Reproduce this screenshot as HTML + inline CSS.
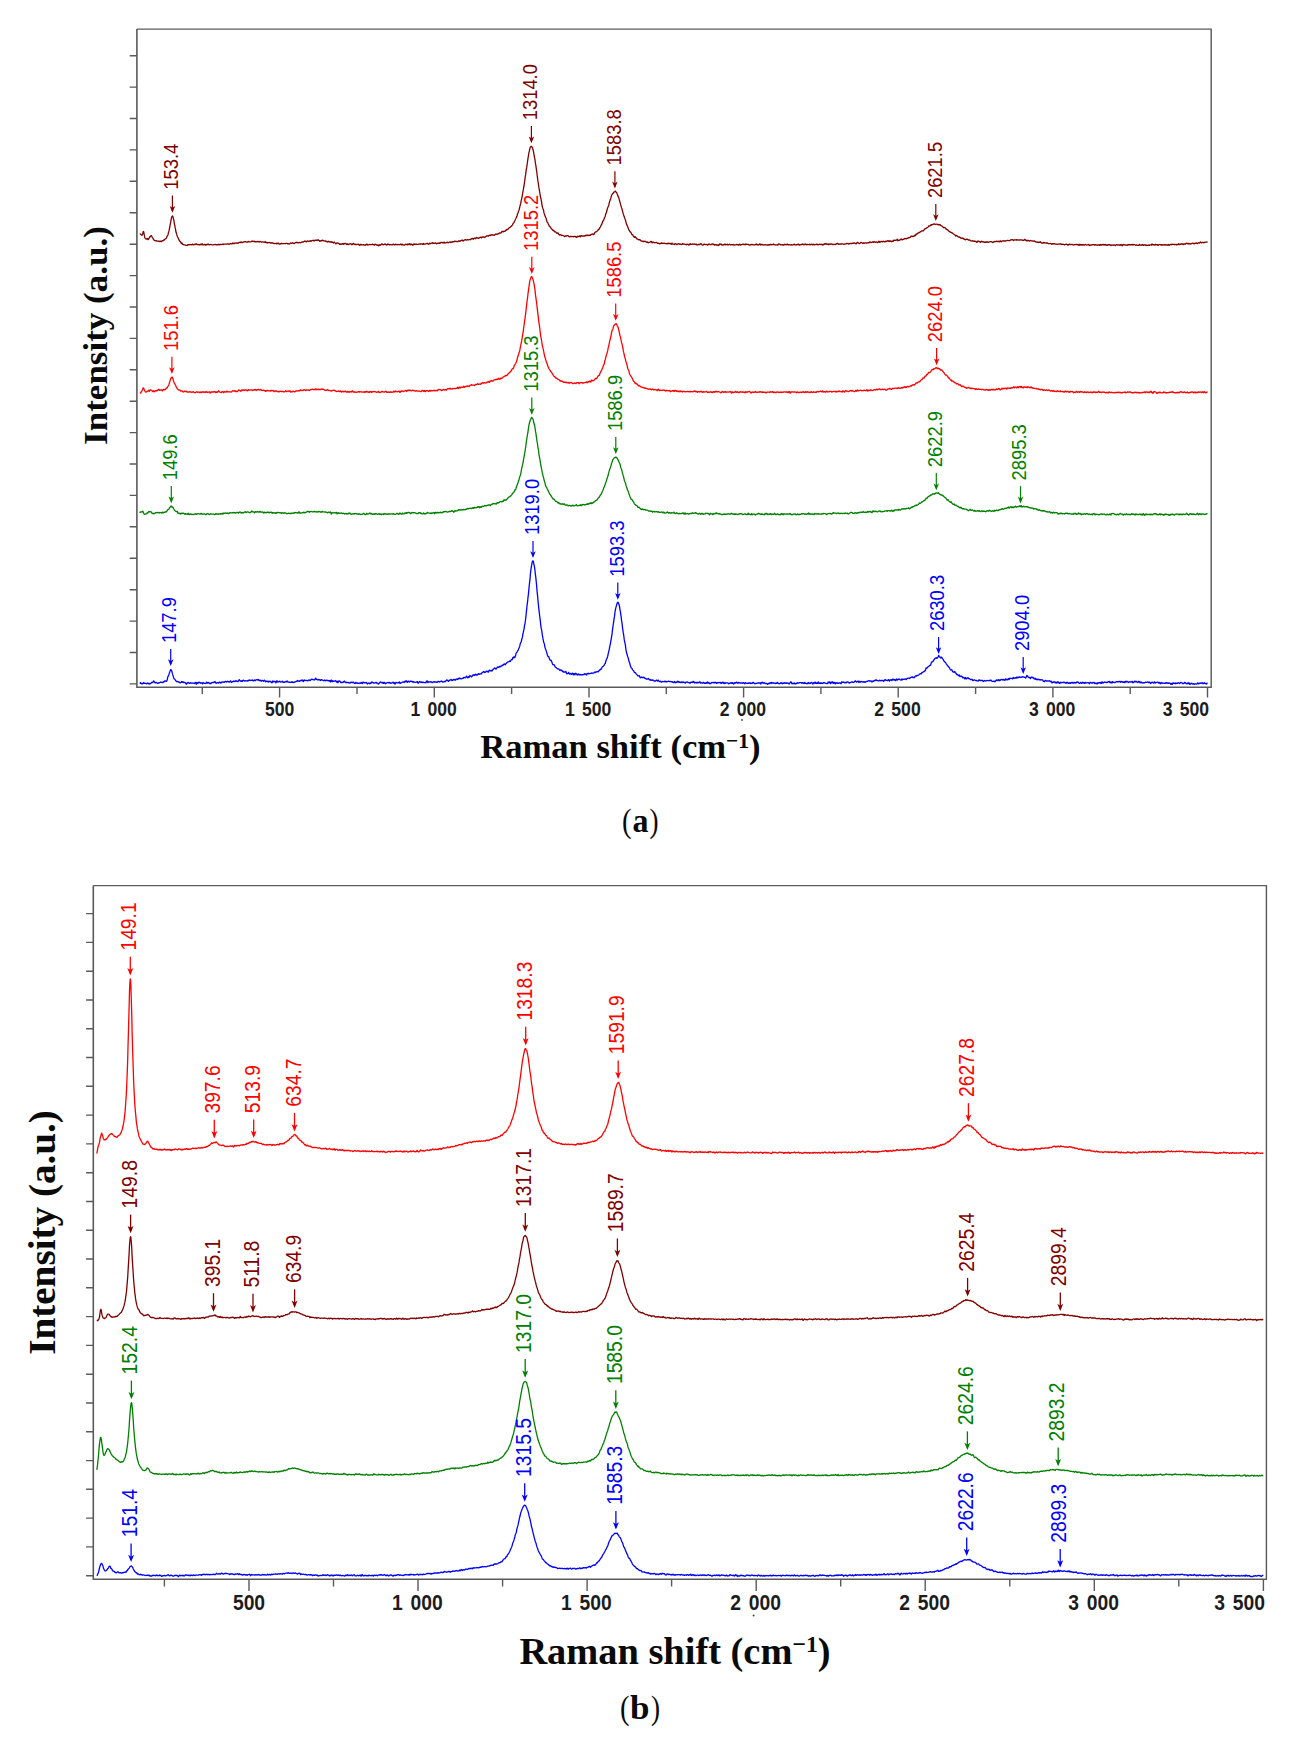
<!DOCTYPE html>
<html lang="en"><head><meta charset="utf-8"><title>Raman spectra</title>
<style>
html,body{margin:0;padding:0;background:#fff;}
body{width:1298px;height:1747px;position:relative;overflow:hidden;font-family:"Liberation Serif",serif;color:#111;}
svg text{white-space:pre;}
</style></head><body>
<svg width="1298" height="1747" viewBox="0 0 1298 1747" style="position:absolute;left:0;top:0;font-family:'Liberation Sans',sans-serif">
<path d="M139.8 234l.4-.1 .3 .3 .4 .4 .3 0 .3 .3 .4 .4 .3-.3 .4-.8 .3-1.2 .3-1.3 .4-.2 .3 1.4 .4 2.1 .3 1.7 .3 1 .4 .7 .3 .4 .4 .3 .3-.1 .4 0 .3-.1 .3-.4 .4 .3 .3 .9 .4-.2 .3-.7 .3-.6 .4-.5 .3-.8 .4-.5 .3 .1 .3-.4 .4-.6 .3 .1 .4 .5 .3 .9 .3 .7 .4 .3 .3 .5 .4 .9 .3 .4 .3 .3 .4 .4 .3 .1 .4 0 .3 .2 .3 .1 .4-.1 .3-.1 .4 .3 .3 .2 .3-.1 .4 0 .3 .1 .4 .1 .3-.2 .3 .2 .4 .3 .3-.2 .4-.2 .3 0 .3 .3 .4 0 .3-.3 .4-.2 .3-.3 .3 0 .4 .2 .3-.5 .4-.4 .3 .1 .3-.1 .4-.5 .3-.5 .4-.2 .3 0 .3-.2 .4-.6 .3-.8 .4-.9 .3-.5 .3-.3 .4-1.1 .3-1.6 .4-1.3 .3-1.1 .3-1.5 .4-1.9 .3-2 .4-1.9 .3-1.8 .3-1.7 .4-1.7 .3-1.2 .4-.3 .3-.4 .3 .4 .4 1.1 .3 1.4 .4 1.6 .3 1.8 .3 2 .4 1.7 .3 1.7 .4 2 .3 2.1 .4 1.3 .3 .7 .3 1.2 .4 1.3 .3 .8 .4 .6 .3 .6 .3 .8 .4 .8 .3 .6 .4 .5 .3 .4 .3 .1 .4 .4 .3 1.1 .4 .6 .3-.6 .3-.1 .4 .9 .3 .6 .4-.1 .3 .3 .3 .2 .4 0 .3 0 .4 .1 .3 .1 .3 .1 .4 .2 .3 .1 .4-.1 .3 0 .3 .1 .4-.2 .3-.5 .4 0 .3 .1 .3-.1 .4 .1 .3-.1 .4-.2 .3 .1 .3 .1 .4-.2 .3 .2 .4 .2 .3 0 .3-.5 .4-.2 .3 .3 .4 .3 .3 .1 .3-.3 .4-.4 .3 .2 .4 .2 .3-.2 .3-.3 .4-.2 .3-.1 .4 .4 .3 .4 .3 0 .4-.1 .3 0 .4 0 .3 .2 .3 .1 .4-.2 .3 .1 .4 .1 .3-.4 .3-.3 .4 .1 .3 .4 .4-.2 .3-.6 .3 .3 .4 .8 .3 0 .4 0 .3 .1 .3-.2 .4-.3 .3-.3 .4 .3 .3 .7 .4 0 .3-.3 .3-.4 .4-.2 .3 .3 .4 0 .3-.6 .3 0 .4 .6 .3 .1 .4 0 .3 .1 .3-.1 .4-.3 .3 .2 .4 .1 .3-.1 .3 .1 .4 .1 .3 0 .4 0 .3 .1 .3-.1 .4-.1 .3-.1 .4 0 .3-.1 .3-.1 .4 .1 .3 .2 .4 0 .3 .2 .3-.1 .4-.2 .3 .2 .4-.1 .3-.3 .3-.1 .4 .4 .3 .2 .4-.4 .3-.1 .3 .2 .4-.2 .3 .1 .4 .2 .3-.3 .3-.1 .4 .1 .3 0 .4-.4 .3 .3 .3 .3 .4-.4 .3-.1 .4 0 .3 0 .3 0 .4 0 .3 0 .4-.1 .3 .1 .3 .1 .4-.2 .3-.2 .4 .2 .3 0 .3 0 .4 .3 .3-.1 .4-.2 .3 0 .3-.2 .4-.3 .3 0 .4 .3 .3 0 .3 0 .4-.1 .3-.7 .4 .3 .3 .2 .3-.3 .4 .2 .3 .2 .4-.4 .3-.3 .4 .3 .3 0 .3-.1 .4 0 .3-.2 .4 0 .3 .3 .3 .1 .4-.2 .3-.2 .4-.4 .3-.1 .3 0 .4 0 .3 .2 .4 0 .3-.5 .3-.2 .4 .4 .3 .2 .4 0 .3 0 .3-.1 .4-.2 .3-.2 .4-.3 .3 .1 .3 0 .4-.1 .3 0 .4-.1 .3 .3 .3 .3 .4-.2 .3 0 .4 .1 .3 0 .3-.2 .4-.4 .3 0 .4 .4 .3 0 .3-.1 .4 0 .3 .1 .4 0 .3-.2 .3-.2 .4-.4 .3-.1 .4 .2 .3 .3 .3 .1 .4-.2 .3-.1 .4-.2 .3 .2 .3 .5 .4 0 .3-.1 .4 0 .3 .1 .3 0 .4-.3 .3-.1 .4 .2 .3 .3 .3-.1 .4-.3 .3 .3 .4 .2 .3-.3 .3-.3 .4 .2 .3 .1 .4 .1 .3 .2 .3 0 .4-.1 .3-.1 .4 0 .3 .4 .3 0 .4-.2 .3-.2 .4 .3 .3 .3 .4-.1 .3-.5 .3 .2 .4 .7 .3 0 .4-.3 .3 .5 .3 .1 .4-.5 .3-.1 .4 .3 .3 0 .3-.2 .4-.1 .3 .1 .4 .2 .3 .4 .3 0 .4-.2 .3-.2 .4 .2 .3 .2 .3-.2 .4 0 .3 .2 .4 .2 .3 .2 .3 .2 .4-.3 .3 0 .4 0 .3 .1 .3 .2 .4 .1 .3-.4 .4-.2 .3 .4 .3-.2 .4-.2 .3 0 .4 .1 .3 .7 .3 .2 .4-.3 .3 0 .4 .1 .3-.1 .3-.5 .4 0 .3 .2 .4-.1 .3 .1 .3 .1 .4 0 .3 0 .4-.2 .3 .1 .3 0 .4 0 .3 .1 .4-.1 .3-.2 .3-.1 .4 .1 .3-.1 .4 .1 .3 .4 .3 0 .4-.2 .3 .1 .4 .3 .3 .1 .3-.1 .4-.3 .3-.5 .4-.3 .3 .1 .3 .3 .4 .2 .3-.2 .4-.4 .3-.3 .3 .3 .4 .4 .3 .1 .4 .1 .3 0 .4-.2 .3-.4 .3-.3 .4 0 .3-.2 .4-.1 .3 .2 .3-.1 .4 .1 .3 .3 .4 0 .3-.1 .3 .1 .4-.1 .3-.2 .4 0 .3 .2 .3 .1 .4-.1 .3-.3 .4-.3 .3 0 .3-.1 .4 0 .3 .2 .4-.1 .3-.4 .3-.2 .4-.2 .3-.2 .4 .2 .3-.1 .3 0 .4 .3 .3 .4 .4-.1 .3-.5 .3-.3 .4 0 .3 .2 .4 0 .3 .1 .3 .2 .4-.3 .3-.1 .4-.1 .3-.3 .3 .3 .4 .4 .3-.4 .4-.3 .3-.1 .3-.1 .4-.2 .3 .3 .4 .3 .3-.3 .3-.3 .4 .4 .3 .1 .4-.3 .3-.3 .3-.1 .4 .2 .3 .1 .4-.2 .3 .1 .3 .2 .4-.6 .3-.2 .4 .6 .3 0 .3 0 .4 .6 .3 .5 .4-.2 .3-.2 .3-.3 .4-.2 .3 .2 .4 .2 .3-.4 .3-.4 .4 .1 .3 .3 .4 .2 .3 .2 .4 .2 .3-.1 .3-.1 .4 0 .3 .2 .4 .4 .3-.2 .3-.1 .4 .5 .3 .2 .4 .2 .3-.1 .3-.5 .4-.3 .3 .2 .4 .3 .3 .2 .3 .2 .4 0 .3-.2 .4-.2 .3 .2 .3 .4 .4 .1 .3-.2 .4-.2 .3 .5 .3 .5 .4-.5 .3-.4 .4 .1 .3 .3 .3 .5 .4 .6 .3 .2 .4-.2 .3-.4 .3-.3 .4 .1 .3 0 .4 .1 .3 .2 .3 .1 .4-.1 .3 .6 .4 .5 .3-.3 .3-.1 .4 .4 .3-.3 .4-.2 .3 .4 .3 0 .4-.2 .3-.3 .4-.3 .3 .2 .3 .6 .4-.1 .3-.6 .4-.3 .3 .2 .3 .1 .4-.1 .3 .3 .4 .5 .3 .2 .3-.4 .4-.3 .3 .4 .4 .3 .3 0 .3-.3 .4-.2 .3 .1 .4-.1 .3-.1 .3-.1 .4-.1 .3 .2 .4 .5 .3 .2 .3 0 .4-.2 .3-.4 .4-.6 .3 .2 .4 .6 .3 .1 .3-.1 .4 .5 .3-.1 .4-.3 .3 .3 .3 .1 .4-.2 .3-.2 .4 0 .3 0 .3 0 .4-.1 .3 .1 .4 .4 .3 .5 .3 .2 .4-.2 .3-.5 .4-.4 .3 .1 .3 .4 .4 .1 .3 0 .4-.1 .3 .1 .3 .1 .4-.3 .3-.1 .4 .4 .3 .2 .3-.1 .4-.2 .3 .1 .4 .2 .3-.6 .3-.5 .4 0 .3 .2 .4 .4 .3 .4 .3-.3 .4 0 .3 .1 .4-.4 .3 0 .3 .1 .4-.1 .3 .1 .4 0 .3 .1 .3 0 .4-.1 .3-.3 .4-.2 .3 .2 .3 .4 .4 0 .3 .1 .4 .5 .3-.2 .3-.7 .4-.2 .3 .1 .4 .2 .3 .1 .3 .3 .4 .4 .3 0 .4-.3 .3-.1 .3 .4 .4 .5 .3-.2 .4-.7 .3-.3 .3 .2 .4 .4 .3-.2 .4-.5 .3-.1 .3-.3 .4-.2 .3 .5 .4 .3 .3 .1 .4 0 .3-.2 .3-.1 .4-.2 .3-.3 .4 0 .3 .3 .3 .1 .4 .3 .3 .3 .4 0 .3-.2 .3-.5 .4-.3 .3 .1 .4 .2 .3 .2 .3 .3 .4 .1 .3-.4 .4 .1 .3 .1 .3 0 .4 .2 .3 0 .4-.1 .3 .1 .3-.2 .4-.4 .3-.2 .4 0 .3 .4 .3 .4 .4 0 .3-.1 .4-.4 .3-.3 .3 .2 .4 .4 .3-.1 .4 .1 .3 .1 .3-.2 .4-.1 .3 .1 .4 0 .3 0 .3 .2 .4-.1 .3-.4 .4-.2 .3 0 .3 .6 .4 .2 .3-.6 .4-.1 .3 .5 .3 .2 .4 0 .3 0 .4 .1 .3 .1 .3-.1 .4 0 .3-.5 .4-.4 .3 .1 .3 .1 .4 .3 .3 .3 .4-.1 .3-.5 .3-.3 .4 .1 .3 .4 .4 .1 .3-.4 .3-.5 .4 .1 .3 .6 .4 .5 .3-.2 .3-.5 .4 0 .3 .3 .4 .2 .3 .5 .4-.3 .3-.7 .3-.2 .4 .3 .3 .1 .4-.4 .3-.1 .3 .4 .4 .1 .3-.1 .4-.1 .3 0 .3 .1 .4 .1 .3 0 .4-.1 .3 0 .3-.2 .4-.1 .3 .2 .4-.1 .3-.2 .3 .1 .4 .1 .3-.3 .4 .1 .3 .1 .3 .1 .4 .2 .3-.4 .4-.4 .3 .4 .3 .4 .4-.1 .3 0 .4-.1 .3 0 .3-.1 .4-.3 .3-.1 .4 0 .3-.2 .3-.2 .4 .3 .3 .5 .4 .2 .3 .2 .3-.4 .4-.5 .3-.3 .4 .1 .3 .3 .3 0 .4-.2 .3-.3 .4 0 .3-.1 .3-.4 .4 .5 .3 .4 .4-.2 .3-.2 .3 .2 .4 .1 .3-.3 .4-.1 .3-.2 .3 .2 .4 .6 .3 .3 .4-.2 .3-.4 .3-.1 .4 .1 .3 0 .4-.3 .3-.1 .3 .4 .4 0 .3-.3 .4 .1 .3-.2 .3-.5 .4-.1 .3 .3 .4 .1 .3-.4 .4 .2 .3 .5 .3 0 .4-.3 .3-.5 .4 .2 .3 .5 .3 .2 .4-.3 .3 .1 .4 0 .3-.3 .3-.1 .4-.3 .3 0 .4 .5 .3 .1 .3-.1 .4-.3 .3-.2 .4 0 .3-.3 .3 .2 .4 .4 .3-.4 .4-.1 .3 .2 .3 .1 .4-.2 .3-.4 .4 0 .3 0 .3 0 .4 .2 .3-.2 .4-.5 .3 0 .3 0 .4 .1 .3 .3 .4-.1 .3-.1 .3 .1 .4 .1 .3 .1 .4-.1 .3-.4 .3-.3 .4 .1 .3 .3 .4-.3 .3 0 .3 .2 .4-.4 .3-.4 .4 0 .3-.1 .3-.2 .4 .1 .3 .5 .4 .4 .3-.3 .3-.4 .4-.1 .3-.3 .4-.1 .3-.1 .3-.1 .4 .2 .3 0 .4 .1 .3 0 .3-.2 .4-.1 .3 0 .4 .1 .3 0 .3 0 .4-.1 .3 0 .4-.1 .3-.2 .3 .2 .4-.1 .3-.6 .4-.3 .3 0 .4-.1 .3-.1 .3 .5 .4 .3 .3-.3 .4-.4 .3-.3 .3-.1 .4 0 .3 .3 .4 .3 .3-.4 .3-.7 .4-.1 .3 .3 .4 .3 .3 0 .3-.1 .4 .3 .3 .1 .4-.3 .3-.4 .3-.2 .4-.2 .3-.1 .4 0 .3 .2 .3 .6 .4-.4 .3-.6 .4 .2 .3-.1 .3-.2 .4 0 .3 0 .4 .3 .3 .3 .3-.1 .4-.3 .3-.4 .4-.3 .3 0 .3-.3 .4-.4 .3 .1 .4 .2 .3-.1 .3 .1 .4 0 .3-.3 .4-.4 .3-.1 .3 .1 .4 .3 .3-.2 .4-.5 .3 .1 .3 0 .4-.3 .3 0 .4 .5 .3 0 .3-.2 .4 .1 .3 .2 .4-.1 .3 0 .3-.6 .4-.6 .3 .1 .4 .1 .3-.2 .3 .2 .4 .2 .3-.1 .4-.3 .3-.5 .3 0 .4 .3 .3-.3 .4-.6 .3-.1 .3 .1 .4 .1 .3-.2 .4 0 .3-.4 .4-.8 .3-.2 .3 .1 .4 .1 .3 .2 .4-.2 .3-.5 .3 0 .4 .2 .3 0 .4-.5 .3-.4 .3 .1 .4-.3 .3-.6 .4-.1 .3 .2 .3 0 .4-.4 .3-.6 .4-.5 .3-.2 .3-.3 .4 0 .3-.3 .4-.6 .3-.1 .3-.2 .4-.5 .3-.4 .4-.1 .3-.5 .3-.7 .4-.6 .3-.6 .4-.3 .3-.5 .3-.8 .4-.8 .3-.7 .4-.7 .3-.6 .3-.7 .4-.6 .3-.8 .4-1.4 .3-1.2 .3-.8 .4-.7 .3-1.2 .4-.9 .3-.9 .3-1.5 .4-1.5 .3-1.3 .4-1.3 .3-1.6 .3-1.7 .4-1.5 .3-1.5 .4-1.8 .3-2 .3-2 .4-1.9 .3-1.9 .4-2 .3-2.1 .3-2.4 .4-2.6 .3-2.3 .4-2.4 .3-2.5 .3-2.4 .4-1.9 .3-2.1 .4-2.6 .3-2.3 .3-2.1 .4-2.3 .3-2.1 .4-1.7 .3-1.4 .3-1.5 .4-1.4 .3-1 .4-.3 .3-.3 .4 0 .3 .7 .3 .2 .4 .3 .3 1.2 .4 1.4 .3 1.5 .3 2 .4 2.1 .3 1.6 .4 1.9 .3 2.3 .3 2.2 .4 2 .3 2.3 .4 2.7 .3 2.3 .3 2.5 .4 2.9 .3 2.5 .4 2.1 .3 2.5 .3 2.2 .4 1.6 .3 2.1 .4 2.4 .3 2 .3 1.7 .4 1.3 .3 1.8 .4 2.2 .3 2 .3 1.7 .4 1.4 .3 .9 .4 .9 .3 1.5 .3 1.7 .4 1.2 .3 1 .4 .9 .3 .9 .3 .6 .4 .7 .3 1.3 .4 1.4 .3 1.1 .3 .3 .4 .3 .3 .9 .4 .8 .3 .6 .3 .9 .4 .4 .3 .2 .4 .5 .3 .5 .3 .4 .4 .6 .3 .6 .4 .2 .3 .1 .3 .5 .4 .7 .3 .1 .4-.2 .3 .2 .3 .7 .4 .4 .3 .1 .4 .1 .3 0 .3 .2 .4 .4 .3 .6 .4 .3 .3-.1 .3-.2 .4-.2 .3 .4 .4 .8 .3 .4 .3 .4 .4 .1 .3-.4 .4 .1 .3 .2 .4-.1 .3 .5 .3 .3 .4-.3 .3 0 .4 .2 .3 .1 .3 .1 .4 .1 .3 .3 .4 .5 .3-.1 .3-.4 .4 0 .3-.2 .4 0 .3 .2 .3-.1 .4-.3 .3 0 .4 0 .3 0 .3 .4 .4 .5 .3 .3 .4 0 .3-.3 .3-.1 .4 0 .3 0 .4 .1 .3-.1 .3 0 .4 .2 .3 0 .4-.3 .3-.1 .3 .5 .4-.1 .3-.4 .4 .1 .3 .1 .3-.1 .4 .5 .3 .2 .4-.2 .3 .4 .3 0 .4-.7 .3-.4 .4 .2 .3 .2 .3 .1 .4-.2 .3-.4 .4-.2 .3 .5 .3 .3 .4-.5 .3-.5 .4 0 .3 .2 .3 .3 .4 0 .3-.2 .4 0 .3 .1 .3-.2 .4-.1 .3 .3 .4 .1 .3-.3 .3-.4 .4-.4 .3 .1 .4 .3 .3 .2 .3-.5 .4-.1 .3 .3 .4 .1 .3-.1 .4-.2 .3-.1 .3 .4 .4 .2 .3-.5 .4-.6 .3-.1 .3 0 .4-.2 .3-.2 .4-.1 .3 0 .3 .4 .4 .1 .3-.2 .4 0 .3-.7 .3-.9 .4-.4 .3-.2 .4-.3 .3 0 .3 0 .4-.3 .3-.5 .4-.2 .3-.2 .3-.6 .4-.5 .3-.3 .4-.1 .3-.5 .3-.9 .4-.6 .3-.5 .4-.9 .3-.5 .3-.5 .4-.8 .3-.8 .4-1 .3-1.1 .3-.3 .4-.3 .3-.9 .4-1.1 .3-.8 .3-.7 .4-1 .3-1.6 .4-1 .3-.4 .3-1.2 .4-1.4 .3-1.3 .4-1.1 .3-.8 .3-.7 .4-.9 .3-1.3 .4-1.7 .3-1.1 .3-.9 .4-.9 .3-1 .4-1.4 .3-1.4 .3-.6 .4-.5 .3-.9 .4-.3 .3-.1 .3-.5 .4-.7 .3-.4 .4 0 .3 .1 .3-.5 .4-.2 .3 .5 .4 .5 .3 .1 .3 .5 .4 1.2 .3 .8 .4 1 .3 1 .4 .3 .3 .7 .3 1.8 .4 1.5 .3 .8 .4 1.2 .3 1.3 .3 1.1 .4 1.2 .3 1.2 .4 1.1 .3 1 .3 1.3 .4 1.5 .3 1.4 .4 1.1 .3 .8 .3 1 .4 1 .3 .8 .4 .9 .3 1.2 .3 1.2 .4 1.4 .3 1 .4 .8 .3 .7 .3 .7 .4 .9 .3 .9 .4 1 .3 .6 .3 .3 .4 .7 .3 .7 .4 .1 .3 .2 .3 .6 .4 .9 .3 .7 .4 .3 .3-.1 .3 .2 .4 1 .3 .7 .4-.1 .3 .4 .3 .7 .4-.2 .3-.5 .4 .4 .3 .5 .3 .2 .4 .3 .3 .7 .4 .2 .3 0 .3 .2 .4 .3 .3 .3 .4-.3 .3-.1 .3 .3 .4 0 .3 .1 .4 .6 .3 .5 .3 0 .4 0 .3 .1 .4 0 .3 .2 .3 .4 .4-.1 .3-.5 .4 .1 .3 .2 .3 .1 .4-.1 .3-.1 .4 .2 .3 .4 .3 .3 .4 .2 .3-.2 .4-.3 .3 .4 .4 .5 .3-.1 .3-.3 .4-.1 .3 .1 .4-.2 .3-.2 .3-.3 .4-.4 .3 0 .4 .6 .3 .8 .3 .1 .4-.5 .3-.3 .4 .1 .3 .2 .3 .3 .4 0 .3 0 .4 .2 .3-.2 .3 0 .4 .1 .3-.2 .4-.1 .3 .4 .3 .3 .4 .2 .3 0 .4-.1 .3 .1 .3 .1 .4 .3 .3 .2 .4-.2 .3-.2 .3 .2 .4-.3 .3-.5 .4 .1 .3 .3 .3 .1 .4-.1 .3-.1 .4 .2 .3 0 .3-.2 .4 .2 .3 0 .4 .2 .3 .1 .3-.1 .4 0 .3 0 .4 .2 .3 0 .3-.3 .4-.3 .3-.1 .4 .3 .3 .3 .3-.3 .4-.1 .3 .3 .4-.2 .3-.1 .3 .6 .4 .4 .3-.6 .4-.6 .3 .5 .3 .6 .4 0 .3 0 .4-.1 .3 .2 .3 .2 .4-.5 .3-.4 .4 .3 .3 .1 .3-.1 .4 .4 .3 .4 .4-.1 .3-.4 .4-.2 .3-.1 .3-.1 .4-.1 .3 .2 .4 .4 .3-.2 .3-.2 .4 .3 .3 .2 .4-.1 .3 .1 .3 .2 .4-.3 .3-.8 .4 .2 .3 .5 .3 0 .4-.1 .3 0 .4 .1 .3 .1 .3 .1 .4-.1 .3 .4 .4 .2 .3-.4 .3-.4 .4 .1 .3 .2 .4-.1 .3 .1 .3 .6 .4 0 .3-.4 .4-.3 .3-.4 .3-.2 .4 .6 .3 .3 .4-.3 .3 0 .3 .1 .4-.4 .3-.2 .4 .3 .3 .2 .3-.2 .4 .1 .3 .1 .4-.3 .3 .1 .3 .3 .4 0 .3-.2 .4-.1 .3 .6 .3 .3 .4-.1 .3 0 .4-.1 .3-.2 .3-.3 .4-.1 .3 .3 .4 0 .3-.2 .3-.5 .4-.2 .3 .2 .4 .2 .3 .6 .3 .5 .4 .1 .3 0 .4-.2 .3-.5 .3-.4 .4 0 .3 .2 .4 .3 .3 .1 .3-.1 .4-.2 .3 0 .4 0 .3 .3 .4 .5 .3 0 .3-.5 .4-.5 .3 .1 .4-.1 .3-.2 .3 .3 .4 .3 .3 .2 .4 0 .3-.3 .3-.4 .4 .1 .3 0 .4-.2 .3 0 .3 .4 .4 .1 .3-.3 .4 .3 .3 .6 .3 0 .4-.3 .3 0 .4-.3 .3 0 .3 .4 .4 .3 .3 .1 .4-.3 .3-.2 .3 .3 .4 .4 .3-.2 .4-.6 .3-.8 .3-.1 .4 .5 .3-.1 .4-.2 .3 .1 .3 .6 .4 .3 .3 .2 .4-.1 .3-.4 .3-.1 .4 .4 .3-.1 .4-.5 .3-.3 .3-.1 .4 .3 .3 .5 .4-.1 .3-.2 .3 .2 .4-.2 .3-.3 .4 .4 .3 .4 .3-.2 .4-.2 .3-.1 .4-.3 .3 .1 .3 .4 .4 .2 .3 0 .4 0 .3-.1 .3-.2 .4 0 .3 .2 .4-.1 .3-.3 .3 .3 .4 .3 .3 0 .4 0 .3 0 .3-.1 .4 0 .3-.1 .4-.2 .3-.2 .4 .2 .3 .2 .3-.1 .4 0 .3 .3 .4 .1 .3-.3 .3-.4 .4-.2 .3 .3 .4 .6 .3 0 .3-.4 .4 0 .3 0 .4-.3 .3-.2 .3 0 .4-.1 .3 .1 .4 .5 .3 0 .3-.3 .4 .2 .3 .2 .4-.6 .3-.3 .3 .3 .4 .2 .3 0 .4 0 .3 0 .3-.1 .4 .1 .3 .2 .4 .1 .3 .3 .3 .2 .4-.1 .3-.1 .4-.1 .3-.3 .3-.2 .4 .2 .3 .2 .4-.1 .3-.2 .3 0 .4 .3 .3 .1 .4-.1 .3 .1 .3 .1 .4-.2 .3-.2 .4 0 .3-.3 .3-.4 .4 .4 .3 .6 .4-.2 .3-.3 .3 .3 .4 .3 .3-.1 .4-.2 .3-.3 .3-.5 .4 0 .3 .8 .4 .3 .3-.5 .3-.1 .4 .1 .3-.2 .4 .2 .3 .5 .3 0 .4-.1 .3-.1 .4 0 .3 .1 .3-.1 .4-.2 .3 .1 .4 .1 .3 0 .4 .2 .3 .2 .3-.2 .4-.1 .3 .1 .4 0 .3-.4 .3 .1 .4 .3 .3-.1 .4-.3 .3-.3 .3 .1 .4 .4 .3 0 .4-.3 .3-.2 .3 .1 .4 .3 .3 .1 .4-.4 .3-.4 .3 .3 .4 .3 .3 .2 .4 .1 .3 0 .3 .1 .4-.1 .3 0 .4 0 .3-.1 .3 .2 .4 .1 .3-.3 .4-.7 .3-.3 .3 .2 .4 0 .3 .2 .4 .3 .3 .3 .3 .2 .4-.2 .3 .1 .4-.1 .3-.2 .3 .2 .4 .3 .3-.1 .4-.1 .3 .1 .3-.2 .4-.5 .3-.1 .4 .4 .3 0 .3 0 .4 .3 .3-.3 .4-.4 .3-.1 .3 .2 .4 .6 .3 .1 .4-.4 .3-.1 .3 .2 .4 .1 .3 .1 .4-.1 .3 .2 .3 .1 .4-.4 .3 .1 .4 .2 .3-.1 .3 0 .4-.1 .3-.2 .4-.1 .3-.3 .3 .1 .4 .4 .3 .1 .4 .1 .3 .1 .4-.3 .3 0 .3 .1 .4-.5 .3 0 .4 .4 .3-.2 .3-.4 .4 .3 .3 .6 .4 .2 .3-.3 .3-.1 .4-.1 .3-.1 .4 0 .3 .1 .3-.3 .4-.5 .3 .3 .4 .2 .3 0 .3 .2 .4 .2 .3-.2 .4-.1 .3-.4 .3-.2 .4 .3 .3 .3 .4 .3 .3-.3 .3-.3 .4 .3 .3 .2 .4-.1 .3 0 .3 .1 .4-.2 .3-.3 .4 .4 .3 .3 .3-.3 .4-.2 .3-.1 .4-.1 .3 .2 .3 .3 .4 .1 .3-.4 .4-.2 .3 .2 .3 .2 .4 .2 .3 0 .4-.4 .3 0 .3 .3 .4 0 .3-.1 .4-.3 .3-.3 .3 .2 .4 .5 .3 .2 .4-.1 .3-.1 .3-.2 .4-.2 .3-.1 .4 .1 .3 .1 .3 0 .4 .2 .3-.1 .4-.3 .3 .2 .3 .5 .4 .2 .3-.3 .4-.5 .3 .3 .3-.2 .4-.6 .3-.1 .4 .3 .3 .2 .4-.4 .3-.3 .3 .4 .4 .4 .3 .1 .4-.1 .3-.3 .3 0 .4 .5 .3 .3 .4-.4 .3-.4 .3-.2 .4 .2 .3 .3 .4-.3 .3-.2 .3 .3 .4 .1 .3-.1 .4 .4 .3 .1 .3-.3 .4 .1 .3 .1 .4-.2 .3 0 .3 .2 .4 0 .3-.3 .4-.2 .3 0 .3-.3 .4-.2 .3-.2 .4 0 .3 .6 .3 .5 .4-.2 .3-.2 .4 .1 .3 .2 .3-.1 .4-.4 .3 0 .4 .2 .3 0 .3 0 .4-.1 .3-.1 .4 .1 .3 .1 .3 .2 .4 .2 .3-.1 .4-.1 .3 0 .3-.3 .4-.1 .3 .1 .4-.1 .3-.4 .3 .1 .4 .2 .3-.1 .4-.2 .3 .2 .3 .4 .4 0 .3-.1 .4-.2 .3-.4 .3 .1 .4 .1 .3-.1 .4 0 .3 .3 .3 0 .4-.5 .3 .1 .4 .1 .3-.2 .3-.2 .4-.1 .3 0 .4 .1 .3 .2 .4 .1 .3 .4 .3 .2 .4-.2 .3-.5 .4-.7 .3-.2 .3 .4 .4 .2 .3 0 .4 .6 .3 .2 .3-.1 .4-.2 .3-.3 .4-.4 .3-.3 .3-.1 .4 .2 .3 .2 .4 .3 .3 .3 .3 .2 .4-.2 .3-.3 .4-.1 .3 .4 .3 0 .4-.3 .3-.1 .4-.1 .3 .1 .3 .2 .4 0 .3-.2 .4 0 .3 0 .3-.1 .4-.2 .3 .1 .4 .2 .3-.2 .3-.5 .4-.2 .3 0 .4 .4 .3 .3 .3-.1 .4-.3 .3-.1 .4-.3 .3 0 .3 .4 .4 0 .3-.4 .4-.4 .3 .2 .3 .4 .4 .1 .3 .1 .4-.1 .3-.2 .3-.1 .4 .1 .3 .4 .4 .2 .3-.2 .3-.1 .4-.4 .3-.7 .4 .1 .3 .6 .3 .5 .4-.2 .3-.5 .4-.3 .3 .2 .3 0 .4-.2 .3 .2 .4 .3 .3-.2 .3-.4 .4-.1 .3 .2 .4 .4 .3 .1 .4 0 .3-.4 .3-.3 .4 .1 .3 .4 .4-.2 .3-.5 .3-.2 .4-.1 .3 .3 .4 .4 .3-.4 .3-.3 .4 .6 .3 .2 .4-.4 .3-.2 .3 .4 .4 .2 .3 0 .4 .1 .3-.3 .3-.4 .4 .5 .3 .1 .4-.7 .3-.7 .3 0 .4 .3 .3-.1 .4-.1 .3 .1 .3 .1 .4 0 .3-.3 .4-.5 .3-.3 .3 .6 .4 .9 .3-.1 .4-.6 .3 .1 .3 .2 .4-.2 .3-.2 .4-.1 .3-.3 .3-.4 .4-.2 .3 .3 .4 .5 .3 .1 .3-.3 .4-.2 .3 0 .4 0 .3-.2 .3-.5 .4-.3 .3 0 .4 .2 .3 0 .3 .3 .4 0 .3-.3 .4-.4 .3 .1 .3 .1 .4-.4 .3-.3 .4 0 .3 .1 .3-.2 .4-.1 .3-.1 .4-.3 .3-.5 .3-.5 .4 0 .3 .2 .4 .3 .3-.1 .3-.3 .4 0 .3 .3 .4-.2 .3-.2 .4-.6 .3-.4 .3 .4 .4 0 .3-1 .4-.5 .3-.1 .3 .1 .4-.1 .3-.5 .4-.4 .3 0 .3-.1 .4-.4 .3 0 .4 0 .3-.4 .3-.3 .4-.1 .3-.4 .4-.3 .3 .1 .3-.1 .4-.1 .3-.1 .4 0 .3 0 .3-.3 .4-.7 .3-.4 .4-.3 .3-.4 .3 0 .4 0 .3-.4 .4-.2 .3-.2 .3-.2 .4-.2 .3-.2 .4-.3 .3-.6 .3-.4 .4 .1 .3 .1 .4-.3 .3-.4 .3-.2 .4-.2 .3-.5 .4 .1 .3 .3 .3-.2 .4-.3 .3-.2 .4-.2 .3-.1 .3 0 .4 0 .3 0 .4 .3 .3 .2 .3-.2 .4-.1 .3 0 .4 0 .3 .1 .3 .3 .4 .1 .3-.2 .4-.1 .3 .3 .3 .3 .4-.2 .3-.3 .4 .2 .3 .4 .3 .4 .4 .3 .3 0 .4 .1 .3 .4 .3 .2 .4 .1 .3 .5 .4 .5 .3 0 .4-.1 .3 .2 .3 0 .4 .1 .3 .3 .4 .5 .3 .6 .3 .2 .4 .1 .3 .2 .4 0 .3 .4 .3 .6 .4 .2 .3 .2 .4 .2 .3 .4 .3 .1 .4 .1 .3 .4 .4 .1 .3 0 .3 .4 .4 .3 .3-.1 .4 .1 .3 .4 .3 .3 .4 .2 .3 .3 .4 .3 .3 0 .3 .3 .4 .8 .3 .4 .4-.3 .3-.3 .3 0 .4 .4 .3 .5 .4 .3 .3 0 .3 .2 .4 .3 .3-.2 .4-.2 .3 .4 .3 .4 .4 .1 .3 .4 .4 .2 .3-.2 .3-.1 .4-.1 .3 .3 .4 .4 .3-.2 .3-.1 .4 .5 .3 .5 .4 .1 .3 .1 .3 .3 .4-.1 .3-.4 .4-.1 .3 .2 .3 0 .4-.2 .3 .1 .4 .5 .3 .2 .3 0 .4 0 .3 0 .4 0 .3 .3 .3 .3 .4 .2 .3 0 .4 .1 .3 .1 .3 0 .4-.1 .3-.2 .4 .2 .3 .2 .4 .2 .3 .2 .3-.2 .4-.3 .3 .3 .4 .2 .3-.1 .3 .2 .4 .6 .3 .2 .4-.3 .3-.6 .3-.5 .4 0 .3 .3 .4 .3 .3 .1 .3-.3 .4 .1 .3 .6 .4 .2 .3-.3 .3-.5 .4-.3 .3 .2 .4 .5 .3 0 .3-.3 .4 0 .3 .3 .4 .4 .3 0 .3-.2 .4 .1 .3 .2 .4-.1 .3-.5 .3 .2 .4 .3 .3-.3 .4-.2 .3 .1 .3 .2 .4 .3 .3-.1 .4-.3 .3-.2 .3 0 .4-.1 .3-.1 .4 .1 .3-.1 .3 0 .4 .2 .3 .3 .4 .2 .3 .3 .3-.2 .4-.6 .3 .1 .4 0 .3-.4 .3-.1 .4 .2 .3 0 .4 .1 .3-.2 .3-.4 .4 .2 .3 .3 .4-.2 .3-.1 .3 .3 .4-.1 .3-.3 .4 .4 .3 .3 .3-.5 .4-.6 .3 .1 .4 .5 .3 .5 .3-.3 .4-.5 .3-.1 .4-.1 .3-.1 .4 0 .3-.1 .3 .4 .4 .1 .3-.2 .4 .1 .3 .1 .3-.4 .4-.2 .3 .1 .4 0 .3-.1 .3-.2 .4 0 .3 .1 .4 .2 .3 0 .3-.1 .4 .1 .3 0 .4-.4 .3-.3 .3-.2 .4 .1 .3 0 .4-.2 .3-.1 .3 .2 .4 .1 .3 .2 .4 .4 .3-.2 .3-.5 .4 0 .3 0 .4 0 .3 .2 .3-.2 .4-.2 .3 .4 .4 .1 .3-.2 .3 0 .4 0 .3-.1 .4 .4 .3 0 .3-.2 .4 0 .3-.1 .4-.1 .3 .2 .3 0 .4-.1 .3-.1 .4 .2 .3 .2 .3 .1 .4 .1 .3 .1 .4-.2 .3-.4 .3-.5 .4 .1 .3 .4 .4 0 .3 .2 .3 .7 .4 .1 .3-.6 .4 .1 .3 .4 .3-.4 .4-.1 .3 .2 .4 .2 .3 .3 .3 0 .4-.4 .3-.1 .4 .1 .3 .1 .3 .2 .4 0 .3-.1 .4 .1 .3 .1 .4 .1 .3 .2 .3-.2 .4-.1 .3-.1 .4 .2 .3 .4 .3 0 .4 .2 .3 .3 .4 .1 .3-.1 .3 .2 .4 .2 .3-.3 .4-.1 .3 .2 .3 .3 .4-.2 .3-.2 .4 .2 .3-.1 .3-.4 .4 .3 .3 .7 .4 .3 .3-.2 .3 .1 .4 0 .3 .2 .4-.1 .3-.5 .3-.1 .4 .1 .3 .1 .4 .4 .3 0 .3-.1 .4-.2 .3 .2 .4 0 .3-.2 .3 0 .4 .4 .3 .2 .4 .2 .3 .1 .3-.1 .4 0 .3 0 .4 0 .3-.1 .3 0 .4 .1 .3 .3 .4 .4 .3-.1 .3-.6 .4 0 .3 .3 .4-.3 .3 .1 .3 .1 .4-.1 .3 .1 .4 .1 .3 .3 .3 0 .4-.1 .3 0 .4 .1 .3 .2 .3-.2 .4-.1 .3 .1 .4-.1 .3-.1 .3 .1 .4-.1 .3 .1 .4 .1 .3-.2 .3-.2 .4 .5 .3 .3 .4-.3 .3-.2 .4 .3 .3 0 .3-.2 .4 .3 .3 .1 .4 .2 .3 0 .3-.3 .4-.2 .3 .1 .4 0 .3-.3 .3 .1 .4 .3 .3 .1 .4 .2 .3 .4 .3-.3 .4-.5 .3 .1 .4 .1 .3-.4 .3 0 .4 .4 .3 0 .4 0 .3-.1 .3-.2 .4 0 .3 .1 .4 .4 .3 .2 .3-.2 .4 0 .3 0 .4-.1 .3 0 .3 0 .4 0 .3-.2 .4 0 .3-.2 .3 0 .4 .5 .3 .1 .4-.4 .3 0 .3 .4 .4 .5 .3-.1 .4-.7 .3-.3 .3 .5 .4 .2 .3-.3 .4-.2 .3 .1 .3 .4 .4 .1 .3-.4 .4-.2 .3 .2 .3 .3 .4 0 .3 0 .4 0 .3-.5 .3-.1 .4 .3 .3 .1 .4 .2 .3 .1 .3-.1 .4-.2 .3 0 .4 .1 .3-.3 .3-.2 .4 .5 .3 .5 .4 .2 .3-.4 .3-.2 .4 0 .3 .1 .4-.1 .3-.2 .4 0 .3-.1 .3-.1 .4 0 .3 .2 .4-.1 .3 .1 .3 .3 .4-.1 .3-.4 .4 .1 .3 .2 .3 0 .4 0 .3 .3 .4 .1 .3-.3 .3-.1 .4-.1 .3 0 .4 .4 .3 .1 .3-.5 .4-.2 .3-.1 .4 .4 .3 .4 .3-.3 .4-.4 .3 .1 .4 .2 .3-.2 .3-.3 .4-.1 .3 .5 .4 .4 .3-.2 .3-.3 .4-.3 .3 0 .4 .4 .3 .5 .3-.2 .4-.2 .3 .3 .4 .2 .3-.3 .3-.4 .4 0 .3 .2 .4-.2 .3 .1 .3 .2 .4-.2 .3 .2 .4 .6 .3-.1 .3-.5 .4-.2 .3 .3 .4 .1 .3 0 .3 .1 .4-.2 .3-.2 .4 .2 .3-.1 .3 .1 .4 .5 .3-.2 .4-.4 .3-.1 .3-.3 .4 .2 .3 .2 .4-.2 .3 0 .3 .1 .4 .2 .3 0 .4-.3 .3 .1 .3 .4 .4-.1 .3-.5 .4-.2 .3 .4 .4 .4 .3 .5 .3-.2 .4-.8 .3-.3 .4 .2 .3 .1 .3-.1 .4 .1 .3 .2 .4 0 .3 0 .3 .1 .4-.1 .3 .1 .4 .1 .3 .1 .3-.2 .4-.5 .3 .1 .4 .1 .3-.3 .3-.1 .4 .4 .3 .2 .4-.1 .3-.3 .3 0 .4 .3 .3 0 .4-.6 .3 0 .3 .6 .4 .2 .3-.3 .4-.3 .3 .1 .3 .1 .4 0 .3 .1 .4 .3 .3 .2 .3 0 .4-.3 .3-.2 .4 .4 .3 .1 .3 .1 .4 0 .3-.1 .4 .1 .3-.5 .3-.5 .4 .3 .3 .3 .4 .1 .3 .1 .3 .1 .4-.1 .3-.4 .4-.3 .3 .3 .3 .4 .4 .2 .3-.1 .4-.5 .3-.2 .3 .3 .4 .1 .3 0 .4-.1 .3 .2 .3 .4 .4-.2 .3-.1 .4 .2 .3-.1 .3 0 .4 0 .3-.2 .4-.2 .3 .3 .3 .2 .4-.4 .3-.2 .4 0 .3 .2 .4 .2 .3-.5 .3-.7 .4 .3 .3 .6 .4 0 .3-.3 .3 .1 .4 .2 .3 .3 .4 0 .3-.4 .3-.5 .4 0 .3 .5 .4 .1 .3-.2 .3 0 .4 .2 .3 .5 .4 0 .3-.4 .3-.3 .4 0 .3-.1 .4-.2 .3 .3 .3 .1 .4-.2 .3 0 .4 .3 .3 .4 .3-.2 .4-.3 .3-.1 .4 .2 .3 .1 .3-.1 .4-.2 .3 .1 .4 .4 .3-.2 .3-.5 .4 .2 .3 .2 .4 .2 .3 .2 .3-.1 .4-.3 .3-.3 .4-.1 .3 .6 .3 .3 .4-.2 .3-.4 .4-.3 .3 0 .3 .2 .4 .1 .3-.3 .4-.3 .3-.1 .3 .2 .4 .1 .3-.1 .4 0 .3 .1 .3 .1 .4 0 .3-.1 .4 .1 .3 .2 .3-.2 .4-.2 .3 .5 .4 .1 .3-.4 .3 .1 .4 0 .3-.4 .4-.4 .3 .4 .3 .4 .4-.2 .3-.3 .4 .1 .3 .2 .4-.4 .3-.2 .3 .4 .4-.1 .3-.3 .4 .1 .3 .5 .3 .1 .4-.5 .3-.1 .4 0 .3 0 .3 .5 .4-.3 .3-.5 .4-.1 .3-.2 .3-.1 .4 .1 .3 .1 .4 .2 .3 .5 .3-.3 .4-.5 .3 .2 .4 .4 .3 .1 .3 0 .4 0 .3-.2 .4-.2 .3 .1 .3-.1 .4-.5 .3 0 .4 0 .3 0 .3 .3 .4 .4 .3 0 .4-.4 .3-.2 .3 .2 .4 0 .3-.3 .4-.2 .3 .3 .3 .4 .4-.1 .3-.2 .4-.1 .3-.3 .3-.2 .4 .3 .3 .1 .4-.2 .3-.4 .3-.4 .4-.1 .3 .5 .4 .4 .3-.2 .3-.1 .4-.2 .3-.1 .4 .1 .3 .3 .3 .1 .4-.3 .3-.2 .4 .2 .3-.1 .3-.3 .4 0 .3 0 .4 .1 .3 0 .3-.4 .4-.2" fill="none" stroke="#800000" stroke-width="1.3" stroke-linejoin="round"/>
<path d="M139.8 392.9l.4 0 .3 .3 .4-.2 .3-1.1 .3-.5 .4-.3 .3-.9 .4-.9 .3-.8 .3-.7 .4 .2 .3 .8 .4 .9 .3 .7 .3 .7 .4 .5 .3 .4 .4 .2 .3-.2 .4-.3 .3-.3 .3-.1 .4-.1 .3-.1 .4-.7 .3-.3 .3 .7 .4 .4 .3-.5 .4-.6 .3-.2 .3 0 .4 .2 .3 .3 .4 .3 .3 .1 .3 .2 .4 .5 .3 0 .4-.5 .3-.2 .3 .6 .4 .3 .3-.4 .4-.4 .3-.2 .3 .1 .4 .2 .3-.5 .4-.2 .3 .4 .3-.3 .4-.4 .3 0 .4-.4 .3-.3 .3 .5 .4 .5 .3-.1 .4-.2 .3 0 .3 .1 .4-.1 .3 0 .4 .4 .3 .5 .3-.2 .4-.8 .3-.4 .4-.1 .3 .3 .3 .1 .4-.3 .3 0 .4 .2 .3-.5 .3-.8 .4-.3 .3-.1 .4-.1 .3-.5 .3-.7 .4-.5 .3-.4 .4-.8 .3-.9 .3-1.3 .4-1.2 .3-1 .4-1.2 .3-.8 .3-.7 .4-.5 .3-.3 .4 0 .3 .6 .3 .9 .4 1 .3 1.3 .4 1.1 .3 .8 .3 .5 .4 .7 .3 .6 .4 .6 .3 1.1 .4 .8 .3 .4 .3 .6 .4 .5 .3 .4 .4 .6 .3 .3 .3-.1 .4 .2 .3 .2 .4-.3 .3 .1 .3 .6 .4 .4 .3 0 .4-.1 .3-.1 .3 .1 .4 .5 .3 .2 .4 .2 .3 .2 .3-.2 .4-.3 .3-.3 .4 0 .3 .4 .3 .1 .4-.2 .3-.3 .4 .2 .3 .4 .3 .3 .4 .1 .3-.2 .4-.1 .3 .2 .3 .1 .4-.1 .3-.2 .4-.2 .3 0 .3 .2 .4 .3 .3 0 .4 .1 .3 0 .3-.1 .4-.1 .3-.2 .4-.2 .3 .1 .3 .4 .4 .4 .3 0 .4 0 .3 .1 .3-.4 .4-.2 .3 0 .4-.3 .3 0 .3 .3 .4 .3 .3-.2 .4 0 .3 0 .3-.3 .4 .3 .3 .5 .4-.1 .3-.2 .3-.5 .4 0 .3 .6 .4 .1 .3-.3 .3-.3 .4-.3 .3 .1 .4 .3 .3 .3 .3 .2 .4-.3 .3-.4 .4 .3 .3 .1 .4-.5 .3-.3 .3 .5 .4 .3 .3-.1 .4 .2 .3 0 .3-.3 .4 0 .3 0 .4-.2 .3 .2 .3 .8 .4 .1 .3-.7 .4-.5 .3 .1 .3 .2 .4 0 .3-.2 .4-.1 .3 .3 .3 .1 .4-.5 .3 0 .4 .2 .3-.4 .3 .1 .4 .8 .3 .2 .4-.6 .3-.1 .3 .5 .4 0 .3-.4 .4 .1 .3-.3 .3-.9 .4-.1 .3 .6 .4 .4 .3 .3 .3 .3 .4-.1 .3 0 .4 .3 .3-.2 .3-.5 .4-.2 .3-.1 .4 .1 .3 .4 .3 .4 .4 0 .3-.5 .4-.4 .3-.1 .3 .2 .4 .3 .3 .1 .4 0 .3-.3 .3-.7 .4 .1 .3 .6 .4 .1 .3-.1 .3 0 .4-.1 .3 .1 .4 .1 .3-.1 .3 0 .4 .2 .3 .1 .4-.2 .3-.2 .3-.3 .4-.4 .3-.4 .4 .2 .3 .2 .3 .1 .4-.1 .3-.3 .4 .2 .3 .3 .4-.3 .3 .1 .3 .7 .4-.1 .3-.2 .4 .2 .3-.1 .3-.4 .4-.4 .3-.5 .4-.2 .3 .3 .3 .1 .4 0 .3 .3 .4 .4 .3 .3 .3-.5 .4-.8 .3-.3 .4 .2 .3 .3 .3 0 .4-.5 .3 0 .4 .5 .3 .2 .3-.2 .4-.4 .3 0 .4 .2 .3-.1 .3 0 .4 .3 .3 .4 .4 .2 .3-.2 .3-.9 .4-.2 .3 .5 .4 0 .3-.1 .3 .2 .4 0 .3-.2 .4-.2 .3 .1 .3 0 .4-.1 .3 .4 .4 .3 .3-.3 .3-.4 .4 0 .3 .2 .4 .1 .3-.2 .3-.2 .4-.2 .3-.1 .4 .5 .3 .6 .3-.1 .4-.5 .3-.2 .4-.1 .3-.1 .3-.2 .4 .2 .3 .4 .4 0 .3 0 .3 .2 .4-.4 .3-.3 .4 .3 .3 .3 .3 .3 .4 .2 .3 0 .4-.1 .3 0 .3 0 .4-.2 .3 0 .4 .3 .3 .1 .4 .6 .3 .2 .3-.6 .4-.3 .3 .1 .4 .4 .3-.2 .3-.4 .4-.1 .3 .1 .4 .3 .3 .2 .3 .1 .4-.2 .3 0 .4 .3 .3 0 .3-.5 .4-.4 .3 .3 .4 .3 .3 0 .3-.2 .4-.2 .3 0 .4 .4 .3 .6 .3 .1 .4 .1 .3-.2 .4-.6 .3 .1 .3 .2 .4-.3 .3 .2 .4 .4 .3-.1 .3 0 .4 .5 .3 .1 .4-.4 .3 .1 .3 .3 .4-.5 .3-.3 .4 .3 .3 0 .3 .1 .4 .2 .3-.3 .4-.1 .3 .3 .3-.1 .4-.1 .3 .2 .4 .2 .3 .2 .3-.1 .4-.4 .3-.1 .4-.2 .3-.5 .3 .4 .4 .4 .3 0 .4-.1 .3-.3 .3 .1 .4-.3 .3 .1 .4 .4 .3-.1 .3-.3 .4-.3 .3 .5 .4 .7 .3 .3 .3-.2 .4-.2 .3 0 .4 0 .3-.2 .3-.4 .4-.1 .3 .4 .4 .2 .3 0 .4 .2 .3-.1 .3-.4 .4-.4 .3 0 .4 .1 .3-.3 .3 0 .4 .1 .3 0 .4 0 .3-.2 .3-.1 .4 .4 .3-.1 .4-.5 .3-.4 .3-.2 .4 .4 .3 .3 .4 0 .3-.1 .3-.1 .4 .2 .3 0 .4-.2 .3-.1 .3-.3 .4-.2 .3 .1 .4 .2 .3 .3 .3 .3 .4-.1 .3-.3 .4-.3 .3 .2 .3 .1 .4-.2 .3 .1 .4 .1 .3-.3 .3 .1 .4 .5 .3-.2 .4-.5 .3 0 .3 .1 .4-.3 .3-.3 .4 0 .3-.1 .3 0 .4 .2 .3 0 .4 .1 .3 .2 .3-.1 .4-.3 .3 .1 .4 .3 .3-.3 .3-.6 .4 0 .3 .5 .4 .4 .3 .1 .3-.4 .4 0 .3 .1 .4-.4 .3 0 .3 .5 .4 .1 .3-.2 .4-.1 .3 .2 .3 .1 .4-.5 .3-.2 .4-.1 .3 .1 .3 .4 .4 0 .3-.2 .4 .1 .3 .4 .4 .2 .3 0 .3 .2 .4 .3 .3 .1 .4-.2 .3 0 .3 0 .4-.3 .3-.3 .4-.2 .3 .5 .3 .5 .4-.1 .3-.1 .4 0 .3 .2 .3 .2 .4 0 .3 .2 .4 .3 .3-.2 .3-.5 .4-.2 .3 .3 .4 .1 .3-.2 .3-.2 .4-.2 .3 .3 .4 .2 .3-.3 .3 0 .4 .5 .3 .4 .4 .3 .3 0 .3-.1 .4-.1 .3 0 .4 0 .3-.1 .3-.2 .4 .2 .3 .4 .4-.1 .3-.6 .3-.1 .4 .4 .3 .3 .4 .5 .3 .1 .3-.6 .4-.3 .3 .5 .4 0 .3-.2 .3 .3 .4-.2 .3-.2 .4 .2 .3-.4 .3-.2 .4 .6 .3 .3 .4 0 .3 .2 .3-.1 .4-.6 .3 .3 .4 .6 .3-.2 .3-.4 .4 .1 .3 .3 .4-.1 .3-.3 .3-.1 .4 .3 .3 .1 .4-.5 .3-.2 .3-.4 .4-.1 .3 .9 .4 .4 .3-.3 .4 .1 .3 .3 .3-.2 .4-.4 .3 .4 .4 .4 .3 0 .3-.1 .4-.2 .3 .1 .4 0 .3-.2 .3-.1 .4-.3 .3-.1 .4 .5 .3 .2 .3-.3 .4-.2 .3 .1 .4 .1 .3 0 .3-.1 .4 0 .3 .3 .4 .1 .3-.1 .3 0 .4-.1 .3-.2 .4 .2 .3 .3 .3-.3 .4-.5 .3 .1 .4 .7 .3-.2 .3-.8 .4 0 .3 .3 .4 .2 .3 .4 .3-.1 .4-.1 .3 .5 .4-.1 .3-.7 .3-.1 .4 .3 .3-.2 .4-.2 .3 .5 .3 .4 .4-.2 .3-.3 .4-.3 .3 .3 .3-.1 .4-.3 .3 .2 .4 .1 .3-.2 .3 0 .4 .1 .3 .1 .4 .3 .3 .3 .3-.2 .4-.1 .3-.1 .4 0 .3-.1 .3-.5 .4 .2 .3 .7 .4 .1 .3 .1 .3 .2 .4-.4 .3-.2 .4 .1 .3-.2 .3-.5 .4-.1 .3 .2 .4 .1 .3 .1 .4 .2 .3 .1 .3 0 .4 0 .3-.3 .4-.2 .3-.1 .3-.4 .4 .2 .3 .8 .4 .2 .3-.2 .3 .2 .4 0 .3-.2 .4-.1 .3 .1 .3 0 .4 .3 .3 .1 .4-.6 .3 0 .3 .2 .4-.1 .3 .3 .4 .1 .3-.3 .3 .1 .4-.1 .3-.5 .4-.4 .3 0 .3 .5 .4 .3 .3-.2 .4-.5 .3-.3 .3 .4 .4 .3 .3-.1 .4 .1 .3 .2 .3-.1 .4-.3 .3-.1 .4-.2 .3-.1 .3 .5 .4 .8 .3 0 .4-.6 .3-.6 .3-.3 .4 .3 .3 .2 .4-.4 .3 0 .3 .2 .4 .1 .3 .3 .4-.2 .3-.3 .3 0 .4-.3 .3-.3 .4-.1 .3-.1 .3 .4 .4 .6 .3-.1 .4-.6 .3-.3 .3 .3 .4 0 .3-.4 .4-.2 .3 .5 .3 .1 .4-.2 .3 .2 .4-.2 .3 .1 .3 .3 .4 0 .3-.1 .4-.2 .3-.4 .4 0 .3 .3 .3 .3 .4 .2 .3-.2 .4 .1 .3 .4 .3-.1 .4-.1 .3 0 .4-.2 .3-.1 .3 .3 .4 .2 .3-.1 .4 0 .3 .1 .3-.2 .4-.1 .3 .1 .4 .3 .3 .2 .3 .2 .4-.1 .3-.2 .4-.3 .3-.6 .3-.3 .4 .4 .3 .1 .4 .2 .3 .4 .3 0 .4-.5 .3-.3 .4 .5 .3 .6 .3 0 .4-.6 .3-.4 .4 .1 .3 0 .3-.1 .4 .2 .3 .2 .4 .2 .3 .2 .3-.5 .4-.4 .3 .2 .4 .4 .3 0 .3-.5 .4-.3 .3 .1 .4 .3 .3 .2 .3-.1 .4-.1 .3 0 .4-.3 .3-.3 .3 .4 .4 .3 .3-.4 .4 0 .3 .4 .3 0 .4-.3 .3-.2 .4 .3 .3 .2 .3-.4 .4-.5 .3-.2 .4 .2 .3-.5 .3-.1 .4 .3 .3 0 .4 .1 .3 .2 .3 .2 .4 .1 .3 .3 .4 .1 .3-.3 .4-.3 .3-.4 .3-.2 .4 .2 .3 .1 .4 .2 .3 .2 .3-.3 .4-.2 .3 .1 .4 .4 .3 .1 .3-.5 .4-.6 .3-.3 .4-.2 .3 0 .3 .2 .4 0 .3 .2 .4-.2 .3-.5 .3-.2 .4 .6 .3 .4 .4-.3 .3 .1 .3 .1 .4 0 .3-.2 .4-.5 .3 0 .3 .3 .4 .1 .3-.2 .4-.1 .3 .1 .3 .2 .4-.1 .3-.2 .4-.1 .3 .1 .3-.2 .4-.6 .3-.5 .4 .7 .3 .9 .3-.3 .4-.5 .3-.5 .4-.4 .3 .5 .3 .5 .4-.3 .3-.4 .4-.3 .3 0 .3 .2 .4 .1 .3 .1 .4-.2 .3-.6 .3-.3 .4 .7 .3 .3 .4-.4 .3-.3 .3-.2 .4 .3 .3 0 .4-.5 .3-.2 .3 .2 .4 .1 .3-.3 .4-.1 .3 .1 .3 .4 .4 .1 .3-.4 .4-.6 .3-.3 .3 0 .4 0 .3-.4 .4-.2 .3 .4 .4 .1 .3 0 .3 .1 .4-.1 .3-.1 .4 .3 .3 .2 .3-.3 .4-.2 .3-.5 .4-.1 .3 .1 .3-.1 .4 .1 .3-.1 .4-.4 .3-.4 .3 .4 .4 .4 .3-.2 .4-.3 .3 .3 .3 0 .4 0 .3 .2 .4-.6 .3-.6 .3 .1 .4 .1 .3-.3 .4-.5 .3-.1 .3 .5 .4 .1 .3-.2 .4-.1 .3-.1 .3 0 .4 .3 .3 .1 .4-.1 .3-.1 .3-.1 .4-.4 .3-.5 .4-.1 .3 .2 .3-.2 .4-.3 .3 .3 .4 .6 .3-.2 .3-.8 .4-.5 .3 .3 .4 0 .3-.6 .3-.2 .4 .4 .3 .4 .4 0 .3-.3 .3-.1 .4-.4 .3-.4 .4-.1 .3-.2 .3 .1 .4-.1 .3-.2 .4 .1 .3 0 .3-.4 .4 0 .3 .2 .4-.1 .3-.5 .3-.5 .4 .3 .3 .4 .4 .1 .3 .2 .3-.2 .4-.7 .3-.2 .4 .3 .3-.1 .4-.3 .3-.2 .3-.1 .4-.5 .3-.3 .4-.2 .3-.2 .3-.2 .4-.2 .3 0 .4-.3 .3-.4 .3 0 .4-.1 .3 .2 .4-.1 .3-.5 .3-.5 .4-.5 .3-.4 .4-.4 .3-.2 .3-.3 .4-.2 .3-.2 .4-.6 .3-.6 .3 .1 .4-.5 .3-.9 .4-.6 .3-.5 .3-.2 .4 0 .3-.4 .4-.8 .3-1.2 .3-.8 .4-.4 .3-.6 .4-.5 .3-.5 .3-.8 .4-.8 .3-1.2 .4-1.4 .3-1.4 .3-1.1 .4-.8 .3-1.1 .4-1.4 .3-.9 .3-.8 .4-1.7 .3-2 .4-1.5 .3-1.9 .3-1.7 .4-1.4 .3-2 .4-2.3 .3-1.9 .3-1.9 .4-2.4 .3-2.6 .4-2.6 .3-2.4 .3-2.3 .4-2.6 .3-2.5 .4-2.4 .3-2.7 .3-3.2 .4-3.2 .3-2.8 .4-2.5 .3-2.6 .3-2.8 .4-2.6 .3-2.5 .4-2.6 .3-2.3 .3-2.1 .4-1.5 .3-.9 .4-1.2 .3-.8 .4-.5 .3-.1 .3 .6 .4 .7 .3 .9 .4 1.3 .3 1.2 .3 1.4 .4 1.9 .3 2.3 .4 2.3 .3 2.7 .3 3 .4 2.7 .3 2.3 .4 2.5 .3 2.8 .3 3 .4 2.9 .3 2.9 .4 3.1 .3 3 .3 2.6 .4 1.9 .3 2.3 .4 3.1 .3 3 .3 2.6 .4 2 .3 1.6 .4 2 .3 2.3 .3 1.8 .4 1.5 .3 1.4 .4 1.6 .3 1.7 .3 1.6 .4 1.7 .3 1.7 .4 1 .3 .8 .3 1.4 .4 1.4 .3 .9 .4 .9 .3 .8 .3 .9 .4 1.5 .3 .8 .4 .4 .3 1 .3 .8 .4 .3 .3 .5 .4 .6 .3 .6 .3 .6 .4 .1 .3 .4 .4 .7 .3 .4 .3 .5 .4 .7 .3 .6 .4 .7 .3 .4 .3 .1 .4 .1 .3 .3 .4 .8 .3 .4 .3 .2 .4-.1 .3 .2 .4 .4 .3 .2 .3 .3 .4 .2 .3 0 .4 .2 .3 .2 .3 .2 .4 .4 .3 .5 .4 .4 .3-.1 .4-.2 .3 .2 .3 .3 .4-.3 .3 .2 .4 .6 .3 .1 .3 0 .4 .3 .3 .1 .4-.3 .3 0 .3 0 .4 .2 .3 .3 .4-.2 .3-.3 .3 .6 .4 .2 .3-.1 .4-.1 .3-.2 .3 0 .4 .5 .3 .3 .4-.5 .3-.2 .3 .2 .4-.1 .3-.1 .4-.1 .3-.1 .3 .6 .4 .4 .3 .1 .4 .1 .3 .1 .3-.1 .4-.3 .3-.5 .4 .1 .3 .3 .3 0 .4 .4 .3 0 .4-.5 .3-.4 .3 0 .4 0 .3-.1 .4-.1 .3 .2 .3 .6 .4 .4 .3-.4 .4-.5 .3-.1 .3-.1 .4-.1 .3 0 .4 .2 .3 .1 .3-.1 .4 .2 .3 .2 .4 0 .3-.2 .3-.1 .4-.2 .3 .1 .4-.1 .3 0 .3-.1 .4-.3 .3-.2 .4 0 .3 .4 .3 .4 .4-.1 .3-.7 .4-.4 .3 .1 .4 .2 .3-.3 .3-.6 .4 .2 .3 .7 .4 .1 .3-.2 .3-1.1 .4-.7 .3 .2 .4 .4 .3 .3 .3-.1 .4-.4 .3-.1 .4-.1 .3-.2 .3-.5 .4-.7 .3-.4 .4 0 .3 .2 .3 0 .4-.1 .3-.7 .4-.8 .3-.6 .3-.5 .4-.2 .3-.1 .4-.2 .3-.5 .3-.9 .4-1.2 .3-.5 .4-.6 .3-.9 .3-.5 .4-.7 .3-.8 .4-.8 .3-.9 .3-1.2 .4-1 .3-.2 .4-.9 .3-1.9 .3-1.4 .4-1 .3-1.3 .4-1.7 .3-1.2 .3-.8 .4-1.3 .3-1.2 .4-1.1 .3-1.9 .3-1.6 .4-1.1 .3-1.6 .4-2.1 .3-1.6 .3-1.3 .4-1.2 .3-1.5 .4-1.7 .3-1.6 .3-1.6 .4-1.5 .3-.8 .4-.5 .3-1.1 .3-1.5 .4-1.1 .3-.3 .4-.5 .3-.4 .3-.2 .4-.1 .3-.3 .4-.1 .3 .4 .3 .6 .4 .8 .3 .8 .4 .5 .3 .9 .4 1.5 .3 1.3 .3 1.3 .4 2 .3 1.6 .4 .9 .3 1.4 .3 1.7 .4 1.5 .3 1.5 .4 1.5 .3 1.2 .3 1.5 .4 1.9 .3 2.2 .4 1.7 .3 1 .3 1.7 .4 1.9 .3 .9 .4 .9 .3 1.8 .3 1.4 .4 .6 .3 1.3 .4 1.4 .3 1.5 .3 1.6 .4 .9 .3 .4 .4 .7 .3 1.4 .3 1.5 .4 1 .3 .7 .4 .4 .3 .6 .3 .5 .4 .3 .3 .7 .4 .7 .3 .4 .3 .9 .4 1.1 .3 .6 .4 .3 .3 .2 .3 .2 .4 .9 .3 .8 .4-.3 .3-.1 .3 .5 .4 .3 .3 0 .4 .1 .3 .4 .3 .7 .4 .5 .3 .2 .4-.5 .3 .1 .3 .6 .4 .1 .3 .1 .4 .4 .3 .1 .3 .1 .4 .4 .3 .2 .4-.1 .3 0 .3 .1 .4 0 .3 .2 .4 .3 .3 .1 .3-.2 .4 0 .3 .5 .4 0 .3-.2 .3 .3 .4 .2 .3 0 .4 .1 .3 .2 .4 0 .3 .1 .3 .2 .4-.1 .3-.1 .4-.2 .3-.1 .3 .3 .4 .4 .3 .1 .4 .3 .3-.3 .3-.5 .4-.1 .3 .1 .4 .3 .3 .4 .3 .1 .4-.3 .3 0 .4 0 .3-.1 .3 .1 .4 .1 .3 .2 .4 .2 .3 .4 .3 .2 .4-.8 .3-.6 .4-.1 .3 .1 .3 .6 .4 .7 .3 0 .4-.4 .3-.1 .3 .1 .4 .1 .3 .1 .4 0 .3 0 .3-.1 .4-.2 .3 .1 .4-.2 .3 .1 .3 .2 .4-.1 .3 .4 .4 .1 .3 .1 .3 .3 .4-.5 .3-.4 .4 .4 .3 .1 .3 0 .4 0 .3-.1 .4 .2 .3 .1 .3-.3 .4-.2 .3 .3 .4 .8 .3 .2 .3-.4 .4-.2 .3 .1 .4-.2 .3-.3 .3-.1 .4 0 .3 .5 .4-.2 .3-.5 .3 .4 .4 .5 .3-.3 .4-.5 .3-.2 .3 .2 .4 .4 .3 .5 .4-.2 .3-.2 .4 .3 .3 .4 .3-.1 .4-.5 .3-.1 .4 .3 .3 .5 .3-.2 .4-.6 .3 .2 .4 .3 .3-.3 .3 .2 .4 .6 .3-.1 .4-.4 .3-.2 .3 0 .4 .2 .3 0 .4 0 .3 .2 .3 .2 .4-.2 .3-.1 .4 0 .3 .1 .3-.1 .4-.1 .3-.1 .4 .1 .3 .2 .3 0 .4 .1 .3-.1 .4-.1 .3-.3 .3 .1 .4 .5 .3-.3 .4-.1 .3 .1 .3 0 .4 .1 .3 .1 .4 0 .3-.3 .3-.3 .4 .2 .3 .1 .4-.6 .3-.1 .3 .7 .4 .4 .3-.2 .4-.3 .3 0 .3 .6 .4 .3 .3-.4 .4-.3 .3 0 .3 .1 .4 .3 .3-.1 .4-.1 .3-.3 .3-.2 .4 .4 .3 .1 .4-.4 .3 0 .3 .6 .4 .4 .3-.1 .4-.5 .3-.1 .3 .1 .4 0 .3 .2 .4-.1 .3-.1 .3 0 .4-.1 .3-.3 .4 .1 .3 .4 .4 .3 .3 .3 .3-.1 .4-.4 .3 .2 .4 .2 .3-.3 .3 0 .4-.1 .3-.2 .4-.1 .3 .4 .3 .3 .4-.3 .3 .1 .4 .5 .3-.1 .3-.8 .4-.1 .3 .1 .4-.1 .3 .4 .3 .2 .4-.5 .3-.3 .4-.1 .3-.2 .3 .1 .4 .7 .3 .1 .4-.4 .3 0 .3 0 .4-.1 .3 .1 .4 .3 .3 .1 .3 .1 .4 .1 .3 .3 .4 .2 .3-.3 .3-.4 .4-.5 .3-.2 .4 .3 .3 .2 .3 .3 .4 .2 .3-.2 .4-.1 .3-.2 .3-.2 .4-.2 .3 .6 .4 .4 .3-.2 .3-.2 .4-.2 .3-.1 .4 .2 .3 .1 .3-.1 .4 .2 .3-.2 .4-.3 .3-.1 .3-.1 .4 .2 .3 .3 .4 .8 .3 .3 .3-.6 .4-.7 .3 .3 .4 .6 .3-.3 .3-.1 .4 .1 .3-.1 .4-.2 .3-.2 .3-.5 .4 0 .3 .5 .4 .5 .3-.1 .4-.4 .3-.2 .3 .1 .4 .3 .3 .4 .4 .1 .3 .1 .3-.2 .4-.5 .3-.4 .4 0 .3 .3 .3 .2 .4 0 .3 .1 .4-.2 .3-.2 .3 .3 .4 .2 .3-.1 .4-.2 .3 .3 .3 .3 .4 0 .3-.4 .4-.4 .3 .3 .3 .4 .4-.4 .3-.3 .4 .1 .3 .2 .3 0 .4-.3 .3-.1 .4-.2 .3-.1 .3 .2 .4 .1 .3 .4 .4 .6 .3 .2 .3 .1 .4-.3 .3-.6 .4-.1 .3 .2 .3 .1 .4 .1 .3-.1 .4-.3 .3 .1 .3 .2 .4-.4 .3-.4 .4 .1 .3 .4 .3 .4 .4 0 .3 0 .4 0 .3-.4 .3-.1 .4 .2 .3 .1 .4 .1 .3-.2 .3-.4 .4-.1 .3 .1 .4 .5 .3 0 .3-.2 .4 .4 .3 0 .4-.5 .3 0 .3 .5 .4 0 .3-.2 .4 .1 .3 0 .3-.2 .4 .1 .3 .4 .4 .2 .3 0 .4-.2 .3-.5 .3-.1 .4 .2 .3-.1 .4 0 .3 0 .3 0 .4 .1 .3 .2 .4-.2 .3-.5 .3 .1 .4 .2 .3 0 .4 .2 .3 0 .3-.3 .4-.2 .3 .3 .4 .5 .3-.2 .3-.2 .4 0 .3 .4 .4 .1 .3-.2 .3 .2 .4 0 .3-.4 .4-.3 .3-.1 .3 .1 .4 .3 .3-.1 .4 .1 .3 .2 .3 .1 .4 0 .3-.1 .4-.2 .3-.3 .3 .4 .4 .3 .3-.3 .4-.2 .3-.1 .3 .1 .4 .3 .3-.1 .4-.5 .3 0 .3 .1 .4-.1 .3 .1 .4 .2 .3-.1 .3-.1 .4 .2 .3 0 .4-.1 .3 .4 .3 .1 .4-.4 .3-.4 .4 .4 .3 .4 .3-.6 .4-.2 .3 1 .4 .4 .3-.5 .3-.6 .4-.2 .3 0 .4 .1 .3 0 .3 0 .4 .1 .3 .1 .4 0 .3-.2 .3 .1 .4 0 .3 0 .4 .2 .3 0 .4 .2 .3 .3 .3-.4 .4-.5 .3 .1 .4 .5 .3 .2 .3-.1 .4-.2 .3 .1 .4 .1 .3-.3 .3-.2 .4 .2 .3 .1 .4 .2 .3 .1 .3-.4 .4-.2 .3 .2 .4 0 .3-.5 .3 .1 .4 .6 .3-.2 .4 .1 .3 .4 .3-.5 .4-.5 .3 0 .4 .3 .3 .3 .3-.1 .4-.4 .3-.1 .4 .4 .3 0 .3 .1 .4 .3 .3-.3 .4 .1 .3 .3 .3-.4 .4-.1 .3-.4 .4 0 .3 .6 .3 .2 .4-.1 .3 0 .4-.4 .3-.3 .3 .3 .4 .3 .3-.2 .4 0 .3 .2 .3-.1 .4 0 .3 .1 .4-.1 .3-.5 .3-.3 .4 .3 .3 0 .4-.1 .3 .3 .3 0 .4-.3 .3-.1 .4-.2 .3-.2 .3 .1 .4 .3 .3 .2 .4 .1 .3-.3 .3-.6 .4 .2 .3 .8 .4 .1 .3-.2 .3 .1 .4-.2 .3 0 .4 .2 .3 .2 .4 0 .3-.4 .3-.4 .4-.2 .3 .1 .4 .7 .3 .1 .3-.2 .4 .1 .3-.2 .4-.3 .3 .2 .3 0 .4-.2 .3 0 .4 0 .3 .1 .3 .4 .4 .2 .3-.2 .4-.2 .3-.2 .3-.1 .4-.1 .3 0 .4 .3 .3 .1 .3-.3 .4 .1 .3 .3 .4-.4 .3-.1 .3 .7 .4-.3 .3-.3 .4 .2 .3 .1 .3-.3 .4-.4 .3 .3 .4 .2 .3-.3 .3 .1 .4 .2 .3 .2 .4 0 .3-.2 .3 .4 .4 .2 .3-.8 .4-.3 .3 .2 .3 .1 .4-.1 .3 .6 .4 .3 .3-.6 .3-.5 .4-.3 .3-.2 .4 .3 .3 .4 .3 0 .4-.2 .3 .1 .4 .4 .3 .2 .3 0 .4-.2 .3-.3 .4-.2 .3-.4 .3-.1 .4 .2 .3 .1 .4 .3 .3-.1 .3-.5 .4 0 .3 .6 .4 .1 .3-.2 .3 .1 .4 .3 .3 .3 .4-.2 .3-.2 .4-.3 .3-.6 .3 .1 .4 .7 .3-.2 .4-.7 .3-.3 .3 .4 .4 .6 .3-.2 .4-.4 .3 .1 .3 .2 .4-.3 .3-.2 .4 .2 .3-.1 .3 0 .4 .4 .3 .1 .4-.2 .3 0 .3 0 .4-.1 .3 0 .4 0 .3-.3 .3 0 .4 .3 .3 .1 .4 0 .3 .2 .3-.2 .4-.6 .3-.3 .4 .3 .3 .7 .3 .5 .4-.4 .3-.7 .4 0 .3 .3 .3-.3 .4 .1 .3 .3 .4-.4 .3-.2 .3 .1 .4 .2 .3 .2 .4 .1 .3 0 .3-.2 .4-.2 .3-.3 .4 0 .3 .1 .3-.2 .4 .3 .3 .1 .4-.4 .3-.3 .3 .2 .4-.1 .3-.4 .4 .3 .3 .5 .3-.3 .4-.5 .3 0 .4-.1 .3-.1 .3 .4 .4 .3 .3 0 .4-.1 .3 0 .3 .2 .4-.2 .3-.3 .4-.1 .3 .4 .3 .2 .4-.2 .3 0 .4-.2 .3-.1 .4 .2 .3 .1 .3 .4 .4 .4 .3-.1 .4-.3 .3-.4 .3-.1 .4-.2 .3-.3 .4-.1 .3 .2 .3 .1 .4-.5 .3-.2 .4 .2 .3 .2 .3 .2 .4 .3 .3 0 .4-.2 .3-.2 .3-.4 .4-.3 .3 .2 .4 .2 .3-.1 .3-.2 .4-.1 .3-.1 .4 .1 .3-.1 .3 0 .4 .1 .3-.1 .4 .2 .3 .3 .3-.1 .4-.5 .3-.3 .4 .2 .3 .2 .3 .1 .4 0 .3 .2 .4-.1 .3-.2 .3 0 .4-.3 .3-.3 .4 .2 .3 .3 .3 .1 .4-.4 .3-.5 .4 .1 .3 0 .3-.3 .4-.3 .3 .1 .4 .4 .3 .4 .3 0 .4-.3 .3-.4 .4-.4 .3 0 .3 0 .4 0 .3 .2 .4 .2 .3-.1 .3-.2 .4-.3 .3 0 .4-.4 .3-.3 .3 .3 .4 .1 .3-.6 .4-.4 .3-.1 .3 .1 .4 0 .3-.3 .4-.3 .3 .4 .4 .2 .3-.5 .3-.3 .4-.5 .3-.6 .4-.2 .3 0 .3 .2 .4-.2 .3-.6 .4-.1 .3 0 .3-.2 .4-.3 .3 0 .4 .2 .3-.3 .3-.8 .4-.4 .3-.3 .4-.4 .3-.2 .3 0 .4-.6 .3-.7 .4-.2 .3-.1 .3 0 .4 .2 .3-.5 .4-1 .3-.5 .3 0 .4 .1 .3-.5 .4-.8 .3-.6 .3 0 .4 0 .3-.4 .4-.8 .3-.6 .3 0 .4 .1 .3-.1 .4 0 .3-.3 .3-.4 .4-.5 .3-.5 .4-.5 .3-.6 .3-.4 .4 .1 .3 .3 .4 0 .3-.6 .3-.4 .4 .2 .3 0 .4-.4 .3-.5 .3-.2 .4 .1 .3 .1 .4-.3 .3 .5 .3 .4 .4-.1 .3-.2 .4-.2 .3 .5 .3 .3 .4-.3 .3 .2 .4 .7 .3 .4 .3 .2 .4-.1 .3-.2 .4 .1 .3 .4 .3 .5 .4 .5 .3 .4 .4 .6 .3 .3 .4 .3 .3 .7 .3 .4 .4 .4 .3 .6 .4 .1 .3-.1 .3 .4 .4 .4 .3 .2 .4 .1 .3 .7 .3 .8 .4 .4 .3-.1 .4 .2 .3 .5 .3 .5 .4 .5 .3 .4 .4-.1 .3 0 .3 .8 .4 .6 .3-.2 .4-.1 .3 .1 .3 .2 .4 .5 .3 .4 .4 .2 .3 .2 .3 .3 .4-.1 .3 0 .4 .6 .3 .5 .3 0 .4-.2 .3-.1 .4 .1 .3 .3 .3 .4 .4 .4 .3 .4 .4-.1 .3-.3 .3-.2 .4 .4 .3 .8 .4 .2 .3 .1 .3 .6 .4 0 .3-.5 .4 0 .3 0 .3 .1 .4 .4 .3 .2 .4 .3 .3 .2 .3 0 .4 0 .3 .4 .4 .4 .3-.3 .3-.1 .4 .1 .3 0 .4-.1 .3-.2 .3-.2 .4 .1 .3 .2 .4 .3 .3 .4 .3 .3 .4-.2 .3-.4 .4 .1 .3 .4 .3-.1 .4-.1 .3 0 .4 0 .3 .3 .4 0 .3-.1 .3 .2 .4 0 .3 .4 .4 .4 .3-.5 .3-.4 .4 .1 .3 .2 .4 .4 .3 0 .3-.1 .4-.1 .3-.2 .4 .2 .3 .2 .3-.2 .4 0 .3 .2 .4 0 .3-.1 .3 .3 .4 .1 .3-.4 .4 0 .3 .2 .3 0 .4 .1 .3 .2 .4 .1 .3 0 .3 0 .4 .2 .3 .1 .4-.4 .3-.3 .3 0 .4 .3 .3 .1 .4 .2 .3-.1 .3-.4 .4 .3 .3 .3 .4-.4 .3-.1 .3 .4 .4 .3 .3-.3 .4-.6 .3 .1 .3 0 .4-.3 .3 .4 .4 .2 .3-.3 .3-.4 .4 .1 .3 .5 .4 .2 .3-.1 .3-.1 .4-.1 .3 .1 .4-.2 .3-.5 .3-.2 .4 .3 .3 .3 .4 0 .3-.1 .3-.4 .4-.6 .3 .2 .4 .1 .3 .4 .3 .6 .4 .1 .3-.3 .4-.2 .3 0 .3-.3 .4-.9 .3 .1 .4 .8 .3-.2 .4-.4 .3 .3 .3-.1 .4-.3 .3 .2 .4 .1 .3-.2 .3-.2 .4-.1 .3 .6 .4 .4 .3-.7 .3-.6 .4 0 .3 .4 .4 0 .3 0 .3 .1 .4-.1 .3 0 .4 .2 .3 0 .3-.4 .4-.4 .3 .2 .4 .1 .3-.2 .3-.1 .4 .2 .3-.3 .4-.6 .3-.1 .3 .7 .4 .3 .3-.6 .4-.2 .3 .2 .3 0 .4 .2 .3 .4 .4-.1 .3-.6 .3-.3 .4 .4 .3 .5 .4-.4 .3-.6 .3-.1 .4 0 .3 .1 .4 .6 .3-.2 .3-.8 .4 .1 .3 .6 .4 .5 .3 .2 .3-.3 .4 .4 .3 .1 .4-.8 .3-.4 .3 .2 .4 .2 .3 0 .4 .2 .3 0 .3-.3 .4 .1 .3 .4 .4 .1 .3-.5 .3-.4 .4 .2 .3 .3 .4 .1 .3 .2 .3 0 .4-.1 .3 .3 .4-.3 .3-.5 .3 0 .4 .4 .3 .6 .4 .2 .3-.2 .4 .1 .3 0 .3 .2 .4 .2 .3-.1 .4 0 .3 .2 .3 .1 .4 .1 .3-.2 .4 0 .3 .2 .3 .3 .4-.1 .3-.1 .4 0 .3 .3 .3 .2 .4-.1 .3 .1 .4 .3 .3 .3 .3-.4 .4-.2 .3 .3 .4 0 .3-.1 .3-.2 .4 .2 .3 .6 .4 .3 .3 .1 .3-.3 .4-.4 .3 0 .4 .3 .3 .1 .3 .1 .4 .1 .3-.3 .4-.2 .3 .1 .3 .3 .4 .3 .3 .1 .4-.5 .3-.4 .3 0 .4 .2 .3 .3 .4 .3 .3 .4 .3 .2 .4 0 .3-.4 .4-.4 .3 .1 .3 .3 .4 .4 .3 .1 .4-.4 .3-.4 .3 .3 .4 .5 .3 .2 .4 0 .3-.1 .3 0 .4 0 .3 .2 .4 0 .3-.5 .3-.2 .4 0 .3 .2 .4 .3 .3 0 .3 .1 .4 .2 .3-.3 .4-.5 .3 .2 .3 .4 .4 .1 .3 0 .4-.1 .3 .1 .4-.1 .3 0 .3 .3 .4 .2 .3 0 .4 .1 .3-.1 .3-.6 .4-.4 .3 .4 .4 .1 .3 .3 .3 0 .4-.4 .3-.1 .4 .1 .3 .2 .3 .3 .4 .2 .3-.3 .4 0 .3 .5 .3-.4 .4-.6 .3 .1 .4 .2 .3 .1 .3-.2 .4 0 .3 .1 .4 0 .3 .6 .3 .6 .4-.4 .3-.3 .4 .2 .3 0 .3 .2 .4-.1 .3-.5 .4-.4 .3-.2 .3 .3 .4 .6 .3 .1 .4-.2 .3 .1 .3-.3 .4-.3 .3 .2 .4 .5 .3 0 .3-.5 .4-.4 .3 .1 .4 .4 .3 0 .3-.2 .4 .2 .3 .1 .4 .3 .3 .4 .3-.1 .4-.5 .3-.2 .4 .1 .3 .3 .3 0 .4-.1 .3 .2 .4 .3 .3-.4 .3-.4 .4 .2 .3 0 .4-.1 .3 .1 .3 .4 .4 .1 .3-.2 .4-.1 .3 .1 .3-.2 .4-.3 .3 .1 .4 .3 .3 .4 .4 .2 .3-.3 .3-.6 .4-.2 .3 .2 .4 .4 .3 0 .3-.4 .4 0 .3 .2 .4 .3 .3 0 .3-.4 .4 0 .3 .3 .4 .1 .3-.1 .3-.4 .4-.4 .3-.3 .4 .3 .3 .6 .3 .2 .4 0 .3-.2 .4-.1 .3 .1 .3 .3 .4 .1 .3-.3 .4-.2 .3-.1 .3-.1 .4 .2 .3 .1 .4 .1 .3-.2 .3 .2 .4 .2 .3 .2 .4 .2 .3-.1 .3-.3 .4-.1 .3 0 .4 .2 .3 .2 .3 .2 .4-.5 .3-.4 .4-.2 .3 .1 .3 .3 .4 .2 .3 .1 .4-.1 .3-.3 .3 0 .4 .5 .3 0 .4-.2 .3 .1 .3 0 .4 .2 .3 .1 .4 0 .3-.3 .3-.1 .4-.1 .3 .1 .4 .3 .3-.2 .3-.2 .4 0 .3 .1 .4 0 .3-.2 .3-.1 .4 .2 .3 .2 .4 0 .3-.3 .3-.1 .4 .3 .3 .3 .4 .1 .3-.2 .4 0 .3 .2 .3-.2 .4-.4 .3 0 .4 .1 .3 0 .3-.1 .4-.1 .3-.3 .4 .1 .3 .7 .3 .2 .4-.3 .3-.1 .4-.2 .3-.2 .3-.2 .4 0 .3 .3 .4 .1 .3-.2 .3-.1 .4-.1 .3 .1 .4 0 .3 .1 .3 .4 .4 .3 .3-.2 .4-.1 .3 .4 .3 .1 .4-.3 .3-.1 .4 .2 .3-.3 .3-.3 .4 .1 .3 0 .4 .1 .3 .1 .3-.2 .4 .1 .3 .3 .4-.3 .3-.1 .3 .2 .4-.1 .3 .2 .4 .4 .3 .1 .3-.3 .4-.3 .3 .1 .4 .2 .3 .1 .3-.1 .4 .1 .3-.2 .4-.4 .3 0 .3 .2 .4 0 .3-.2 .4-.1 .3-.3 .3 0 .4 .6 .3 .3 .4-.3 .3-.6 .3-.1 .4 0 .3 .3 .4 .3 .3-.1 .3-.2 .4 0 .3 .2 .4 .5 .3-.1 .3-.7 .4-.1 .3 .1 .4-.3 .3-.5 .4 .5 .3 1 .3-.1 .4-.2 .3 .7 .4 .2 .3-.8 .3-.7 .4-.2 .3 .1 .4 .2 .3 0 .3-.1 .4 .3 .3 .3 .4 .6 .3 .5 .3-.3 .4-.1 .3-.2 .4-.6 .3 .2 .3 .4 .4-.4 .3-.3 .4 0 .3 0 .3 .3 .4 .4 .3-.1 .4 0 .3 .1 .3-.1 .4-.1 .3 0 .4-.1 .3-.6 .3-.2 .4 .5 .3 .2 .4-.1 .3 0 .3 .4 .4 .3 .3-.4 .4-.1 .3 .2 .3-.1 .4-.1 .3-.1 .4 .1 .3 0 .3-.2 .4 0 .3-.2 .4-.1 .3 .2 .3 .1 .4-.4 .3-.1 .4 .2 .3 .3 .3-.2 .4-.5 .3 .1 .4 .5 .3 .4 .3 0 .4 0 .3 .1 .4 .1 .3 .1 .3-.2 .4-.1 .3 .2 .4-.4 .3-.2 .3 .4 .4 .1 .3-.3 .4-.2 .3 .1 .3 .4 .4-.3 .3-.5 .4-.1 .3-.3 .4 0 .3 .4 .3 0 .4 0 .3 .3 .4 .2 .3 .1 .3 .1 .4-.3 .3-.5 .4 0 .3 .3 .3 0 .4 .3 .3 .3 .4-.2 .3 .1 .3 0 .4-.7 .3-.1 .4 .6 .3 .4 .3-.1 .4-.1 .3-.1 .4 .2 .3-.2 .3-.5 .4 .2 .3 .2 .4-.3 .3-.1 .3-.2 .4-.1 .3 .1 .4 .3 .3 .2 .3 .4 .4 .1 .3-.4 .4-.4 .3-.2 .3 .5 .4 .4 .3-.3 .4-.2 .3 .1 .3 .2 .4 0 .3-.4 .4-.3 .3 0 .3 .2 .4 .4 .3-.1 .4-.4 .3-.2 .3 .2 .4 .2 .3 0 .4 .2 .3 .2 .3-.4 .4-.4 .3 .3 .4 .5 .3 0 .3-.2 .4-.5 .3-.2 .4 .2 .3 .6 .3 .4 .4-.2 .3-.2 .4 .2 .3-.4 .3-.4 .4 .3" fill="none" stroke="#ff0000" stroke-width="1.3" stroke-linejoin="round"/>
<path d="M139.8 511.6l.4 .8 .3-.1 .4-.4 .3-.1 .3 0 .4 .2 .3-.1 .4-.4 .3-.3 .3 .8 .4 1.1 .3 .5 .4 .5 .3 .3 .3-.1 .4-.2 .3-.1 .4-.2 .3 0 .4-.2 .3-.6 .3 0 .4 .1 .3-.3 .4-.8 .3-.4 .3 .2 .4 0 .3-.2 .4 .3 .3 0 .3-.2 .4 .2 .3 .3 .4 .6 .3 .6 .3-.1 .4 .2 .3 .4 .4-.5 .3-.2 .3 .3 .4 .2 .3-.3 .4-.4 .3-.4 .3 0 .4 0 .3-.1 .4 .3 .3 .1 .3-.4 .4-.2 .3 .3 .4 .1 .3 .1 .3 .2 .4-.5 .3-.1 .4 .3 .3 0 .3-.2 .4 .1 .3 .4 .4-.2 .3-.6 .3 .1 .4 .6 .3-.1 .4-.4 .3-.2 .3-.1 .4 .2 .3 0 .4-.3 .3-.4 .3 0 .4 .3 .3-.3 .4-.9 .3-.6 .3-.3 .4-.4 .3-.1 .4-.1 .3-.3 .3-.8 .4-.7 .3-.2 .4-.2 .3-.6 .3-.4 .4 .1 .3 .7 .4 .5 .3-.1 .3-.1 .4 .6 .3 .8 .4 .7 .3 .5 .3 .3 .4 .5 .3 .5 .4 .3 .3 .2 .4 .1 .3-.1 .3-.2 .4 .1 .3 .8 .4 1 .3 .1 .3-.2 .4 .2 .3 .3 .4-.5 .3 0 .3 .7 .4 .3 .3-.2 .4-.3 .3-.4 .3-.2 .4 .4 .3 .1 .4-.1 .3-.2 .3 0 .4 .3 .3 .5 .4 .3 .3-.3 .3-.4 .4 0 .3 .5 .4 0 .3 0 .3 .2 .4 .1 .3-.7 .4-.4 .3 .6 .3 .6 .4 .2 .3-.1 .4-.6 .3-.2 .3 .2 .4 0 .3 .1 .4 .2 .3 .3 .3-.1 .4-.2 .3 .2 .4 0 .3 0 .3-.2 .4-.2 .3 .1 .4 0 .3-.3 .3-.2 .4 .2 .3 .5 .4-.1 .3-.1 .3-.1 .4-.3 .3-.2 .4 .1 .3 .1 .3 0 .4 .3 .3 .1 .4-.1 .3-.2 .3-.4 .4-.2 .3 .1 .4 .5 .3 .4 .3-.2 .4-.1 .3 .2 .4-.1 .3-.2 .3-.1 .4 .2 .3 0 .4 .3 .3 .3 .4 .1 .3-.1 .3-.5 .4-.3 .3 0 .4-.1 .3-.2 .3 .3 .4 .2 .3 .4 .4 .1 .3-.2 .3 .1 .4-.3 .3-.3 .4-.1 .3 .3 .3 .2 .4-.1 .3 .1 .4-.1 .3-.1 .3 0 .4 .2 .3 .1 .4 .1 .3 .2 .3-.1 .4-.4 .3-.5 .4 .1 .3 .5 .3-.1 .4-.1 .3 .1 .4-.2 .3 .2 .3 .3 .4-.2 .3-.3 .4 0 .3 .1 .3-.4 .4 0 .3 .4 .4 .1 .3-.2 .3-.3 .4-.4 .3 .3 .4 .5 .3 0 .3-.6 .4-.4 .3 .3 .4 .2 .3-.1 .3-.3 .4-.2 .3 .3 .4 .1 .3-.1 .3 .2 .4 0 .3-.4 .4 .1 .3 .4 .3 .2 .4-.2 .3-.4 .4-.3 .3-.1 .3-.1 .4 .2 .3 .1 .4-.1 .3 0 .3 .1 .4-.2 .3-.2 .4 .3 .3 .1 .3-.4 .4-.2 .3 .4 .4 .3 .3-.3 .4 .1 .3 .3 .3-.3 .4-.3 .3 .1 .4-.3 .3 .1 .3 .3 .4 .2 .3 .2 .4-.4 .3-.5 .3 .1 .4-.2 .3 0 .4 .1 .3 .4 .3 .5 .4-.3 .3-.2 .4 .2 .3 0 .3-.3 .4 .2 .3 .2 .4-.4 .3-.4 .3 0 .4-.3 .3-.2 .4 .5 .3 .5 .3 0 .4-.4 .3-.4 .4 0 .3 .1 .3 .1 .4 .1 .3 0 .4 .2 .3 .3 .3 .1 .4-.2 .3 0 .4-.2 .3-.4 .3-.4 .4-.5 .3 .3 .4 .6 .3-.2 .3 .1 .4 .1 .3-.1 .4 .6 .3 .4 .3-.6 .4-.4 .3-.1 .4 .4 .3 0 .3-.3 .4 .2 .3-.1 .4-.4 .3 .3 .3 .2 .4-.1 .3 0 .4 .2 .3-.2 .3-.4 .4-.1 .3 .6 .4 .3 .3-.2 .3 0 .4 0 .3-.2 .4 0 .3 .3 .3 .5 .4 .4 .3-.4 .4-.6 .3 .3 .4 .4 .3-.1 .3-.3 .4 0 .3 .2 .4-.2 .3-.2 .3 .1 .4 0 .3-.2 .4 .1 .3 .4 .3 .2 .4-.2 .3-.2 .4 0 .3-.1 .3-.1 .4-.1 .3 .2 .4 .6 .3 .4 .3-.4 .4-.4 .3 .1 .4 .1 .3 .3 .3 .2 .4-.2 .3-.4 .4 .2 .3 .5 .3 .1 .4-.4 .3-.5 .4 .3 .3 .2 .3-.5 .4-.2 .3 .2 .4 0 .3 .1 .3 .1 .4 .2 .3 .1 .4-.2 .3-.2 .3 .2 .4 .6 .3-.3 .4-.3 .3 .3 .3-.1 .4-.2 .3 .2 .4 .3 .3-.1 .3-.4 .4-.1 .3 .3 .4 .2 .3-.2 .3 .1 .4 .5 .3 .1 .4-.2 .3 .1 .3-.1 .4-.3 .3 0 .4 .1 .3 .1 .3 .1 .4 0 .3 .2 .4 0 .3-.5 .3 .1 .4 .2 .3-.2 .4-.2 .3 0 .3-.1 .4-.1 .3 .3 .4 .2 .3-.3 .4-.5 .3-.2 .3 .1 .4 .3 .3 .1 .4-.1 .3 0 .3-.2 .4 .1 .3 .3 .4 0 .3-.4 .3-.6 .4-.2 .3 .6 .4 .7 .3 .2 .3-.3 .4-.2 .3 0 .4 0 .3 .2 .3-.2 .4-.1 .3 0 .4-.4 .3-.1 .3 .7 .4 0 .3-.5 .4 .1 .3 .2 .3-.1 .4-.2 .3-.2 .4-.2 .3-.3 .3-.3 .4 0 .3 .2 .4-.1 .3 0 .3 .3 .4 .4 .3-.3 .4-.3 .3-.1 .3 .1 .4 .1 .3-.2 .4-.2 .3 .3 .3 .3 .4 0 .3 0 .4-.1 .3-.1 .3-.3 .4-.1 .3 .3 .4 .2 .3-.1 .3 .1 .4 .3 .3 0 .4-.3 .3-.2 .3 .2 .4 .2 .3 0 .4-.4 .3-.3 .3 .2 .4 .1 .3 .2 .4 .3 .3 0 .3-.2 .4-.1 .3 .2 .4 .1 .3-.5 .3-.2 .4 .4 .3 .1 .4-.1 .3 .2 .4 .2 .3-.3 .3 0 .4 0 .3 .1 .4 .3 .3-.1 .3 0 .4 .3 .3 .1 .4 .2 .3 0 .3-.6 .4-.1 .3 .1 .4 .1 .3 .4 .3-.2 .4-.5 .3 .4 .4 1.2 .3 .5 .3-.8 .4-.6 .3 .1 .4 0 .3 0 .3 .2 .4-.2 .3-.2 .4 0 .3 .3 .3 .1 .4 0 .3-.1 .4-.5 .3-.1 .3 1 .4 .6 .3-.3 .4-.6 .3-.3 .3 .2 .4 .6 .3 0 .4-.3 .3 .1 .3-.1 .4 0 .3-.1 .4-.1 .3 0 .3 .3 .4 .3 .3 0 .4-.2 .3-.1 .3-.1 .4 .4 .3 .3 .4 .1 .3-.3 .3-.1 .4 0 .3-.2 .4 .1 .3 .4 .3 .2 .4-.4 .3 .1 .4 .2 .3-.6 .3-.3 .4 .3 .3-.1 .4-.4 .3 .3 .3 .7 .4 .1 .3-.1 .4 .3 .3 .2 .3-.3 .4-.2 .3 0 .4-.1 .3-.1 .4 .3 .3 .1 .3-.4 .4-.2 .3 .1 .4-.1 .3 .2 .3 .1 .4-.1 .3 .1 .4 .1 .3 0 .3 .2 .4 .3 .3-.2 .4-.4 .3 0 .3 .2 .4 0 .3 .1 .4 .4 .3 0 .3-.2 .4 .1 .3-.1 .4-.2 .3 0 .3-.3 .4-.4 .3-.1 .4 .2 .3 .4 .3 .5 .4 .1 .3 .1 .4 .1 .3-.3 .3-.8 .4-.3 .3 .3 .4 .5 .3 0 .3 0 .4-.2 .3-.1 .4-.4 .3-.4 .3 .1 .4 .1 .3 .5 .4 .2 .3-.5 .3 0 .4 .5 .3 .4 .4 .1 .3-.2 .3-.4 .4 .2 .3 .4 .4 0 .3-.4 .3-.4 .4 .1 .3 .3 .4 .1 .3-.4 .3 .1 .4 .2 .3 .1 .4 .4 .3-.2 .3-.3 .4-.3 .3-.2 .4 .4 .3 .6 .3-.2 .4-.3 .3 .1 .4 .5 .3 0 .3-.6 .4-.2 .3 .4 .4 0 .3-.1 .4 .5 .3-.4 .3-.8 .4 .3 .3 .4 .4 0 .3-.2 .3 .2 .4-.1 .3 0 .4 .1 .3-.1 .3 .3 .4 0 .3-.2 .4-.1 .3-.3 .3-.1 .4 .4 .3 .2 .4 0 .3-.2 .3-.2 .4 0 .3 0 .4 .2 .3 0 .3-.1 .4 .2 .3-.3 .4-.2 .3 .4 .3 .3 .4 .1 .3 0 .4 0 .3-.2 .3-.2 .4-.4 .3-.3 .4 .1 .3 .2 .3 .2 .4 .2 .3 .3 .4 .1 .3-.6 .3-.6 .4 .2 .3 .2 .4-.2 .3 .2 .3 .5 .4 .1 .3-.1 .4-.6 .3-.5 .3 .4 .4 .5 .3-.1 .4 0 .3 0 .3-.4 .4-.5 .3 0 .4 .1 .3 .5 .3-.1 .4-.8 .3 0 .4 .4 .3-.1 .3-.4 .4-.1 .3 .1 .4 .1 .3-.1 .3 0 .4 .3 .3 .7 .4 .3 .3-.3 .3-.3 .4-.5 .3-.3 .4 .2 .3 .3 .4-.2 .3 0 .3 .2 .4-.2 .3 0 .4 0 .3 .1 .3 .2 .4 .2 .3 .3 .4 .2 .3-.1 .3-.2 .4 .1 .3 .1 .4-.1 .3-.6 .3-.3 .4 .2 .3 0 .4-.2 .3 0 .3 .6 .4 .4 .3-.5 .4 .2 .3 .4 .3 .2 .4 0 .3-.2 .4-.3 .3-.5 .3 .2 .4 .8 .3 .1 .4-.1 .3 0 .3-.4 .4-.2 .3 .2 .4-.1 .3-.5 .3-.4 .4 0 .3 .3 .4 .2 .3 .1 .3 .1 .4 0 .3-.1 .4 .3 .3 .1 .3-.4 .4-.1 .3 .4 .4-.1 .3-.4 .3 0 .4 .2 .3-.1 .4-.3 .3-.3 .3 .2 .4 .8 .3 .2 .4-.7 .3-.6 .3 .1 .4 .1 .3 .4 .4 .1 .3-.4 .3-.2 .4 .2 .3 .2 .4 0 .3-.3 .3-.1 .4 .2 .3 .2 .4-.3 .3-.4 .3 .2 .4 .4 .3 .1 .4-.3 .3-.3 .4 .4 .3 0 .3-.7 .4-.2 .3 .1 .4-.1 .3-.2 .3 .1 .4 0 .3-.2 .4 0 .3 .1 .3 .3 .4 0 .3 .4 .4 0 .3-.3 .3-.2 .4 0 .3-.1 .4-.4 .3 .2 .3 .3 .4-.3 .3-.2 .4 .2 .3-.4 .3-.5 .4 .2 .3 .4 .4 .1 .3 0 .3 .6 .4 .4 .3-.5 .4-.6 .3-.6 .3 .2 .4 .5 .3-.1 .4-.3 .3 .1 .3 0 .4-.2 .3-.2 .4-.1 .3-.2 .3-.5 .4 .2 .3 .2 .4-.4 .3-.1 .3 .3 .4 .2 .3-.1 .4-.1 .3-.2 .3-.2 .4 .2 .3 .3 .4-.2 .3-.4 .3 0 .4 .2 .3 .1 .4 0 .3 .2 .3-.3 .4-.5 .3 0 .4 .2 .3-.2 .3-.5 .4-.2 .3 .3 .4 .2 .3-.2 .3-.4 .4 0 .3 .3 .4-.3 .3-.1 .3 .1 .4 .1 .3 .2 .4-.1 .3-.3 .4 .1 .3-.2 .3-.4 .4 .2 .3 .4 .4-.2 .3-.5 .3-.2 .4 0 .3 .2 .4 .3 .3 0 .3-.2 .4-.3 .3 .1 .4-.2 .3-.6 .3 .2 .4 .1 .3-.4 .4 0 .3 .5 .3 .7 .4-.4 .3-.6 .4 .1 .3 .4 .3-.1 .4-.8 .3-.2 .4 .3 .3-.1 .3 0 .4 .1 .3-.2 .4-.4 .3-.4 .3-.1 .4 .3 .3 .1 .4-.1 .3 .2 .3-.1 .4-.4 .3-.1 .4-.1 .3 0 .3 .1 .4-.3 .3-.2 .4 .1 .3 0 .3 .4 .4 .2 .3-.3 .4-.4 .3-.5 .3 0 .4 .2 .3-.4 .4-.5 .3-.1 .3 .2 .4 .1 .3 .1 .4-.1 .3-.2 .3-.1 .4 .1 .3 .3 .4 .3 .3-.2 .3-.7 .4-.7 .3 0 .4 .6 .3 0 .3-.6 .4-.1 .3 .1 .4-.4 .3-.4 .3-.1 .4-.1 .3-.1 .4 .2 .3 .2 .4-.1 .3-.3 .3-.3 .4 .3 .3-.1 .4-.8 .3-.6 .3-.3 .4 .3 .3 .5 .4-.1 .3-.4 .3 0 .4 0 .3-.6 .4-.4 .3-.1 .3-.5 .4-.5 .3-.2 .4-.4 .3-.3 .3-.1 .4-.1 .3-.3 .4-.5 .3 0 .3-.3 .4-.5 .3-.4 .4-.6 .3-.6 .3-.3 .4-.4 .3-.7 .4-.3 .3 .1 .3-.7 .4-1.2 .3-.4 .4 .1 .3-.8 .3-1.1 .4-.8 .3-1.1 .4-1 .3-.7 .3-.7 .4-1.5 .3-1.2 .4-.8 .3-1.3 .3-1.3 .4-1 .3-.9 .4-1 .3-1.6 .3-2 .4-1.8 .3-1.7 .4-1.6 .3-1.5 .3-1.3 .4-1.6 .3-2.3 .4-2.2 .3-1.7 .3-1.7 .4-2 .3-2.3 .4-2.4 .3-2.3 .3-2.4 .4-2.5 .3-2.4 .4-2.2 .3-1.5 .3-1.9 .4-2.8 .3-2.6 .4-1.7 .3-1.4 .3-1.3 .4-1 .3-.8 .4-1 .3-.9 .4-.6 .3-.2 .3 .6 .4 .4 .3 .3 .4 1.2 .3 1.5 .3 1.4 .4 1.1 .3 1.1 .4 1.8 .3 2.3 .3 2.1 .4 2 .3 2.4 .4 2.6 .3 2.3 .3 1.9 .4 2.1 .3 2.4 .4 2.1 .3 2.1 .3 2.9 .4 2.3 .3 1.6 .4 2 .3 2.1 .3 2 .4 1.8 .3 1.8 .4 1.7 .3 1.7 .3 1.9 .4 1.6 .3 1.2 .4 1.3 .3 1.2 .3 1.4 .4 1.4 .3 1.1 .4 1.4 .3 1.4 .3 1 .4 .8 .3 .7 .4 .5 .3 .6 .3 .6 .4 .6 .3 .9 .4 .9 .3 .4 .3 .7 .4 1.1 .3 .5 .4 .3 .3 .5 .3 .5 .4 .5 .3 .6 .4 .6 .3 .5 .3 .3 .4 .5 .3 .6 .4 0 .3-.1 .3 .4 .4 .5 .3 .4 .4 .6 .3 .4 .3 .1 .4-.1 .3 .2 .4 .3 .3 .3 .3 .5 .4 .2 .3-.3 .4 0 .3 .7 .3 .5 .4-.3 .3 .1 .4 .5 .3 .2 .4-.1 .3-.2 .3 .1 .4 .1 .3-.3 .4 .2 .3 .4 .3-.1 .4-.2 .3-.3 .4 .3 .3 .7 .3 .3 .4 .1 .3-.1 .4-.1 .3 0 .3-.2 .4 .2 .3 .2 .4 .1 .3 .6 .3-.1 .4-.4 .3-.1 .4 .1 .3 .1 .3 .2 .4 .2 .3 .3 .4-.1 .3-.5 .3 .2 .4-.1 .3-.5 .4 0 .3 .5 .3 .2 .4 0 .3-.1 .4-.2 .3-.1 .3-.1 .4-.1 .3-.3 .4-.3 .3 .4 .3 .6 .4 0 .3 .2 .4 0 .3-.3 .3 0 .4-.1 .3-.3 .4 .3 .3 .1 .3-.4 .4-.4 .3 .3 .4 .6 .3-.1 .3-.6 .4-.6 .3 0 .4 .1 .3 .1 .3 .2 .4-.1 .3 .1 .4 .2 .3-.2 .3-.1 .4 0 .3-.3 .4-.4 .3 .2 .3 .2 .4-.2 .3-.5 .4 .1 .3 .4 .4-.4 .3-.3 .3 .1 .4-.3 .3-.5 .4 .4 .3 .4 .3 .1 .4-.5 .3-.5 .4 .1 .3 .4 .3-.2 .4-.6 .3-.4 .4 0 .3-.3 .3-.2 .4-.3 .3-.5 .4-.1 .3-.1 .3-.3 .4-.3 .3-.1 .4-.6 .3-.7 .3-.5 .4-.2 .3-.3 .4-.4 .3-.3 .3-.7 .4-.7 .3-.5 .4-.3 .3-.4 .3-.6 .4-1.1 .3-.8 .4-.6 .3-.7 .3-.9 .4-1.2 .3-.8 .4-.6 .3-1 .3-.9 .4-.8 .3-1.2 .4-1 .3-.8 .3-1.1 .4-1.3 .3-1.1 .4-.9 .3-1 .3-1.3 .4-1.5 .3-1.4 .4-1.1 .3-1.2 .3-.7 .4-.9 .3-1.2 .4-1 .3-1.3 .3-1.2 .4-.7 .3-1.1 .4-1.3 .3-.4 .3-.5 .4-.6 .3-.4 .4-.3 .3-.1 .3 0 .4-.5 .3 .2 .4 .2 .3-.2 .3 .4 .4 .6 .3 .5 .4 .7 .3 .9 .4 .8 .3 .6 .3 .5 .4 .9 .3 .9 .4 1 .3 1.4 .3 1.4 .4 .9 .3 .8 .4 1.3 .3 1.5 .3 1.2 .4 1.2 .3 1.2 .4 1.3 .3 1.4 .3 1.4 .4 1.1 .3 .8 .4 .8 .3 1.2 .3 1.4 .4 1.2 .3 .8 .4 1.1 .3 1.3 .3 .6 .4 .5 .3 1 .4 1.5 .3 1 .3 .6 .4 1.1 .3 .9 .4 .6 .3 .9 .3 .7 .4 .1 .3 .1 .4 .5 .3 .8 .3 .5 .4 .2 .3 .4 .4 .9 .3 .8 .3 .5 .4 .3 .3 .2 .4 .4 .3 .5 .3 0 .4 0 .3 .3 .4 .5 .3 .7 .3 .4 .4 .2 .3-.2 .4-.2 .3 .4 .3 .5 .4 .4 .3 0 .4 .4 .3 .7 .3 .1 .4-.2 .3-.3 .4-.2 .3 .3 .3 .6 .4-.2 .3-.2 .4 .3 .3 0 .3-.2 .4 0 .3 .4 .4 .3 .3 0 .3 0 .4 0 .3 0 .4-.1 .3 .3 .4 .4 .3 .2 .3 0 .4-.1 .3 0 .4 0 .3 .4 .3 .1 .4-.3 .3 .2 .4 .1 .3-.3 .3 .3 .4 .8 .3-.3 .4-.6 .3 .1 .3 .1 .4 0 .3 .3 .4 .2 .3-.2 .3-.1 .4-.2 .3 .1 .4 .1 .3 0 .3 .4 .4-.1 .3-.4 .4 .1 .3 .2 .3 .3 .4 .2 .3-.1 .4 0 .3 .1 .3-.1 .4-.3 .3-.1 .4 .2 .3 0 .3 .2 .4 .6 .3 0 .4-.8 .3-.1 .3 .3 .4 .3 .3 .4 .4 .1 .3-.1 .3-.1 .4-.1 .3 0 .4-.3 .3-.6 .3 .1 .4 .5 .3 .2 .4 .4 .3 0 .3-.4 .4-.2 .3 .3 .4 0 .3 .2 .3 .3 .4-.3 .3-.4 .4 .2 .3 0 .3 0 .4 .2 .3-.4 .4-.3 .3-.1 .3 .4 .4 .6 .3 .3 .4 .1 .3 0 .3-.2 .4-.6 .3-.1 .4 .4 .3 .2 .4 .2 .3 .2 .3 .1 .4 .1 .3-.4 .4-.2 .3 .2 .3 .2 .4 0 .3-.1 .4-.1 .3 0 .3 .1 .4-.2 .3-.4 .4-.2 .3 .1 .3 .4 .4 .6 .3 .2 .4-.6 .3-.7 .3 .3 .4 1 .3 0 .4-.3 .3 0 .3-.2 .4-.1 .3 .2 .4 .1 .3 .3 .3 .1 .4-.4 .3-.1 .4 .2 .3-.2 .3-.3 .4 0 .3 .1 .4 .1 .3-.2 .3-.4 .4-.3 .3 .2 .4 .2 .3 .3 .3 0 .4-.3 .3 0 .4 0 .3-.1 .3-.4 .4 .2 .3 .5 .4-.1 .3 0 .3 .3 .4 .1 .3 .1 .4 .3 .3 .2 .3-.2 .4-.4 .3-.3 .4 0 .3 .3 .3 .5 .4 .2 .3-.4 .4-.3 .3-.2 .3-.1 .4 .3 .3 .6 .4 .2 .3-.4 .3-.2 .4 .1 .3 0 .4 .2 .3-.3 .3-.6 .4 0 .3 .1 .4 .1 .3 .1 .4-.1 .3-.2 .3 .2 .4 .3 .3 .1 .4 .5 .3 .6 .3-.4 .4-1 .3-.2 .4 .5 .3 .1 .3-.1 .4 0 .3-.1 .4 .3 .3 .6 .3 0 .4-.8 .3-.4 .4 .2 .3 .3 .3 0 .4-.1 .3-.3 .4-.5 .3-.2 .3 .5 .4 .4 .3-.2 .4-.2 .3 .2 .3 .1 .4 .2 .3 .3 .4-.3 .3-.2 .3 .4 .4 0 .3-.1 .4 .3 .3 .2 .3 .2 .4 0 .3 0 .4-.1 .3-.2 .3-.1 .4 .2 .3 .1 .4-.6 .3 .1 .3 .4 .4-.1 .3-.2 .4 .2 .3 0 .3-.2 .4-.1 .3 .1 .4-.2 .3 0 .3-.1 .4-.1 .3 .3 .4 .3 .3-.2 .3-.1 .4 0 .3-.4 .4-.3 .3 .3 .3 .3 .4 0 .3-.2 .4 .3 .3 .4 .3 0 .4-.4 .3 0 .4 .5 .3-.1 .3-.6 .4 .1 .3 .4 .4-.1 .3-.2 .4 .2 .3 .1 .3 .2 .4 0 .3-.3 .4 0 .3 .2 .3-.3 .4-.4 .3 0 .4 .2 .3 0 .3 0 .4-.1 .3-.1 .4 .3 .3 .5 .3 0 .4-.1 .3 0 .4 0 .3-.2 .3-.4 .4 0 .3 .1 .4 0 .3 .4 .3 .4 .4-.2 .3-.2 .4 .4 .3-.2 .3-.8 .4-.5 .3 .5 .4 .6 .3-.1 .3-.3 .4 .3 .3 .4 .4 .1 .3 .1 .3-.4 .4-.8 .3 .2 .4 .8 .3 .1 .3-.4 .4-.2 .3 0 .4 .1 .3 0 .3 0 .4 .5 .3 .3 .4-.2 .3-.3 .3-.2 .4-.1 .3-.1 .4 0 .3 0 .3-.5 .4-.3 .3 .4 .4 .1 .3-.1 .3 0 .4 .3 .3 .3 .4 .2 .3 0 .3-.6 .4-.1 .3 .5 .4 0 .3-.2 .3 .2 .4 .2 .3 .1 .4 .2 .3-.3 .3-.6 .4-.5 .3 .2 .4 .5 .3-.2 .4-.5 .3 0 .3 .5 .4 .5 .3 .2 .4-.1 .3-.2 .3-.2 .4-.1 .3 .4 .4 0 .3-.4 .3-.3 .4 .1 .3 .6 .4 .1 .3-.3 .3-.1 .4 .2 .3 0 .4-.2 .3 .3 .3-.2 .4-.6 .3-.3 .4 .5 .3 .6 .3 .2 .4 .1 .3-.1 .4-.4 .3-.4 .3 .2 .4 .4 .3 .2 .4-.2 .3-.2 .3 .3 .4 .1 .3 .1 .4 .2 .3-.3 .3-.5 .4-.5 .3-.1 .4 .7 .3 .3 .3-.5 .4-.1 .3 .5 .4 .2 .3-.7 .3-.2 .4 .3 .3 .2 .4-.1 .3 .1 .3 0 .4-.2 .3-.1 .4 .2 .3 0 .3-.3 .4 .1 .3 .2 .4 0 .3-.1 .3 .1 .4-.3 .3-.4 .4 .4 .3 .7 .3 .1 .4-.2 .3 .3 .4 .2 .3-.2 .3-.3 .4-.2 .3 0 .4-.2 .3 .1 .3 0 .4-.2 .3 0 .4 .1 .3 .6 .4 .3 .3-.1 .3-.1 .4-.3 .3-.4 .4 .1 .3 .4 .3 .1 .4-.2 .3 0 .4 .2 .3-.2 .3 0 .4-.1 .3-.2 .4-.3 .3-.1 .3 .3 .4 .1 .3-.3 .4-.3 .3 .1 .3 .3 .4-.1 .3 0 .4 .5 .3 0 .3-.2 .4-.2 .3 .1 .4 .3 .3 .1 .3-.3 .4-.5 .3 0 .4 .6 .3-.4 .3-.9 .4 .3 .3 .6 .4 .5 .3 .2 .3-.6 .4 0 .3 .3 .4-.2 .3 .2 .3 .1 .4-.4 .3 0 .4 .2 .3 .2 .3 .3 .4-.1 .3-.8 .4-.3 .3 .2 .3 .3 .4 .1 .3 .2 .4-.2 .3-.3 .3 .1 .4 .1 .3 .2 .4 0 .3-.5 .3 .3 .4 .3 .3-.1 .4 .1 .3 0 .3-.1 .4-.2 .3 .1 .4 .1 .3-.3 .3 0 .4 .3 .3-.2 .4-.5 .3 0 .3 .3 .4 0 .3 0 .4 0 .3 .1 .4 0 .3 .1 .3 .5 .4 .2 .3-.4 .4-.3 .3-.2 .3-.1 .4 0 .3-.1 .4 .1 .3 0 .3-.2 .4 .1 .3 .1 .4 .2 .3 .2 .3 0 .4-.4 .3-.1 .4 .1 .3-.4 .3-.5 .4 0 .3 .5 .4 0 .3 0 .3 0 .4 0 .3 0 .4 0 .3 .2 .3 .2 .4-.2 .3-.2 .4-.2 .3 .1 .3-.1 .4 .1 .3 .5 .4 0 .3-.3 .3 .2 .4 .1 .3-.3 .4 .1 .3 0 .3-.2 .4 .3 .3 .1 .4-.1 .3-.2 .3 0 .4 .2 .3 0 .4 0 .3-.1 .3-.4 .4 .1 .3 .3 .4 .1 .3-.1 .3-.1 .4-.2 .3 .1 .4 .8 .3 .1 .3-.3 .4-.1 .3-.2 .4-.3 .3-.3 .3-.2 .4-.2 .3-.1 .4 0 .3 .1 .3 0 .4 .2 .3 .5 .4 .3 .3-.1 .3-.1 .4 .2 .3-.3 .4-.3 .3-.2 .4 0 .3 .3 .3 .2 .4 .2 .3-.5 .4-.1 .3 .2 .3-.3 .4-.2 .3 .3 .4 .1 .3-.4 .3-.2 .4 .3 .3 .1 .4-.4 .3-.3 .3 .1 .4 .1 .3 .2 .4 0 .3-.1 .3-.4 .4-.4 .3 .4 .4 .4 .3 0 .3 .1 .4-.2 .3-.2 .4 .3 .3 .2 .3 0 .4-.2 .3-.2 .4-.5 .3 .1 .3 .5 .4 0 .3-.7 .4-.2 .3 .3 .3 .2 .4 .1 .3-.1 .4-.4 .3 .4 .3 .5 .4 .3 .3 0 .4-.7 .3-.7 .3-.4 .4 .2 .3 .6 .4-.1 .3-.3 .3 .2 .4 .2 .3-.2 .4-.2 .3-.1 .3 .3 .4 .3 .3 .1 .4 0 .3 0 .3-.2 .4-.3 .3-.3 .4-.2 .3 0 .3 .4 .4 .3 .3-.3 .4-.1 .3 .6 .3 .2 .4-.1 .3-.1 .4-.1 .3-.2 .3 0 .4 .1 .3-.1 .4 0 .3-.1 .4-.4 .3-.1 .3 .1 .4 0 .3-.1 .4-.1 .3 .5 .3 .1 .4-.5 .3-.3 .4 .2 .3 0 .3 0 .4 .2 .3 .1 .4-.1 .3-.2 .3 .3 .4-.2 .3-.6 .4 0 .3 .5 .3 .4 .4 .5 .3-.3 .4-.7 .3-.2 .3 .5 .4-.3 .3-.8 .4 0 .3 .1 .3 0 .4 .2 .3 0 .4-.3 .3 .1 .3 .1 .4 0 .3 .4 .4-.4 .3-.8 .3 .3 .4 .4 .3 .1 .4 .1 .3-.1 .3-.2 .4-.6 .3-.4 .4 0 .3 .1 .3 .2 .4-.2 .3-.2 .4 .1 .3 .3 .3-.1 .4-.4 .3 0 .4 .2 .3 .2 .3-.2 .4-.4 .3 0 .4 .2 .3-.1 .3-.1 .4 0 .3-.4 .4 0 .3 .4 .3 .4 .4-.1 .3-.4 .4-.2 .3-.3 .3-.4 .4-.2 .3 .3 .4-.1 .3-.6 .3-.2 .4 0 .3 0 .4-.2 .3-.4 .4-.2 .3-.2 .3-.2 .4-.1 .3 .5 .4-.2 .3-.7 .3 0 .4 .3 .3-.2 .4-.4 .3-.1 .3-.4 .4-.5 .3-.5 .4-.1 .3 .3 .3 0 .4-.1 .3-.3 .4-.5 .3-.4 .3 0 .4-.1 .3-.3 .4-.3 .3-.2 .3-.4 .4-.4 .3 .1 .4 .1 .3-.8 .3-.3 .4-.5 .3-.8 .4 .2 .3 .3 .3-.4 .4-.6 .3-.4 .4-.6 .3-.2 .3 .2 .4-.3 .3-.4 .4-.1 .3-.2 .3-.6 .4 0 .3 .2 .4-.2 .3-.4 .3-.2 .4-.3 .3-.3 .4 .2 .3 0 .3-.1 .4 .3 .3-.4 .4-.4 .3 .2 .3-.2 .4-.5 .3-.1 .4 .2 .3 .2 .3 .1 .4 0 .3-.3 .4-.3 .3 .4 .3 .6 .4 .2 .3 .3 .4 .5 .3-.1 .3-.1 .4 .5 .3 .2 .4-.4 .3 .2 .3 .6 .4 .1 .3 .2 .4 .1 .3 .4 .4 .5 .3 .1 .3 .4 .4 .3 .3 0 .4 .3 .3 .5 .3 .7 .4 .8 .3 .1 .4-.2 .3-.3 .3 .1 .4 .7 .3 .7 .4 .5 .3 0 .3 .3 .4 .4 .3-.3 .4-.4 .3 .4 .3 .8 .4 .4 .3 .3 .4 .6 .3 .3 .3-.1 .4-.1 .3-.2 .4 .2 .3 .8 .3 .4 .4-.2 .3-.1 .4 .1 .3 .2 .3 .4 .4 .3 .3 .3 .4 0 .3 0 .3 .2 .4 .4 .3 .5 .4 0 .3 0 .3 .4 .4-.3 .3-.5 .4 .4 .3 .8 .3 0 .4 0 .3 .6 .4-.1 .3-.3 .3 .1 .4 .2 .3 .3 .4 0 .3-.1 .3 .1 .4 .1 .3-.1 .4 0 .3 .4 .3 .3 .4 0 .3 .2 .4 .5 .3 .3 .3-.3 .4-.3 .3 0 .4-.3 .3-.7 .3 .3 .4 .7 .3 .1 .4-.1 .3 .1 .3-.2 .4-.1 .3 .2 .4 .3 .3 .2 .4 .4 .3-.2 .3-.5 .4 .3 .3 .5 .4-.3 .3-.2 .3 .3 .4 .2 .3 0 .4-.1 .3-.3 .3-.2 .4 0 .3 .3 .4 .5 .3-.4 .3-.3 .4 .4 .3 .3 .4 .1 .3 0 .3-.3 .4-.4 .3 0 .4 .1 .3 .2 .3 .4 .4-.3 .3-.2 .4 .2 .3 .2 .3-.1 .4-.2 .3 .4 .4 .3 .3-.3 .3-.1 .4-.3 .3-.3 .4 .2 .3-.2 .3-.1 .4 .5 .3-.2 .4-.5 .3-.4 .3 .2 .4 .5 .3 .1 .4 .1 .3 .2 .3 .2 .4 0 .3-.6 .4-.1 .3 .2 .3-.1 .4 .1 .3 .5 .4 0 .3-.9 .3-.3 .4 .3 .3 .3 .4-.1 .3-.3 .3-.2 .4-.1 .3 .2 .4 .4 .3 0 .3-.3 .4 0 .3-.5 .4-.2 .3 .2 .3-.2 .4-.2 .3 0 .4 .1 .3-.1 .3-.5 .4-.4 .3 .1 .4 .4 .3 .3 .4-.2 .3-.1 .3-.1 .4-.4 .3-.3 .4 0 .3 .2 .3-.2 .4-.1 .3 .2 .4-.2 .3-.4 .3 .1 .4-.2 .3-.4 .4-.3 .3 .5 .3 .6 .4-.2 .3-.5 .4-.2 .3-.2 .3-.3 .4 .2 .3 .6 .4 .4 .3-.3 .3-.7 .4-.1 .3 .5 .4 .2 .3-.3 .3-.4 .4 .1 .3 .1 .4-.4 .3-.3 .3 .4 .4 .5 .3-.2 .4-.3 .3-.1 .3 .1 .4 .1 .3-.2 .4-.1 .3 0 .3-.7 .4 .1 .3 .8 .4-.1 .3-.6 .3-.4 .4 .4 .3 .9 .4 .2 .3-.4 .3-.1 .4 .1 .3-.1 .4-.3 .3 .3 .3 .3 .4 0 .3-.1 .4 0 .3-.2 .3 0 .4 .1 .3 .1 .4-.3 .3 .1 .3 .6 .4 .1 .3 .1 .4 .2 .3-.2 .3 .1 .4 .4 .3-.1 .4-.2 .3 .4 .3 0 .4-.1 .3 .3 .4 0 .3-.3 .4 .4 .3 .7 .3 0 .4-.2 .3 0 .4-.1 .3 0 .3 .2 .4 0 .3-.2 .4 .4 .3 .4 .3-.3 .4 .1 .3 .4 .4 .5 .3 .2 .3-.2 .4-.5 .3 0 .4 .4 .3 .1 .3 .2 .4 .3 .3 .2 .4-.2 .3-.2 .3 .3 .4 .3 .3-.2 .4-.4 .3 .1 .3 .4 .4-.2 .3-.2 .4 .5 .3 .3 .3 0 .4 .1 .3 .2 .4 .2 .3-.1 .3-.2 .4 .3 .3 .3 .4-.1 .3-.1 .3-.2 .4-.3 .3 .1 .4 .7 .3 .4 .3 .1 .4-.4 .3-.1 .4 .4 .3 .3 .3 .1 .4-.1 .3-.6 .4-.2 .3 .3 .3-.1 .4 .4 .3 .3 .4-.3 .3-.3 .3 .2 .4 0 .3-.1 .4 .2 .3 0 .3 .1 .4 .6 .3 .6 .4-.1 .3-.5 .3-.1 .4 .4 .3-.3 .4-.3 .3 .4 .3-.2 .4-.3 .3 .2 .4 .4 .3 .1 .4-.2 .3-.2 .3 .1 .4 .2 .3 0 .4 .2 .3 .1 .3-.4 .4-.2 .3-.1 .4-.2 .3 .1 .3 .1 .4-.1 .3 0 .4 .5 .3 .2 .3-.1 .4-.2 .3-.1 .4 0 .3 .2 .3 .2 .4-.1 .3 .2 .4 .2 .3-.4 .3 .1 .4 .1 .3-.1 .4 .2 .3 .3 .3-.4 .4-.6 .3-.2 .4 .3 .3 .4 .3 0 .4-.5 .3-.1 .4 .6 .3 .6 .3-.1 .4-.4 .3 .1 .4-.2 .3-.7 .3-.3 .4 .6 .3 .4 .4-.1 .3-.2 .3-.2 .4 .3 .3 .7 .4 .3 .3-.4 .3-.3 .4-.1 .3 .3 .4 .1 .3 0 .3-.1 .4-.5 .3 .1 .4 .2 .3 0 .3 .2 .4 .2 .3-.4 .4-.5 .3 .1 .3 .1 .4 0 .3 .3 .4 .4 .3 .1 .3-.3 .4-.2 .3 0 .4 .1 .3 .3 .3 .1 .4 .1 .3 .1 .4-.5 .3-.2 .4 .4 .3 .4 .3-.4 .4-.7 .3-.1 .4 .1 .3-.2 .3 .6 .4 .7 .3 0 .4-.5 .3-.3 .3 .3 .4 .1 .3 0 .4 0 .3-.1 .3 0 .4 .3 .3 .2 .4-.1 .3 .1 .3-.2 .4-.3 .3-.1 .4-.1 .3-.2 .3-.1 .4 .5 .3 .2 .4-.3 .3 .1 .3-.1 .4-.2 .3 .2 .4 0 .3-.2 .3 .1 .4 .4 .3 .3 .4 0 .3 .1 .3 0 .4-.2 .3-.5 .4-.1 .3 .3 .3 .3 .4 .2 .3 0 .4-.4 .3-.4 .3-.1 .4 .1 .3 .6 .4 .3 .3-.8 .3-.6 .4 .1 .3 0 .4-.2 .3-.2 .3 .3 .4 .1 .3 0 .4 .3 .3 .3 .3 .3 .4 0 .3-.2 .4 .1 .3 .3 .3 .1 .4-.3 .3-.5 .4 .1 .3 .3 .3 .3 .4-.1 .3-.5 .4 0 .3-.2 .3-.5 .4-.1 .3 .4 .4 .3 .3 .1 .4-.1 .3-.1 .3 .4 .4 .4 .3 .3 .4-.1 .3-.6 .3-.3 .4 .1 .3 .3 .4 .2 .3 0 .3-.3 .4-.5 .3-.2 .4 .4 .3 .5 .3 .1 .4-.2 .3 .2 .4 0 .3-.5 .3 0 .4 .4 .3 .2 .4-.2 .3-.2 .3 .1 .4-.1 .3-.5 .4-.2 .3 .2 .3 .5 .4 0 .3-.3 .4-.1 .3 .3 .3 0 .4 .3 .3 .5 .4-.3 .3-.7 .3-.3 .4 .2 .3 .5 .4 .1 .3-.3 .3 .2 .4 .2 .3-.1 .4-.2 .3-.2 .3-.1 .4-.1 .3-.1 .4 .3 .3 .6 .3-.1 .4-.5 .3 .2 .4 .7 .3 0 .3-1 .4-.6 .3 .4 .4 .4 .3 .5 .3 .5 .4-.3 .3-.8 .4 .1 .3 .5 .3-.5 .4-.3 .3 .1 .4 .3 .3 .2 .3 .1 .4-.3 .3-.1 .4 .2 .3 .1 .3-.2 .4-.3 .3 .2 .4 .6 .3-.4 .4-.3 .3 .3 .3 .1 .4 .1 .3 .1 .4-.4 .3-.5 .3-.1 .4 0 .3-.1 .4 .2 .3 .2 .3-.2 .4-.4 .3 .2 .4 .5 .3 .5 .3 .1 .4-.4 .3 .2 .4 .3 .3-.3 .3-.3 .4 .1 .3-.2 .4-.5 .3 .3 .3 .8 .4-.1 .3-.5 .4 0 .3 .1 .3 .2 .4 .1 .3 .2 .4-.1 .3 .1 .3 .5 .4-.4 .3-.6 .4 .4 .3-.1 .3-.7 .4 0 .3 .5 .4 .3 .3 0 .3-.1 .4 .1 .3-.1 .4-.1 .3 .3 .3 .5 .4-.2 .3-.3 .4 .3 .3 0 .3-.8 .4-.2 .3 .5 .4 0 .3-.4 .3-.2 .4 .4 .3 .1 .4 0 .3 .1 .3 .4 .4 .1 .3-.4 .4-.4 .3 0 .3 0 .4-.2 .3-.1 .4 0 .3 .1 .3-.1 .4 .2 .3 0 .4 .2 .3 .5 .3-.2 .4-.5 .3 .4 .4 .1 .3-.6 .4-.1 .3 .3 .3 .3 .4 .2 .3-.3 .4-.4 .3 0 .3 .2 .4-.1 .3 0 .4 .1 .3 .3 .3 0 .4-.1 .3-.1 .4-.5 .3-.6 .3-.1 .4 .4 .3 .7 .4 .2 .3 .1 .3 .3 .4 .2 .3-.3 .4-.7 .3-.3 .3-.1 .4 0 .3 .3 .4 .4 .3-.1 .3-.4 .4-.1 .3 .5 .4 .2 .3-.3 .3-.4 .4 .1 .3 .5 .4 0 .3 .1 .3 .2 .4-.1 .3-.1 .4-.1 .3-.2 .3-.6 .4-.4 .3 .4 .4 .5 .3 .5 .3 0 .4-.8 .3-.2 .4 .6 .3 0 .3-.4 .4 .5 .3 .4 .4-.5 .3-.3 .3 .2 .4 .1 .3-.4 .4 0 .3 .3 .3 0 .4 .2 .3 .2 .4 0 .3-.1 .3-.2 .4-.3 .3 .2 .4 .1 .3-.5 .3-.2 .4 .2" fill="none" stroke="#008000" stroke-width="1.3" stroke-linejoin="round"/>
<path d="M139.8 683.6l.4-.4 .3-.6 .4 .5 .3 .7 .3 0 .4-.3 .3 .2 .4 .2 .3-.4 .3-.6 .4-.3 .3 .2 .4 .6 .3 0 .3-.3 .4 .3 .3-.1 .4 .1 .3 .4 .4 0 .3-.2 .3-.3 .4-.3 .3 .1 .4 .6 .3 .1 .3-.3 .4 0 .3 .5 .4-.3 .3-.2 .3 0 .4-.5 .3-.4 .4-.3 .3 0 .3 .4 .4-.1 .3-.8 .4-.8 .3 0 .3 .7 .4 .5 .3 .4 .4 .2 .3 .1 .3-.4 .4-.2 .3 .5 .4 .3 .3 0 .3 .2 .4 0 .3-.5 .4 .1 .3 .1 .3-.4 .4 0 .3 0 .4-.3 .3-.2 .3 0 .4 .2 .3 .1 .4 .1 .3 0 .3-.3 .4 .3 .3-.2 .4-.8 .3 .3 .3 0 .4-.7 .3-.2 .4 .1 .3 0 .3 .1 .4 .2 .3-.3 .4-1 .3-1.2 .3-1.5 .4-1 .3-.4 .4-.9 .3-1.1 .3-1 .4-.9 .3-1.1 .4-.9 .3-.4 .3 .2 .4 .6 .3 .8 .4 1.4 .3 1.3 .3 1 .4 1.2 .3 1.3 .4 .9 .3 .5 .3 .1 .4 .5 .3 .5 .4 .5 .3 .5 .4 .5 .3 .2 .3-.3 .4 .1 .3 .3 .4 0 .3 .3 .3 .1 .4-.2 .3 .4 .4 .4 .3 .1 .3 0 .4-.5 .3 .1 .4-.1 .3-.9 .3 .1 .4 .7 .3 .1 .4-.3 .3 0 .3 .6 .4 0 .3-.2 .4 0 .3 .1 .3 .3 .4 .6 .3 .6 .4 .2 .3-.9 .3-.5 .4 .2 .3-.4 .4-.2 .3 .5 .3 .1 .4 .2 .3 .2 .4-.1 .3-.3 .3-.3 .4 .1 .3 .3 .4 0 .3 .2 .3-.1 .4-.2 .3 .1 .4 0 .3 0 .3 .3 .4 .1 .3-.4 .4-.3 .3-.2 .3-.2 .4 .8 .3 1.1 .4-.8 .3-1 .3 .4 .4 .5 .3-.1 .4-.7 .3-.3 .3 .3 .4-.1 .3-.2 .4 .4 .3 .5 .3-.2 .4-.1 .3 0 .4-.1 .3 .7 .3 .4 .4-1.1 .3-.4 .4 .6 .3 .2 .3 .1 .4 .1 .3-.2 .4-.1 .3 .3 .4 .1 .3-.3 .3-.8 .4-.2 .3 .3 .4 .6 .3 .1 .3-.7 .4 0 .3 .5 .4 .2 .3 .4 .3-.2 .4-.3 .3 .5 .4 .1 .3-.8 .3-.3 .4 0 .3 0 .4-.1 .3-.2 .3 .1 .4 .2 .3-.2 .4-.2 .3-.6 .3-.1 .4 .6 .3 .8 .4 .4 .3-.1 .3-.4 .4-.1 .3 0 .4-.2 .3 .2 .3 .5 .4-.2 .3-.8 .4-.1 .3 .2 .3 0 .4 .3 .3 .5 .4-.1 .3-.5 .3-.4 .4-.2 .3 0 .4 .3 .3-.2 .3-.1 .4 .3 .3 .1 .4-.2 .3-.4 .3-.4 .4 0 .3 .3 .4 .2 .3 .2 .3-.1 .4-.3 .3-.4 .4 .3 .3 .4 .3-.2 .4 0 .3 .3 .4 .2 .3-.5 .3-.8 .4 .1 .3 .6 .4 .6 .3 .2 .3-.4 .4-.4 .3-.1 .4 .2 .3-.5 .3-.2 .4 .4 .3 .1 .4 .1 .3-.2 .4-.6 .3-.1 .3 .5 .4-.1 .3-.1 .4 .5 .3 .1 .3 0 .4-.2 .3-.6 .4-.6 .3-.5 .3 .1 .4 .5 .3 .5 .4 .2 .3 .3 .3 .1 .4-.6 .3 .2 .4 .4 .3-.4 .3-.7 .4-.2 .3 .4 .4 .1 .3 .2 .3 .2 .4-.3 .3 .1 .4 .1 .3-.2 .3 .2 .4 0 .3 .1 .4 .1 .3-.4 .3-.2 .4 .3 .3-.4 .4-.4 .3 .3 .3 .1 .4-.2 .3 .1 .4 .1 .3-.1 .3-.1 .4 .1 .3 .1 .4-.4 .3 .1 .3 .5 .4 .2 .3-.1 .4-.3 .3-.4 .3 .1 .4 .6 .3-.2 .4-.6 .3 0 .3-.1 .4-.2 .3 .2 .4 .3 .3-.1 .3-.5 .4 .3 .3 .6 .4 .2 .3 0 .3-.5 .4 0 .3 .4 .4 .5 .3 .2 .3-.6 .4-.1 .3 .1 .4-.1 .3 .4 .3 .3 .4 .1 .3-.4 .4-.8 .3 .4 .4 .3 .3 .3 .3 .8 .4-.4 .3-.4 .4 .1 .3 .1 .3 .4 .4-.5 .3-.1 .4 .9 .3 .1 .3-.6 .4-.2 .3 .1 .4-.2 .3 .2 .3 .4 .4 .1 .3 .4 .4 .6 .3-.4 .3-1 .4-.5 .3 .1 .4 .7 .3 .1 .3-.4 .4 0 .3-.1 .4 .2 .3 .7 .3 .5 .4-.6 .3-1.1 .4-.3 .3 .4 .3 .5 .4 .4 .3 0 .4-.3 .3-.2 .3-.3 .4-.1 .3 .5 .4 .3 .3 0 .3-.2 .4 0 .3 .1 .4-.4 .3-.3 .3 .5 .4 .6 .3 .1 .4-.2 .3 .1 .3 0 .4-.4 .3-.1 .4 .1 .3-.5 .3 0 .4 .5 .3-.6 .4-.4 .3 .7 .3 .4 .4 .2 .3-.1 .4-.2 .3 .1 .3 .3 .4 .1 .3-.1 .4 0 .3-.1 .3 0 .4 .1 .3-.4 .4 .1 .3 .5 .3-.3 .4 0 .3 .3 .4 0 .3-.1 .4-.4 .3-.2 .3 0 .4-.2 .3-.1 .4-.3 .3 0 .3 .3 .4-.7 .3-.4 .4 .6 .3 .2 .3 0 .4 0 .3 .1 .4-.1 .3-.5 .3-.1 .4 0 .3-.4 .4-.1 .3 .5 .3 0 .4-.6 .3 .3 .4 1.2 .3 .1 .3-.7 .4-.8 .3-.1 .4 .4 .3-.1 .3 .1 .4 .3 .3-.2 .4-.2 .3 0 .3 .2 .4 .4 .3-.1 .4-.5 .3-.2 .3-.1 .4-.2 .3 .4 .4 .4 .3-.2 .3-.3 .4-.3 .3-.4 .4-.2 .3 0 .3 .2 .4 .1 .3 0 .4 .1 .3 .3 .3 .1 .4-.1 .3-.2 .4-.4 .3-.8 .3-.3 .4 .6 .3 .5 .4 0 .3 .2 .3 .4 .4 0 .3 0 .4-.2 .3-.3 .3 .4 .4 .1 .3-.2 .4 .4 .3 .4 .3-.2 .4-.6 .3-.1 .4 .2 .3 .4 .3 0 .4-.1 .3 .3 .4 .3 .3 0 .4-.2 .3-.5 .3 .3 .4 .5 .3-.3 .4-.2 .3-.1 .3 0 .4 .4 .3-.1 .4-.1 .3 .2 .3 .2 .4-.1 .3 .2 .4 .1 .3-.5 .3 .4 .4 1 .3-.6 .4-1.2 .3-.1 .3 .9 .4 .8 .3-.4 .4-.6 .3 .2 .3 .5 .4 0 .3-.3 .4 .1 .3 0 .3-.4 .4-.1 .3 .3 .4 .7 .3 .3 .3-.7 .4-.2 .3 .8 .4 .8 .3-.3 .3-1 .4-.5 .3 .1 .4 .3 .3-.1 .3 .3 .4 .8 .3 .4 .4 0 .3-.3 .3-.2 .4 .1 .3 .2 .4 0 .3-.4 .3-.5 .4-.1 .3-.4 .4 .3 .3 .8 .3-.1 .4 .1 .3 .5 .4-.3 .3-.2 .3 .3 .4 .2 .3-.1 .4-.2 .3 .2 .3 .2 .4 .1 .3 0 .4 .2 .3 .1 .3-.7 .4-.3 .3 0 .4 .2 .3 .1 .3-.3 .4 .4 .3 0 .4-.4 .3-.1 .4 .6 .3 .5 .3 .1 .4 .3 .3-.2 .4-.7 .3-.4 .3 .4 .4 .4 .3 .2 .4 .1 .3-.4 .3-.1 .4 .3 .3 .2 .4 0 .3-.3 .3-.1 .4 .4 .3-.1 .4-.5 .3-.4 .3 0 .4 .5 .3 .7 .4-.1 .3-.9 .3-.5 .4 .1 .3 .1 .4 .5 .3 0 .3-.2 .4 .3 .3-.1 .4-.2 .3-.2 .3 0 .4 .6 .3 .6 .4 .4 .3-.2 .3-.4 .4-.2 .3-.2 .4 0 .3 .5 .3 .3 .4-.6 .3-.2 .4 .4 .3-.3 .3-.9 .4-.2 .3 .2 .4 .2 .3 .4 .3 .2 .4-.2 .3 .2 .4 .1 .3-.1 .3-.2 .4 0 .3-.2 .4-.3 .3 .6 .3 .2 .4-.3 .3 .4 .4 .1 .3 .3 .3 .5 .4-.2 .3-.5 .4-.3 .3-.4 .3-.4 .4-.4 .3 0 .4 .3 .3 .3 .3 .2 .4 .4 .3-.2 .4-.7 .3 .4 .4 .8 .3-.2 .3-.7 .4-.2 .3 .4 .4 .9 .3 .2 .3-.4 .4-.1 .3-.2 .4-.3 .3 0 .3-.1 .4-.2 .3-.1 .4 .5 .3 .1 .3-.4 .4-.2 .3 .2 .4 .4 .3 .3 .3-.2 .4 .1 .3 0 .4-.6 .3 0 .3 0 .4-.5 .3 .3 .4 .9 .3 0 .3-.5 .4 .7 .3 .6 .4-.8 .3-.8 .3-.1 .4 .2 .3 .2 .4 0 .3 0 .3 .1 .4-.2 .3 0 .4 .1 .3-.5 .3-.3 .4 .7 .3 .8 .4-.4 .3-.3 .3 .1 .4-.1 .3-.1 .4-.5 .3-.1 .3 .1 .4-.4 .3 0 .4 .5 .3 .2 .3-.6 .4-.7 .3 .3 .4 .4 .3-.7 .3-.5 .4 .4 .3 .8 .4 .4 .3-.1 .3-.5 .4-.5 .3 0 .4 .5 .3 .4 .3-.1 .4-.4 .3-.4 .4 .2 .3-.2 .3 0 .4 .3 .3-.2 .4 .3 .3 .6 .4 0 .3-.5 .3 .1 .4 .5 .3-.2 .4 0 .3 .3 .3-.1 .4-.1 .3-.1 .4 0 .3 0 .3-.6 .4 .2 .3 1.1 .4 .4 .3-.4 .3-.4 .4-.4 .3-.4 .4-.1 .3 .4 .3 .3 .4 .3 .3-.2 .4-.4 .3 .2 .3 .4 .4-.1 .3-.2 .4-.1 .3 .4 .3 .2 .4-.1 .3 0 .4-.1 .3-.3 .3 .4 .4 .2 .3-.9 .4-.7 .3-.4 .3 .2 .4 1.2 .3 .3 .4-.5 .3-.2 .3 .4 .4-.1 .3-.2 .4 .3 .3-.2 .3-.3 .4 .1 .3 0 .4 .4 .3 .5 .3-.1 .4-.4 .3-.1 .4-.2 .3-.2 .3 0 .4 .2 .3 .2 .4 0 .3 0 .3-.2 .4-.1 .3 .4 .4 .2 .3 0 .3-.3 .4-.5 .3-.2 .4 0 .3 .4 .3 .2 .4-.1 .3-.2 .4 0 .3 0 .3-.4 .4-.3 .3 .2 .4 .2 .3 .2 .4 .3 .3 .3 .3-.2 .4-.2 .3 0 .4-.4 .3 0 .3 .3 .4-.3 .3-.6 .4-.1 .3-.2 .3-.7 .4 .1 .3 .8 .4 .1 .3 .3 .3 .3 .4-.5 .3-.6 .4 .2 .3-.1 .3-.6 .4 .1 .3 0 .4-.5 .3 .4 .3 .7 .4 .2 .3-.4 .4-.5 .3-.5 .3 0 .4 .5 .3 .1 .4-.4 .3 .1 .3 .6 .4-.1 .3-.6 .4-.5 .3 .2 .3 0 .4-.2 .3 .5 .4-.3 .3-.9 .3 .2 .4 .4 .3-.4 .4-.5 .3 .4 .3 .1 .4-.1 .3 .4 .4 .1 .3-.1 .3-.1 .4-.4 .3 0 .4 .1 .3-.5 .3-.5 .4 .1 .3 0 .4 .1 .3 .3 .3-.1 .4-.4 .3-.6 .4-.7 .3 .2 .3 .8 .4 .4 .3 .4 .4-.2 .3-1 .3 0 .4 .6 .3-.8 .4-1 .3 .2 .3 .3 .4 .2 .3 .4 .4 .2 .3-.3 .4-.5 .3-.3 .3-.6 .4-.4 .3 .1 .4 .2 .3 .5 .3-.2 .4-.9 .3-.3 .4 .3 .3 .7 .3 .1 .4-.4 .3 .3 .4-.1 .3-.5 .3-.4 .4-.5 .3 .4 .4 .4 .3-.2 .3-.1 .4-.3 .3 0 .4 .2 .3 0 .3-.2 .4-.6 .3-.7 .4-.1 .3 0 .3-.3 .4-.4 .3-.3 .4 .4 .3 .6 .3 .1 .4-.1 .3-.2 .4-.4 .3-.5 .3-.2 .4 .1 .3 .1 .4 .3 .3 .4 .3 .2 .4-.4 .3-1.2 .4-.5 .3 .5 .3 .2 .4 0 .3 .1 .4-.6 .3-.1 .3 .7 .4 .1 .3-.6 .4-.4 .3-.5 .3-.4 .4 0 .3-.4 .4-.5 .3-.3 .3 0 .4 .5 .3 .6 .4 .1 .3-.6 .3-.4 .4-.5 .3-.7 .4 .2 .3 .2 .3 .1 .4 0 .3-.7 .4-.4 .3 .2 .3 .3 .4-.2 .3-.5 .4-.1 .3 .1 .4-.5 .3-.5 .3 .5 .4-.1 .3-.8 .4-.3 .3-.2 .3-.3 .4 0 .3 .6 .4 .3 .3-.6 .3-.5 .4-.3 .3-.4 .4-.5 .3-.1 .3-.3 .4-.3 .3 .1 .4-.1 .3-.1 .3-.3 .4-.5 .3 .3 .4 .2 .3-.7 .3-.7 .4-.3 .3-.2 .4 .1 .3-.2 .3-1.3 .4-.8 .3 .5 .4 0 .3-1 .3 .2 .4 .6 .3-.9 .4-.9 .3-1.1 .3-1.6 .4-.6 .3 0 .4-.8 .3-.7 .3-.3 .4-.7 .3-.8 .4-1 .3-.7 .3-.8 .4-1.3 .3-1.4 .4-1 .3-.6 .3-.7 .4-1.4 .3-1.5 .4-1.1 .3-1.6 .3-2.1 .4-1.5 .3-1.5 .4-1.8 .3-2.1 .3-2 .4-1.5 .3-2.1 .4-3 .3-2.8 .3-3.1 .4-3.4 .3-3.4 .4-2.7 .3-2.6 .3-3 .4-2.9 .3-3.5 .4-3.7 .3-3.1 .3-2.7 .4-3.4 .3-4.2 .4-3.2 .3-2.4 .4-2.3 .3-1.8 .3-1.7 .4-1.3 .3-.5 .4 .2 .3 1.2 .3 1.7 .4 1.3 .3 1.9 .4 2.6 .3 2.8 .3 2.7 .4 2.9 .3 3.1 .4 3.9 .3 4.1 .3 3.4 .4 3.2 .3 3.8 .4 3.9 .3 3.3 .3 2.9 .4 2.8 .3 3 .4 2.7 .3 2.4 .3 3.2 .4 3 .3 1.9 .4 1.6 .3 2.1 .3 2.5 .4 2.1 .3 1.7 .4 1.9 .3 1.7 .3 .6 .4 1.1 .3 2 .4 1.6 .3 1 .3 .9 .4 .8 .3 1.1 .4 1.1 .3 1.4 .3 1.3 .4 .9 .3 .4 .4 0 .3 .3 .3 .9 .4 1.2 .3 .9 .4 .3 .3 .3 .3-.2 .4 .1 .3 1.1 .4 .7 .3 .8 .3 1.1 .4 .7 .3 0 .4-.1 .3 .1 .3 .3 .4 .5 .3 .9 .4 .7 .3 0 .3 .3 .4 .4 .3 0 .4 .5 .3 .4 .3 .1 .4 .2 .3-.1 .4 0 .3 .3 .3 .5 .4 .6 .3 .2 .4-.4 .3-.3 .4 .2 .3 .4 .3-.1 .4 .4 .3 .9 .4-.1 .3-.2 .3 .6 .4 .2 .3-.1 .4-.1 .3 .1 .3 .2 .4-.3 .3-.5 .4 .7 .3 1.3 .3 .5 .4-.2 .3 0 .4 0 .3-.6 .3-.8 .4 .4 .3 .9 .4 .4 .3 0 .3-.2 .4-.3 .3 .5 .4 .4 .3-.4 .3-.5 .4-.4 .3 .2 .4 1.1 .3 .5 .3-.7 .4-.7 .3 .3 .4 1 .3 0 .3-1.1 .4-.5 .3 .4 .4 .3 .3 .2 .3 .6 .4 .4 .3-.4 .4-.4 .3-.3 .3 .3 .4 .6 .3-.3 .4-.1 .3 .5 .3-.2 .4-.4 .3 .1 .4 .3 .3 .3 .3-.2 .4-.3 .3 0 .4 0 .3-.3 .3 .2 .4 .1 .3-.7 .4-.3 .3 .5 .3 .2 .4-.2 .3 .4 .4 .5 .3-.9 .3-.6 .4 .2 .3-.2 .4-.3 .3 .4 .4 .3 .3-.2 .3-.1 .4 .1 .3-.2 .4-.2 .3 .1 .3-.3 .4-.1 .3 .3 .4 0 .3-.2 .3 0 .4 .1 .3 0 .4-.5 .3-.5 .3 .1 .4 .2 .3-.4 .4-.1 .3 .2 .3-.3 .4-.1 .3-.1 .4-.3 .3 .3 .3 .2 .4-.5 .3-.4 .4-.5 .3-.5 .3 0 .4-.2 .3-.5 .4-.3 .3 .1 .3-.4 .4-1.1 .3-.7 .4-.2 .3-.2 .3-.1 .4-.5 .3-.5 .4-.3 .3-.9 .3-.4 .4-.3 .3-1.3 .4-1.4 .3-1 .3-.7 .4-.5 .3-1.1 .4-1.3 .3-1.2 .3-1.6 .4-1.7 .3-1.1 .4-1.8 .3-2.2 .3-1.2 .4-1.4 .3-2.2 .4-2.2 .3-1.7 .3-1.8 .4-2.7 .3-3 .4-2.8 .3-2 .3-1.9 .4-2.6 .3-2.5 .4-2.2 .3-2.5 .3-2.6 .4-2 .3-1.4 .4-1.4 .3-1.2 .3-1 .4-1.2 .3-.6 .4-.3 .3 .2 .4 1 .3 .8 .3 1 .4 1.7 .3 2.2 .4 2.1 .3 1.6 .3 2.4 .4 2.9 .3 2.6 .4 2.1 .3 2.6 .3 2.9 .4 2.5 .3 2.1 .4 2.2 .3 2.4 .3 2.4 .4 1.9 .3 1.4 .4 1.9 .3 2.6 .3 2.2 .4 1.7 .3 1.7 .4 1.2 .3 1.1 .3 1.1 .4 .7 .3 1.1 .4 1.8 .3 1.3 .3 .6 .4 1.1 .3 1.7 .4 1 .3 .8 .3 1 .4 .3 .3 0 .4 .8 .3 .7 .3 .4 .4 .3 .3 .2 .4 .8 .3 .9 .3 .4 .4 .1 .3 0 .4 .2 .3 .6 .3 .5 .4 .3 .3 .3 .4 .5 .3 .4 .3 .4 .4 0 .3-.1 .4 .3 .3-.3 .3 .4 .4 1.2 .3 .4 .4-.3 .3 0 .3-.3 .4-.3 .3 .4 .4 .4 .3 0 .3-.2 .4 .1 .3-.4 .4 .1 .3 .8 .3 .1 .4-.1 .3 .5 .4 0 .3 0 .3 .5 .4 0 .3 .1 .4-.1 .3-.2 .4-.1 .3-.3 .3 .5 .4 .7 .3 .2 .4 0 .3-.4 .3 .2 .4 .7 .3-.1 .4-.3 .3 .2 .3 .1 .4-.5 .3 .1 .4 .5 .3 .1 .3 .5 .4 .1 .3-.2 .4 0 .3 0 .3 .2 .4-.4 .3-.6 .4 0 .3 0 .3 .5 .4 .4 .3-.5 .4-.3 .3 .5 .3 .5 .4 .4 .3 .1 .4-.3 .3-.2 .3 .1 .4 .4 .3 .5 .4-.1 .3-.4 .3-.2 .4 .1 .3 .1 .4-.1 .3 .1 .3-.2 .4-.3 .3 .4 .4 .2 .3-.4 .3-.3 .4 .4 .3 .4 .4-.3 .3-.1 .3 .2 .4-.1 .3-.1 .4-.3 .3-.1 .3 .4 .4 .2 .3-.1 .4 0 .3-.1 .3 0 .4 .2 .3 .1 .4-.2 .3 .1 .3 .5 .4 .1 .3 0 .4 .4 .3-.1 .3-.6 .4-.5 .3 .2 .4 .7 .3 .4 .3-.2 .4-.5 .3 .3 .4-.3 .3-.9 .4 .3 .3 .3 .3-.3 .4 .3 .3 .7 .4-.3 .3-.3 .3 .4 .4 .3 .3-.3 .4 .3 .3-.2 .3-.6 .4 .1 .3 .5 .4 .1 .3-.5 .3-.1 .4 .4 .3 .1 .4 .1 .3 .5 .3 .2 .4-.7 .3-.4 .4 0 .3 0 .3-.1 .4-.1 .3 .3 .4 .5 .3 0 .3-.2 .4 0 .3 .2 .4 .2 .3 .4 .3-.2 .4-.6 .3-.4 .4 0 .3 .2 .3-.2 .4-.1 .3 .5 .4-.2 .3-.7 .3-.2 .4 .6 .3 .7 .4 .3 .3-.2 .3-.2 .4-.1 .3-.2 .4 .1 .3 .5 .3 .2 .4-.3 .3-.6 .4 .1 .3 .5 .3-.2 .4-.2 .3-.4 .4-.3 .3 .7 .3 .7 .4-.1 .3-.3 .4 .1 .3 .1 .3 .2 .4 0 .3-.3 .4-.3 .3-.2 .3 .4 .4 .6 .3 .1 .4-.2 .3 0 .3 .1 .4-.4 .3-.5 .4 .4 .3 .5 .4-.6 .3-.8 .3 .4 .4 .8 .3 0 .4-.2 .3 .2 .3 .6 .4-.2 .3-.1 .4 .1 .3-.3 .3-.5 .4-.3 .3 0 .4 .3 .3 0 .3-.3 .4 0 .3 .4 .4 .2 .3-.4 .3-.2 .4 .2 .3-.2 .4-.1 .3 .6 .3 .5 .4-.1 .3-.5 .4-.2 .3 0 .3-.2 .4 .3 .3 .2 .4-.3 .3-.1 .3 .1 .4-.1 .3 .4 .4 .6 .3-.1 .3-.6 .4-.4 .3 .4 .4-.2 .3-.5 .3 .5 .4 .7 .3 .3 .4 0 .3-.7 .3-.4 .4 .6 .3 .2 .4-.3 .3-.1 .3 0 .4-.1 .3 .1 .4 0 .3 .1 .3 .7 .4 .1 .3-.3 .4-.2 .3-.2 .3 .3 .4-.4 .3-.4 .4 .1 .3 .2 .3 .4 .4-.2 .3-.4 .4 .4 .3 .7 .3 .2 .4-.2 .3-.8 .4-.4 .3 .3 .3 .2 .4-.1 .3-.4 .4-.2 .3-.2 .4 .2 .3 .6 .3 .2 .4 .1 .3-.4 .4-.4 .3 0 .3 .1 .4 .4 .3 .1 .4-.1 .3 0 .3 0 .4 .1 .3-.1 .4 0 .3 .3 .3-.2 .4-.4 .3 0 .4 .2 .3 .2 .3 .2 .4 .4 .3-.4 .4-.7 .3 0 .3 .3 .4 .3 .3 .2 .4-.1 .3 .2 .3-.1 .4-.4 .3 .3 .4 .1 .3-.3 .3-.3 .4 .1 .3 .6 .4-.1 .3-.4 .3 .2 .4 .2 .3 .1 .4-.3 .3-.5 .3-.3 .4 .1 .3 0 .4 .6 .3 .4 .3 0 .4 .2 .3-.2 .4-.2 .3 .2 .3 0 .4-.2 .3-.1 .4-.1 .3-.1 .3 0 .4-.1 .3 0 .4 .1 .3 .1 .3-.1 .4-.3 .3 .4 .4 .9 .3-.4 .3-.9 .4-.3 .3-.3 .4 .2 .3 .6 .3 .3 .4 0 .3-.3 .4-.2 .3 .2 .3 .4 .4 .2 .3 0 .4-.1 .3 0 .4 .2 .3 .1 .3 .2 .4 .4 .3 0 .4-.7 .3-.3 .3 .2 .4 0 .3-.4 .4-.3 .3-.1 .3 .4 .4 .4 .3-.4 .4-.8 .3 0 .3 .4 .4 .3 .3 .3 .4-.4 .3 0 .3 .3 .4 0 .3 0 .4 .2 .3 .2 .3-.2 .4-.4 .3 .3 .4 0 .3-.6 .3-.3 .4 .2 .3 .7 .4 .2 .3 .2 .3 .1 .4-.2 .3 .1 .4-.2 .3-.7 .3 .1 .4 .2 .3-.2 .4 .2 .3 .7 .3-.2 .4-.6 .3 .1 .4 .2 .3-.3 .3-.4 .4 .2 .3 .4 .4 .2 .3-.3 .3-.2 .4 .5 .3-.2 .4-.4 .3 0 .3 .4 .4 .1 .3-.1 .4 .6 .3 .2 .3-.4 .4-.3 .3-.4 .4-.7 .3-.4 .3 .2 .4 .5 .3 .8 .4 .6 .3-.2 .3-.4 .4-.1 .3 .3 .4 .3 .3-.4 .3-.4 .4 .1 .3 .7 .4 .2 .3-.2 .4-.2 .3-.2 .3-.3 .4-.4 .3 .1 .4 .6 .3-.2 .3-.4 .4 0 .3 .1 .4-.1 .3-.2 .3-.1 .4 .2 .3-.1 .4 .1 .3 .4 .3 .3 .4-.3 .3-.5 .4 .1 .3 .4 .3 .3 .4 .2 .3-.6 .4-.5 .3 .6 .3 .2 .4-.1 .3 .1 .4 .1 .3 .2 .3 .3 .4-.3 .3-.4 .4-.4 .3-.3 .3 .7 .4 .5 .3-.1 .4-.5 .3 .1 .3 .1 .4-.4 .3-.4 .4-.2 .3 .2 .3 .5 .4 .7 .3 .4 .4-.7 .3-.6 .3 .3 .4 .2 .3-.3 .4-.8 .3-.1 .3 .8 .4 .6 .3 .1 .4-.3 .3-.5 .3 .3 .4 .2 .3-.8 .4-.5 .3 .6 .3 .8 .4-.1 .3-.4 .4 .3 .3 .4 .3-.3 .4-.6 .3 .2 .4 .4 .3 .1 .3 .2 .4-.3 .3-.4 .4-.2 .3 .1 .3 .3 .4-.3 .3-.1 .4 .4 .3 .1 .4 .1 .3 .2 .3 .1 .4 .1 .3 0 .4-.3 .3-.7 .3-.7 .4 .2 .3 .7 .4-.2 .3-.8 .3 0 .4 .9 .3 .8 .4-.6 .3-1 .3 .3 .4 .6 .3-.5 .4-.7 .3 .4 .3 1.1 .4 .2 .3-.7 .4-.3 .3 .5 .3 .7 .4 .3 .3-.6 .4-.8 .3 .2 .3 .3 .4-.2 .3 .3 .4 .2 .3-.2 .3 .2 .4 0 .3-.2 .4-.2 .3-.2 .3 .3 .4 .2 .3 .3 .4 .2 .3-1 .3-.9 .4 .1 .3 .2 .4 .2 .3 .1 .3-.2 .4-.2 .3 .3 .4 .4 .3 .2 .3-.1 .4-.5 .3 0 .4 .4 .3 .1 .3-.6 .4-.4 .3 0 .4 .2 .3 .2 .3-.1 .4 .5 .3 .6 .4-.4 .3-.2 .3 0 .4 0 .3-.2 .4-.4 .3 .1 .3-.1 .4-.1 .3 .4 .4 .3 .3-.3 .3-.1 .4 .1 .3-.4 .4-.6 .3-.2 .4-.2 .3 .2 .3 .5 .4 .4 .3 0 .4-.3 .3 0 .3-.3 .4-.4 .3 .7 .4 .8 .3 0 .3-.7 .4-.5 .3 .3 .4 .4 .3 0 .3-.3 .4-.3 .3 .1 .4 .2 .3 .1 .3 .3 .4 .1 .3-.3 .4-.3 .3 .2 .3 .5 .4-.3 .3-.1 .4 .2 .3-.4 .3-.3 .4 .2 .3-.1 .4-.2 .3 0 .3-.3 .4-.1 .3 0 .4-.2 .3 .1 .3 .2 .4 .1 .3 .1 .4-.1 .3-.3 .3 .4 .4 .5 .3 .3 .4-.3 .3-.5 .3-.3 .4 .2 .3 .3 .4-.5 .3-.4 .3 .2 .4 0 .3-.4 .4-.4 .3-.2 .3 .5 .4 .5 .3-.1 .4-.1 .3 .1 .3 .1 .4 .1 .3 .1 .4-.4 .3-.3 .3 .4 .4-.1 .3 .1 .4 .2 .3-.5 .3 .1 .4 .3 .3 0 .4-.3 .3-.1 .3 .5 .4 .5 .3 0 .4-.7 .3-.7 .4-.3 .3 0 .3 .6 .4 .2 .3-.2 .4 .1 .3 .1 .3 .1 .4 .1 .3-.4 .4-.6 .3 0 .3 .9 .4 .6 .3-.5 .4-.7 .3 .1 .3 .1 .4-.3 .3 .3 .4 .4 .3-.7 .3-.6 .4 .5 .3 .2 .4-.7 .3 .3 .3 .7 .4-.5 .3-.3 .4 .6 .3 .7 .3 0 .4-1.1 .3-.7 .4 .4 .3 .4 .3 .3 .4-.3 .3-.3 .4-.1 .3-.4 .3 0 .4 .4 .3 .3 .4 .2 .3 .1 .3 .1 .4 0 .3-.4 .4-.7 .3 .3 .3 .6 .4-.4 .3-.2 .4 .1 .3 0 .3 0 .4-.1 .3-.2 .4-.1 .3 0 .3 .4 .4 .3 .3-.8 .4-.5 .3 .1 .3-.1 .4-.1 .3 0 .4 0 .3 .1 .3 .2 .4-.1 .3-.6 .4-.2 .3-.1 .3-.3 .4 0 .3-.1 .4-.3 .3 .1 .3 .5 .4 .3 .3 0 .4-.4 .3 .1 .4 .1 .3-.9 .3-.4 .4-.2 .3-.3 .4 .3 .3 0 .3-.4 .4-.3 .3 0 .4 .2 .3-.1 .3-.3 .4-.5 .3-.4 .4 0 .3-.3 .3-.3 .4 0 .3 .3 .4-.1 .3-.9 .3-.4 .4 0 .3-.2 .4-.1 .3-.4 .3-.2 .4 0 .3-.4 .4-.4 .3 .1 .3-.6 .4-1.5 .3-.8 .4 .1 .3 .2 .3-.3 .4-.7 .3-.3 .4-.2 .3-.4 .3-.1 .4-.3 .3-.4 .4-.3 .3 0 .3-.1 .4-.9 .3-1.4 .4-.9 .3 0 .3 0 .4-.3 .3-.2 .4-.5 .3-.9 .3-.3 .4-.2 .3-.7 .4-.6 .3 0 .3-.1 .4-.4 .3-.1 .4 .3 .3 .4 .3-.5 .4-.4 .3-.5 .4-1 .3-.6 .3 .7 .4 .9 .3 0 .4 0 .3 .5 .3 .5 .4-.5 .3-.3 .4 .2 .3 .4 .3 .8 .4 .3 .3 .4 .4 1 .3 .6 .4 .2 .3 .3 .3 .6 .4 .4 .3 .2 .4 .3 .3 .7 .3 .5 .4 .4 .3 .7 .4 .4 .3 .4 .3 .3 .4 .4 .3 .5 .4 .3 .3 .5 .3 .7 .4 .8 .3 .5 .4-.2 .3-.1 .3 .1 .4 .3 .3 .8 .4 .8 .3 .1 .3 0 .4 .4 .3 .1 .4-.4 .3-.4 .3 .4 .4 .8 .3 .3 .4 .1 .3 .9 .3 .6 .4-.2 .3 .2 .4 .5 .3-.1 .3 .3 .4 .4 .3-.5 .4-.3 .3 1.1 .3 .7 .4-.2 .3-.2 .4-.2 .3 .1 .3 .2 .4 .4 .3 .9 .4 .1 .3-.4 .3-.1 .4 .2 .3 .3 .4 .9 .3 .2 .3-1 .4-.4 .3 .7 .4 .7 .3-.1 .3-.4 .4-.2 .3-.4 .4-.1 .3 .4 .3 .5 .4-.1 .3 .1 .4 .3 .3 .2 .3 .4 .4 .2 .3-.1 .4 .1 .3-.2 .3-.3 .4 .4 .3 .8 .4 .2 .3-.3 .4-.2 .3-.1 .3-.2 .4 .1 .3 .3 .4 .3 .3 .2 .3-.3 .4 .1 .3 .4 .4 0 .3-.1 .3 .1 .4 .2 .3-.4 .4-.9 .3 .1 .3 .4 .4-.1 .3 .2 .4 .2 .3-.2 .3 .1 .4 0 .3-.1 .4-.1 .3 .3 .3 .5 .4 .4 .3-.1 .4-.5 .3-.4 .3 .2 .4 .2 .3 0 .4 .1 .3-.1 .3-.1 .4-.1 .3-.4 .4 0 .3 .4 .3 0 .4 0 .3 0 .4-.2 .3-.2 .3 .2 .4 .1 .3-.3 .4-.2 .3 .1 .3 .5 .4 .4 .3 .3 .4 0 .3 .1 .3 0 .4-.3 .3 0 .4 .3 .3 0 .3-.3 .4 .3 .3-.4 .4-.7 .3 .1 .3-.5 .4-.2 .3 .6 .4 .3 .3-.1 .3-.4 .4-.5 .3 .3 .4 .7 .3-.5 .3-.2 .4 .3 .3-.4 .4-.5 .3 .1 .3 .2 .4-.3 .3 0 .4 .6 .3 .2 .4-.4 .3-.4 .3 .2 .4 .5 .3 .2 .4-.2 .3-.7 .3-.6 .4 .1 .3 .7 .4 .3 .3-.1 .3 .1 .4-.4 .3-.9 .4 0 .3 .8 .3 .2 .4-1 .3-.5 .4 .2 .3 .1 .3 .1 .4-.1 .3 0 .4-.1 .3 .2 .3 .4 .4-.3 .3-.9 .4-.2 .3 .5 .3 .3 .4-.2 .3-.1 .4 0 .3-.3 .3 .2 .4 .2 .3-.7 .4-.5 .3 .5 .3 .5 .4-.1 .3-.4 .4-.3 .3 .1 .3 .1 .4-.4 .3 0 .4 .3 .3 .2 .3 .1 .4-.3 .3-.3 .4 .3 .3-.2 .3-.3 .4 .2 .3-.1 .4 .2 .3 .3 .3-.1 .4 .1 .3 .3 .4 .4 .3 .1 .3-.8 .4-1.1 .3-.7 .4 .1 .3 .5 .3 .5 .4 .2 .3 .4 .4 .4 .3 .2 .3-.3 .4 .1 .3 .5 .4 .4 .3-.7 .3-.8 .4 .4 .3 0 .4-.2 .3 .5 .4 .2 .3-.2 .3 .4 .4 .7 .3 .2 .4-.6 .3-.2 .3 .8 .4 .4 .3-.4 .4 0 .3 .6 .3 .3 .4-.4 .3-.3 .4 .2 .3 .2 .3-.1 .4-.1 .3 .1 .4 .4 .3 .2 .3-.1 .4-.3 .3-.1 .4 .2 .3 0 .3 0 .4 .1 .3 .4 .4 .7 .3 .3 .3 0 .4 .1 .3 .2 .4-.6 .3-.6 .3 .1 .4 .1 .3 .2 .4 .4 .3 0 .3-.3 .4 0 .3 .1 .4 .2 .3-.3 .3-.1 .4 .1 .3-.3 .4 .5 .3 .6 .3-.3 .4-.1 .3-.1 .4 .8 .3 1 .3-.4 .4-.5 .3 .2 .4-.2 .3-.3 .3 .2 .4-.2 .3 0 .4 1 .3 .1 .3-.6 .4-.2 .3 .4 .4 .6 .3-.2 .3-.7 .4-.5 .3 .1 .4 .6 .3 .5 .3 .2 .4 .2 .3-.3 .4-.7 .3 .1 .3 .6 .4-.2 .3-.4 .4 .1 .3 .1 .4-.3 .3 0 .3 .3 .4-.2 .3-.3 .4 .1 .3 .2 .3 .3 .4 .5 .3-.2 .4 0 .3 .2 .3-.6 .4-.5 .3 .4 .4 .2 .3 .3 .3 .5 .4-.4 .3-.3 .4 .2 .3-.1 .3 .4 .4 .1 .3-.6 .4-.3 .3 0 .3 .4 .4 .1 .3-.4 .4-.2 .3 .3 .3 .4 .4 0 .3-.7 .4-.1 .3 .5 .3 0 .4-.2 .3 .5 .4-.2 .3-.8 .3 0 .4 .2 .3-.3 .4-.1 .3 .3 .3 .6 .4 .3 .3 .2 .4 .2 .3-.2 .3-.5 .4-.4 .3 0 .4 .7 .3 .3 .3-.2 .4-.3 .3-.7 .4 .1 .3 .7 .3-.2 .4-.2 .3 .5 .4 .2 .3-.5 .3-.5 .4 .2 .3 .4 .4-.1 .3 0 .3 0 .4-.1 .3-.1 .4 0 .3 .2 .3 .3 .4 .3 .3 .3 .4-.6 .3-.8 .3 .2 .4 .1 .3 0 .4 .4 .3 0 .4 0 .3 0 .3-.4 .4-.2 .3 .2 .4 0 .3-.1 .3 .7 .4 .5 .3-.4 .4-.1 .3 .1 .3-.1 .4 .2 .3 .5 .4 0 .3-.7 .3-.5 .4 .2 .3 .3 .4-.2 .3-.4 .3 .2 .4-.2 .3-.2 .4 .7 .3 .4 .3-.1 .4-.9 .3-.7 .4 .7 .3 .5 .3 0 .4-.1 .3-.4 .4-.1 .3-.4 .3-.1 .4 .3 .3 .1 .4 .3 .3-.2 .3-.2 .4 .5 .3-.1 .4-.4 .3-.1 .3-.3 .4-.2 .3 .2 .4-.3 .3-.1 .3 .9 .4 .5 .3-.1 .4-.7 .3 0 .3 .8 .4 .3 .3-.9 .4-.6 .3 .3 .3 .5 .4 0 .3-.1 .4 .1 .3 .2 .3 0 .4-.2 .3-.3 .4-.1 .3-.4 .3-.1 .4 .2 .3-.1 .4 .1 .3 .3 .3-.1 .4-.2 .3-.2 .4-.1 .3 .1 .3 .5 .4 .3 .3-.6 .4-.4 .3 .2 .4 .4 .3 .2 .3-.3 .4-.1 .3 .6 .4 .1 .3-.5 .3-.3 .4 .5 .3 .5 .4-.7 .3-.6 .3 .4 .4 .3 .3-.5 .4-.3 .3 .4 .3 .3 .4-.1 .3 .5 .4 .3 .3-.5 .3-.3 .4-.1 .3-.1 .4 .2 .3 .2 .3 .1 .4-.1 .3-.1 .4-.3 .3-.2 .3 .9 .4 .5 .3-.5 .4-.1 .3 0 .3-.6 .4-.4 .3 .6 .4 .1 .3-.6 .3-.1 .4 .6 .3 .2 .4-.1 .3 .3 .3 .3 .4-.2 .3-.6 .4-.4 .3 .1 .3 .3 .4 .8 .3 .3 .4-.2 .3-.8 .3 0 .4 .9 .3 .1 .4-.2 .3 .3 .3 .1 .4-.2 .3-.2 .4 .2 .3 .2 .3-.1 .4-.4 .3-.1 .4-.2 .3-.1 .3 .2 .4 .1 .3-.1 .4-.1 .3-.3 .3-.1 .4 .4 .3 .5 .4-.1 .3-.4 .3 0 .4 .5 .3 .4 .4 .4 .3-.3 .4-.7 .3-.2 .3-.1 .4 0 .3 .3 .4 .3 .3 .4 .3-.2 .4-.6 .3-.5 .4 .3 .3 .8 .3 0 .4-.4 .3-.2 .4 .1 .3-.1 .3-.2 .4 0 .3-.1 .4 .3 .3 .6 .3 .2 .4-.4 .3-.3 .4 .3 .3 .8 .3 .2 .4-.7 .3-.6 .4 .6 .3 .2 .3-.5 .4 0 .3 .4 .4-.1 .3 0 .3 .2 .4 0 .3 0 .4-.2 .3-.3 .3 .4 .4 .2 .3-.5 .4-.2 .3 .1 .3 .1 .4 .4 .3 .2 .4-.2 .3-.5 .3 .1 .4 .3 .3 0 .4 0 .3 .5 .3 .6 .4-.3 .3-.5 .4 .4 .3 .5 .3-.2 .4-.8 .3-.6 .4 .2 .3 .4 .3 0 .4-.2 .3 .3 .4 .2 .3-.7 .3-.1 .4 .7 .3-.1 .4-.4 .3 .1 .3 .2 .4-.4 .3-.3 .4 .2 .3 .1 .3 .2 .4 .4 .3-.4 .4-.4 .3-.3 .4-.2 .3 .3 .3 .3 .4 0 .3 .1 .4 .6 .3 .1 .3-.3 .4 .2 .3-.3 .4-.7 .3-.2 .3 .3 .4 .2 .3 .2 .4 .5 .3 .2 .3-.1 .4-.3 .3-.4 .4 .4 .3 .3 .3-.6 .4-.4 .3 .3 .4 .8 .3 .5 .3 0 .4-.6 .3-.2 .4-.1 .3-.3 .3 .4 .4 .4 .3 .1 .4 0 .3-.3 .3-.1 .4 .2 .3 .4 .4 .1 .3-.4 .3-.1 .4 .1 .3-.1 .4 .1 .3 .3 .3 0 .4-.7 .3-.7 .4 .2 .3 .6 .3 .3 .4-.3 .3-.2 .4-.1 .3-.3 .3 0 .4 .4 .3-.1 .4-.3 .3 0 .3 .2 .4-.4 .3 .5 .4 .5 .3-.4 .3-.2 .4-.1 .3-.3 .4 .3 .3 .6 .3 0 .4-.2 .3 .2 .4 .3 .3-.4 .3-.6 .4-.3" fill="none" stroke="#0000ff" stroke-width="1.3" stroke-linejoin="round"/>
<path d="M136.9 29.1H1211.2V687.2" fill="none" stroke="#5c5c5c" stroke-width="1.45"/>
<path d="M136.9 29.1V687.2H1211.8" fill="none" stroke="#5a5a5a" stroke-width="1.6"/>
<path d="M129.7 683.9H136.9M129.7 652.5H136.9M129.7 621.1H136.9M129.7 589.7H136.9M129.7 558.3H136.9M129.7 526.8H136.9M129.7 495.4H136.9M129.7 464.0H136.9M129.7 432.6H136.9M129.7 401.2H136.9M129.7 369.8H136.9M129.7 338.4H136.9M129.7 307.0H136.9M129.7 275.6H136.9M129.7 244.2H136.9M129.7 212.8H136.9M129.7 181.3H136.9M129.7 149.9H136.9M129.7 118.5H136.9M129.7 87.1H136.9M129.7 55.7H136.9" stroke="#5a5a5a" stroke-width="1.4" fill="none"/>
<path d="M202.3 687.2V694.0M279.6 687.2V697.6M357.0 687.2V694.0M434.3 687.2V697.6M511.6 687.2V694.0M589.0 687.2V697.6M666.3 687.2V694.0M743.6 687.2V697.6M820.9 687.2V694.0M898.2 687.2V697.6M975.6 687.2V694.0M1052.9 687.2V697.6M1130.2 687.2V694.0M1207.5 687.2V697.6" stroke="#5a5a5a" stroke-width="1.4" fill="none"/>
<text transform="translate(279.6,715.8) scale(1,1.15)" font-size="17.6" font-weight="bold" fill="#1c1c1c" text-anchor="middle" word-spacing="2.3">500</text>
<text transform="translate(433.6,715.8) scale(1,1.15)" font-size="17.6" font-weight="bold" fill="#1c1c1c" text-anchor="middle" word-spacing="2.3">1 000</text>
<text transform="translate(588.2,715.8) scale(1,1.15)" font-size="17.6" font-weight="bold" fill="#1c1c1c" text-anchor="middle" word-spacing="2.3">1 500</text>
<text transform="translate(742.9,715.8) scale(1,1.15)" font-size="17.6" font-weight="bold" fill="#1c1c1c" text-anchor="middle" word-spacing="2.3">2 000</text>
<text transform="translate(897.5,715.8) scale(1,1.15)" font-size="17.6" font-weight="bold" fill="#1c1c1c" text-anchor="middle" word-spacing="2.3">2 500</text>
<text transform="translate(1052.2,715.8) scale(1,1.15)" font-size="17.6" font-weight="bold" fill="#1c1c1c" text-anchor="middle" word-spacing="2.3">3 000</text>
<text transform="translate(1209.1,715.8) scale(1,1.15)" font-size="17.6" font-weight="bold" fill="#1c1c1c" text-anchor="end" word-spacing="2.3">3 500</text>
<path d="M172.4 195.6V210.8" stroke="#800000" stroke-width="1.20" fill="none"/>
<path d="M172.4 212.8L169.7 206.0L172.4 207.8L175.2 206.0Z" fill="#800000"/>
<text transform="translate(178.1,189.8) rotate(-90) scale(1,1.08)" font-size="18.4" fill="#800000">153.4</text>
<path d="M531.4 126.1V141.3" stroke="#800000" stroke-width="1.20" fill="none"/>
<path d="M531.4 143.3L528.7 136.5L531.4 138.3L534.2 136.5Z" fill="#800000"/>
<text transform="translate(537.1,120.3) rotate(-90) scale(1,1.08)" font-size="18.4" fill="#800000">1314.0</text>
<path d="M614.9 171.2V186.4" stroke="#800000" stroke-width="1.20" fill="none"/>
<path d="M614.9 188.4L612.1 181.6L614.9 183.4L617.6 181.6Z" fill="#800000"/>
<text transform="translate(620.6,165.4) rotate(-90) scale(1,1.08)" font-size="18.4" fill="#800000">1583.8</text>
<path d="M935.8 203.9V219.1" stroke="#800000" stroke-width="1.20" fill="none"/>
<path d="M935.8 221.1L933.1 214.3L935.8 216.1L938.6 214.3Z" fill="#800000"/>
<text transform="translate(941.5,198.1) rotate(-90) scale(1,1.08)" font-size="18.4" fill="#800000">2621.5</text>
<path d="M171.9 356.8V372.0" stroke="#ff0000" stroke-width="1.20" fill="none"/>
<path d="M171.9 374.0L169.1 367.2L171.9 369.0L174.6 367.2Z" fill="#ff0000"/>
<text transform="translate(177.6,351.0) rotate(-90) scale(1,1.08)" font-size="18.4" fill="#ff0000">151.6</text>
<path d="M531.8 256.7V271.9" stroke="#ff0000" stroke-width="1.20" fill="none"/>
<path d="M531.8 273.9L529.0 267.1L531.8 268.9L534.5 267.1Z" fill="#ff0000"/>
<text transform="translate(537.5,250.9) rotate(-90) scale(1,1.08)" font-size="18.4" fill="#ff0000">1315.2</text>
<path d="M615.7 303.6V318.8" stroke="#ff0000" stroke-width="1.20" fill="none"/>
<path d="M615.7 320.8L613.0 314.0L615.7 315.8L618.5 314.0Z" fill="#ff0000"/>
<text transform="translate(621.4,297.8) rotate(-90) scale(1,1.08)" font-size="18.4" fill="#ff0000">1586.5</text>
<path d="M936.6 348.1V363.3" stroke="#ff0000" stroke-width="1.20" fill="none"/>
<path d="M936.6 365.3L933.9 358.5L936.6 360.3L939.4 358.5Z" fill="#ff0000"/>
<text transform="translate(942.3,342.3) rotate(-90) scale(1,1.08)" font-size="18.4" fill="#ff0000">2624.0</text>
<path d="M171.3 486.0V501.2" stroke="#008000" stroke-width="1.20" fill="none"/>
<path d="M171.3 503.2L168.5 496.4L171.3 498.2L174.0 496.4Z" fill="#008000"/>
<text transform="translate(177.0,480.2) rotate(-90) scale(1,1.08)" font-size="18.4" fill="#008000">149.6</text>
<path d="M531.8 397.6V412.8" stroke="#008000" stroke-width="1.20" fill="none"/>
<path d="M531.8 414.8L529.1 408.0L531.8 409.8L534.6 408.0Z" fill="#008000"/>
<text transform="translate(537.5,391.8) rotate(-90) scale(1,1.08)" font-size="18.4" fill="#008000">1315.3</text>
<path d="M615.8 436.9V452.1" stroke="#008000" stroke-width="1.20" fill="none"/>
<path d="M615.8 454.1L613.1 447.3L615.8 449.1L618.6 447.3Z" fill="#008000"/>
<text transform="translate(621.5,431.1) rotate(-90) scale(1,1.08)" font-size="18.4" fill="#008000">1586.9</text>
<path d="M936.3 473.0V488.2" stroke="#008000" stroke-width="1.20" fill="none"/>
<path d="M936.3 490.2L933.5 483.4L936.3 485.2L939.0 483.4Z" fill="#008000"/>
<text transform="translate(942.0,467.2) rotate(-90) scale(1,1.08)" font-size="18.4" fill="#008000">2622.9</text>
<path d="M1020.5 486.2V501.4" stroke="#008000" stroke-width="1.20" fill="none"/>
<path d="M1020.5 503.4L1017.8 496.6L1020.5 498.4L1023.3 496.6Z" fill="#008000"/>
<text transform="translate(1026.2,480.4) rotate(-90) scale(1,1.08)" font-size="18.4" fill="#008000">2895.3</text>
<path d="M170.7 648.9V664.1" stroke="#0000ff" stroke-width="1.20" fill="none"/>
<path d="M170.7 666.1L168.0 659.3L170.7 661.1L173.5 659.3Z" fill="#0000ff"/>
<text transform="translate(176.4,643.1) rotate(-90) scale(1,1.08)" font-size="18.4" fill="#0000ff">147.9</text>
<path d="M533.0 540.9V556.1" stroke="#0000ff" stroke-width="1.20" fill="none"/>
<path d="M533.0 558.1L530.2 551.3L533.0 553.1L535.7 551.3Z" fill="#0000ff"/>
<text transform="translate(538.7,535.1) rotate(-90) scale(1,1.08)" font-size="18.4" fill="#0000ff">1319.0</text>
<path d="M617.8 582.5V597.7" stroke="#0000ff" stroke-width="1.20" fill="none"/>
<path d="M617.8 599.7L615.1 592.9L617.8 594.7L620.6 592.9Z" fill="#0000ff"/>
<text transform="translate(623.5,576.7) rotate(-90) scale(1,1.08)" font-size="18.4" fill="#0000ff">1593.3</text>
<path d="M938.6 636.9V652.1" stroke="#0000ff" stroke-width="1.20" fill="none"/>
<path d="M938.6 654.1L935.8 647.3L938.6 649.1L941.3 647.3Z" fill="#0000ff"/>
<text transform="translate(944.3,631.1) rotate(-90) scale(1,1.08)" font-size="18.4" fill="#0000ff">2630.3</text>
<path d="M1023.2 656.9V672.1" stroke="#0000ff" stroke-width="1.20" fill="none"/>
<path d="M1023.2 674.1L1020.5 667.3L1023.2 669.1L1026.0 667.3Z" fill="#0000ff"/>
<text transform="translate(1028.9,651.1) rotate(-90) scale(1,1.08)" font-size="18.4" fill="#0000ff">2904.0</text>
<path d="M96.8 1153.5l.4-2.2 .4-2 .3-1.9 .4-1.3 .4-1 .3-.9 .4-1.6 .4-2.2 .4-2.2 .3-1.5 .4-1.1 .4-1.4 .3-1 .4 .6 .4 1.3 .4 1.2 .3 1.3 .4 1.1 .4 .8 .3 .3 .4 0 .4 .1 .4-.1 .3-.5 .4-.3 .4 0 .3-.4 .4-.5 .4-.5 .4-.5 .3-.8 .4-.6 .4-.4 .4-.3 .3-.4 .4-.2 .4-.3 .3-.3 .4-.2 .4-.2 .4 .3 .3 .7 .4 .3 .4 .3 .3 .2 .4 .5 .4 .7 .4 .1 .3-.1 .4 .2 .4 .3 .3 .2 .4 .1 .4 .1 .4-.3 .3-.6 .4-.5 .4-.3 .4-.1 .3-.2 .4-.3 .4-.2 .3-.7 .4-.8 .4-.6 .4-.8 .3-1.1 .4-1.1 .4-1.2 .3-1.5 .4-1.9 .4-1.9 .4-2.3 .3-2.8 .4-2.9 .4-3.4 .3-4.7 .4-5.5 .4-5.9 .4-6.7 .3-8.4 .4-9.9 .4-11 .3-12.6 .4-14.2 .4-14.6 .4-14.4 .3-12.6 .4-8.7 .4-3.7 .4 2.4 .3 8.4 .4 12.7 .4 14.3 .3 14.6 .4 14.1 .4 13 .4 11.8 .3 10.3 .4 8.7 .4 7.4 .3 6.3 .4 5.4 .4 4.4 .4 3.7 .3 3.9 .4 3.3 .4 2.2 .3 2.4 .4 2.3 .4 1.6 .4 1.6 .3 1.7 .4 1.3 .4 1.1 .4 .6 .3 .7 .4 .9 .4 .5 .3 .6 .4 1 .4 .6 .4 .5 .3 .7 .4 .3 .4-.1 .3 .1 .4 .3 .4-.1 .4-.3 .3-.3 .4-.4 .4-.5 .3-.7 .4-.7 .4-.3 .4 .1 .3 .4 .4 .9 .4 .7 .4 .6 .3 .6 .4 .8 .4 1.1 .3 .7 .4-.1 .4 .4 .4 .6 .3 0 .4 .5 .4 .6 .3 0 .4-.3 .4-.2 .4 .4 .3 .3 .4 0 .4 .1 .3 .1 .4-.3 .4-.2 .4 .2 .3 .5 .4 .2 .4-.2 .3 .1 .4 .2 .4-.1 .4-.7 .3 .1 .4 .4 .4-.3 .4 .2 .3 .6 .4 0 .4-.4 .3-.1 .4 .1 .4 .1 .4-.3 .3-.6 .4 .1 .4 .7 .3 0 .4-.4 .4 .4 .4 .3 .3-.3 .4-.2 .4-.2 .3 .3 .4 .2 .4-.1 .4-.4 .3-.1 .4 .4 .4 .6 .4-.2 .3-.5 .4 .4 .4 .5 .3-.3 .4-.5 .4-.1 .4 .2 .3-.2 .4-.1 .4 .3 .3-.2 .4-.6 .4-.1 .4 .3 .3 .1 .4 0 .4 .2 .3 .2 .4 .1 .4-.1 .4-.5 .3-.4 .4 .2 .4 0 .3 0 .4 .2 .4 .2 .4 .4 .3-.2 .4-.1 .4 .5 .4-.2 .3-.6 .4 .2 .4 .3 .3-.1 .4-.3 .4-.3 .4 0 .3 .3 .4 .1 .4-.3 .3-.4 .4 0 .4 .2 .4 .3 .3 .3 .4-.2 .4-.4 .3 0 .4 .4 .4 .1 .4-.3 .3-.1 .4 0 .4-.1 .4-.2 .3-.2 .4-.2 .4-.2 .3 0 .4 .2 .4 .3 .4-.1 .3-.1 .4 0 .4-.2 .3-.1 .4 .6 .4 0 .4-.5 .3-.2 .4 .2 .4 0 .3-.4 .4-.1 .4 .3 .4 .1 .3-.1 .4 0 .4 .1 .4-.1 .3-.4 .4-.1 .4 .1 .3 .2 .4 .2 .4-.3 .4-.3 .3 0 .4-.1 .4 0 .3-.3 .4 .1 .4 .2 .4-.3 .3-.4 .4-.3 .4 .3 .3-.1 .4-.5 .4-.2 .4-.4 .3-.1 .4 .1 .4-.3 .3-.6 .4-.4 .4-.2 .4-.6 .3-.5 .4 .3 .4 .2 .4-.1 .3-.2 .4-.4 .4-.1 .3-.1 .4 0 .4 .5 .4-.3 .3-.7 .4 .1 .4 .5 .3 .2 .4 .1 .4 .5 .4 .7 .3 .4 .4 .2 .4 .2 .3 .3 .4 .1 .4 0 .4 0 .3 .1 .4 .4 .4-.2 .4-.4 .3 .2 .4 0 .4-.1 .3 0 .4 .5 .4 .5 .4 .1 .3 0 .4 .2 .4 0 .3 .2 .4-.1 .4-.4 .4 0 .3 .2 .4 .1 .4-.1 .3-.1 .4 0 .4-.1 .4 0 .3-.2 .4-.2 .4 .2 .3 .3 .4-.1 .4-.2 .4 0 .3 .4 .4 .6 .4 0 .4-.8 .3-.6 .4-.2 .4 .1 .3 .2 .4 .3 .4 .1 .4-.3 .3-.1 .4-.1 .4-.1 .3-.1 .4 0 .4 .2 .4 .2 .3 0 .4-.4 .4-.3 .3 0 .4-.2 .4-.1 .4 0 .3 .1 .4 .3 .4-.4 .4-.3 .3 .3 .4 .1 .4-.1 .3-.1 .4-.2 .4-.4 .4 .2 .3 .1 .4-.8 .4-.3 .3 .1 .4 .1 .4 0 .4-.2 .3-.4 .4-.4 .4-.1 .3 .1 .4 .1 .4-.3 .4-.6 .3-.1 .4 .3 .4-.1 .4-.4 .3-.2 .4 .3 .4 .4 .3 .1 .4-.2 .4 .2 .4 .1 .3-.3 .4-.1 .4 .5 .3 .4 .4-.2 .4 .1 .4 .5 .3 0 .4-.1 .4 .3 .3 .1 .4 0 .4 0 .4 .1 .3 0 .4-.1 .4 .1 .3 .4 .4 .6 .4 .1 .4-.4 .3 0 .4 .2 .4 .2 .4 .3 .3 .1 .4 0 .4 0 .3 .1 .4 0 .4-.3 .4-.2 .3 .5 .4 .1 .4-.3 .3-.1 .4-.2 .4 .2 .4 .2 .3-.2 .4-.3 .4 .2 .3 .2 .4 .3 .4 .4 .4-.2 .3-.7 .4-.1 .4 .2 .4 .1 .3 .2 .4 0 .4 .1 .3-.1 .4 0 .4-.1 .4-.2 .3 0 .4-.2 .4-.1 .3-.1 .4 .1 .4 .5 .4 .1 .3-.7 .4-.6 .4-.2 .3 .1 .4 .3 .4 .1 .4-.3 .3-.1 .4 .3 .4 0 .3-.4 .4 0 .4 .3 .4-.6 .3-.5 .4-.2 .4-.3 .4-.1 .3-.1 .4-.4 .4-.1 .3-.2 .4-.7 .4-.4 .4 .3 .3 .1 .4-.9 .4-1 .3-.3 .4-.1 .4-.2 .4-.1 .3-.4 .4-.8 .4-.4 .3 .2 .4-.3 .4-.5 .4-.5 .3-.4 .4-.3 .4-.1 .4 .1 .3 .4 .4 .8 .4 .2 .3-.1 .4 .4 .4 .8 .4 1 .3 .3 .4-.2 .4 .3 .3 .7 .4 .7 .4 .5 .4 0 .3-.2 .4 .4 .4 .7 .3 .8 .4 .3 .4-.3 .4 .2 .3 .7 .4 .4 .4 .3 .4 .7 .3 .5 .4-.2 .4-.1 .3 .5 .4 .7 .4 .1 .4-.6 .3-.2 .4 .4 .4 .4 .3 .2 .4 0 .4 .1 .4 .1 .3 .1 .4-.2 .4 .1 .3 .5 .4 .1 .4 .2 .4 .5 .3 .1 .4-.3 .4 0 .3 .1 .4-.1 .4 .2 .4 0 .3-.2 .4-.1 .4 .1 .4 .3 .3 0 .4 0 .4 .2 .3 0 .4 .1 .4 .2 .4-.2 .3-.1 .4 0 .4 0 .3 .3 .4 .3 .4 .1 .4 .2 .3 .1 .4-.1 .4 0 .3-.1 .4-.4 .4 .1 .4 .4 .3-.1 .4-.1 .4-.2 .4-.3 .3 .1 .4 .5 .4 .5 .3 .3 .4-.3 .4 0 .4 0 .3-.2 .4-.3 .4-.3 .3 .2 .4 .3 .4 .3 .4 0 .3 .1 .4 .1 .4-.2 .3 .4 .4 .1 .4-.7 .4-.1 .3 .7 .4-.1 .4-.6 .4 .6 .3 .8 .4-.4 .4-.7 .3 .1 .4 .1 .4-.1 .4 .3 .3 .5 .4 .2 .4-.1 .3 0 .4-.3 .4-.4 .4 .2 .3 .3 .4 0 .4-.2 .3 .2 .4 .4 .4-.3 .4-.5 .3 .3 .4 .5 .4 .4 .3 .2 .4-.4 .4-.6 .4 .3 .3 .4 .4 0 .4-.2 .4 0 .3 .2 .4 0 .4-.5 .3-.1 .4 .5 .4 0 .4-.1 .3 .4 .4 .1 .4-.2 .3-.1 .4 .1 .4 .1 .4 0 .3 .3 .4 .4 .4-.2 .3-.3 .4 0 .4-.3 .4-.3 .3 .1 .4 .3 .4 .2 .4-.1 .3 .2 .4 0 .4-.3 .3-.1 .4-.2 .4 .1 .4 .3 .3-.2 .4 .1 .4 .5 .3 .2 .4-.1 .4-.3 .4-.2 .3 .2 .4 .2 .4-.2 .3-.4 .4-.1 .4 .5 .4 .3 .3-.3 .4-.1 .4-.2 .3-.2 .4 .3 .4 .6 .4-.1 .3-.4 .4-.1 .4 .1 .4 .3 .3 .2 .4-.4 .4-.3 .3 .3 .4 .5 .4 0 .4-.2 .3-.2 .4-.4 .4-.2 .3 .5 .4 .3 .4 0 .4 0 .3 .1 .4-.1 .4 .1 .3 .1 .4-.2 .4 .1 .4 .1 .3-.1 .4-.2 .4-.3 .4 .1 .3 .4 .4 .2 .4-.1 .3-.2 .4 0 .4 .2 .4 .3 .3-.3 .4-.4 .4 .1 .3 0 .4 .1 .4 .3 .4 .2 .3-.4 .4-.4 .4 .2 .3 .2 .4-.1 .4 .2 .4 .6 .3 .4 .4-.2 .4-.2 .4-.1 .3 0 .4-.2 .4-.3 .3-.1 .4-.2 .4-.1 .4 .3 .3 .1 .4-.2 .4 .5 .3 .1 .4-.6 .4-.2 .4 .1 .3-.1 .4 .1 .4 .3 .3 .2 .4 0 .4-.2 .4-.1 .3 .1 .4-.6 .4-.2 .3 .5 .4 0 .4-.3 .4 .2 .3 .2 .4-.2 .4 0 .4 .3 .3 .1 .4-.2 .4-.3 .3-.3 .4 0 .4 .4 .4 .2 .3 0 .4-.1 .4 .1 .3 .3 .4 .2 .4-.1 .4-.6 .3-.3 .4 .2 .4 .6 .3-.1 .4-.2 .4 0 .4-.2 .3-.1 .4 .2 .4 .4 .4 .3 .3-.1 .4-.1 .4-.3 .3-.1 .4 .2 .4-.1 .4-.4 .3-.3 .4 .3 .4 .5 .3-.3 .4-.2 .4 .2 .4-.1 .3-.2 .4-.1 .4 .2 .3 .3 .4 .1 .4 .2 .4 0 .3-.2 .4-.1 .4-.5 .3-.6 .4 .3 .4 .8 .4 .3 .3-.1 .4 .1 .4-.1 .4-.6 .3-.2 .4-.4 .4-.5 .3 .4 .4 .3 .4 0 .4 .2 .3 .1 .4-.3 .4-.2 .3 .3 .4 .4 .4 0 .4-.2 .3-.4 .4-.3 .4-.2 .3 0 .4 .1 .4-.1 .4-.1 .3 .3 .4 .2 .4-.2 .4 .3 .3-.1 .4-.4 .4-.3 .3-.2 .4 .2 .4 .4 .4-.2 .3-.3 .4-.5 .4-.2 .3 .4 .4 .3 .4-.2 .4-.1 .3 .3 .4 0 .4-.5 .3-.1 .4 .3 .4 .3 .4 0 .3-.5 .4 0 .4 .5 .4 0 .3-.5 .4-.6 .4 .1 .3 .2 .4-.6 .4 0 .4 .9 .3 .2 .4-.6 .4-.2 .3 .1 .4-.3 .4-.5 .4-.2 .3 .2 .4 .2 .4-.1 .3 .1 .4 .1 .4-.3 .4-.1 .3 0 .4-.2 .4-.3 .3-.3 .4-.1 .4 .6 .4 .2 .3-.1 .4-.2 .4-.2 .4 .1 .3-.2 .4-.4 .4-.1 .3-.1 .4-.2 .4 .2 .4 .4 .3-.2 .4-.2 .4 .1 .3-.1 .4-.2 .4-.3 .4-.2 .3-.3 .4 .1 .4 .3 .3 0 .4-.3 .4 0 .4-.2 .3-.3 .4-.3 .4-.1 .4-.1 .3 .2 .4 0 .4 0 .3-.2 .4-.1 .4 .4 .4 0 .3-.7 .4-.4 .4 .1 .3 .1 .4-.2 .4-.3 .4-.2 .3-.3 .4 .2 .4 .1 .3-.2 .4-.1 .4 .1 .4 .2 .3-.4 .4-.3 .4 0 .3-.1 .4-.3 .4-.2 .4-.2 .3 .3 .4 .2 .4 .1 .4 .4 .3-.2 .4-.5 .4-.3 .3-.2 .4 .2 .4 0 .4-.2 .3-.2 .4 .1 .4 .3 .3-.1 .4-.3 .4-.1 .4-.1 .3 0 .4 .4 .4 0 .3-.2 .4-.1 .4-.2 .4-.2 .3 .4 .4 .3 .4-.2 .4-.3 .3-.1 .4-.1 .4 .1 .3 .1 .4 .1 .4-.2 .4-.3 .3 .2 .4 .2 .4-.2 .3-.1 .4 .2 .4-.1 .4-.7 .3-.2 .4 .2 .4 .2 .3 .2 .4-.4 .4-.1 .4 .5 .3 .1 .4-.5 .4-.4 .4-.2 .3-.1 .4-.3 .4 .2 .3 .3 .4-.1 .4-.4 .4-.3 .3-.1 .4-.1 .4-.4 .3-.3 .4 .2 .4 .2 .4-.1 .3-.5 .4-.4 .4 .4 .3 .2 .4-.3 .4-.3 .4-.1 .3-.4 .4-.3 .4 .1 .3 0 .4-.1 .4-.2 .4-.4 .3-.7 .4-.4 .4 .2 .4 .2 .3 0 .4-.5 .4-.7 .3-.4 .4-.4 .4-.4 .4-.2 .3-.4 .4-.3 .4 .1 .3-.2 .4-.7 .4-.5 .4-.5 .3-.6 .4-.6 .4-.8 .3-.7 .4-.6 .4-.5 .4-.4 .3-.7 .4-1.1 .4-1.2 .4-1 .3-1 .4-1.1 .4-.8 .3-.9 .4-1.3 .4-1.6 .4-1.3 .3-1.1 .4-1.2 .4-1.4 .3-1.3 .4-1.5 .4-1.9 .4-2.3 .3-2 .4-1.9 .4-2.4 .3-2.5 .4-2.1 .4-2.3 .4-2.5 .3-2.6 .4-3 .4-2.8 .3-2.4 .4-2.9 .4-3.3 .4-2.9 .3-2.8 .4-2.7 .4-2.4 .4-2.1 .3-1.9 .4-1.8 .4-1.8 .3-1.4 .4-1.3 .4-.9 .4 0 .3 .7 .4 .8 .4 .6 .3 1.2 .4 2 .4 2.1 .4 2.3 .3 2.5 .4 2.8 .4 3 .3 2.9 .4 2.6 .4 2.4 .4 2.7 .3 3.2 .4 3 .4 2.8 .4 2.7 .3 2.6 .4 2.7 .4 2.6 .3 2.6 .4 2.2 .4 1.9 .4 1.9 .3 1.7 .4 1.6 .4 2 .3 1.9 .4 1.3 .4 1.1 .4 1.3 .3 1.7 .4 1.7 .4 1.2 .3 .8 .4 1.1 .4 1.1 .4 1 .3 .6 .4 .7 .4 1.1 .4 1.3 .3 1.3 .4 .7 .4 .2 .3 .8 .4 1.2 .4 .2 .4-.1 .3 .5 .4 .8 .4 .5 .3 .5 .4 .4 .4 .1 .4 .5 .3 .8 .4 .8 .4 .5 .3 0 .4-.4 .4 0 .4 .6 .3 .5 .4 .5 .4 .2 .3 0 .4 .3 .4 .6 .4 .7 .3 .2 .4-.1 .4 .1 .4 .1 .3 .2 .4 .1 .4 0 .3 0 .4 .3 .4 .3 .4 0 .3 0 .4 .3 .4 .5 .3 0 .4-.2 .4-.3 .4 .1 .3 .2 .4 .1 .4 .3 .3 .3 .4 0 .4-.2 .4-.1 .3 .3 .4 .5 .4 .1 .4-.2 .3 0 .4 .1 .4 .2 .3 .1 .4-.2 .4-.3 .4-.1 .3 .2 .4 .1 .4 .1 .3 .2 .4 .1 .4-.4 .4-.3 .3 .1 .4 .3 .4 .2 .3 .1 .4-.1 .4-.2 .4-.1 .3 0 .4 .1 .4 0 .3 0 .4 .1 .4 .1 .4-.2 .3 .1 .4 .4 .4 0 .4-.4 .3 .1 .4 .5 .4 0 .3-.5 .4-.4 .4-.2 .4-.2 .3-.4 .4 .2 .4 .6 .3-.1 .4-.2 .4 .5 .4 .1 .3-.6 .4-.5 .4 .2 .3 .7 .4 0 .4-.3 .4-.2 .3-.2 .4-.3 .4-.2 .4 .2 .3 .1 .4-.2 .4 0 .3 .2 .4 0 .4 .1 .4-.1 .3-.6 .4-.3 .4-.1 .3 .1 .4 0 .4 0 .4 0 .3-.2 .4-.2 .4 0 .3-.2 .4 0 .4-.1 .4-.1 .3-.2 .4-.3 .4 .3 .4 .1 .3-.3 .4 0 .4 .1 .3-.6 .4-.3 .4 .4 .4-.4 .3-.4 .4 .1 .4-.2 .3-.4 .4-.6 .4-.3 .4-.1 .3-.2 .4-.5 .4-.3 .3-.3 .4-.3 .4 0 .4-.4 .3-.5 .4-.4 .4-.7 .3-.8 .4-.9 .4-.4 .4-.5 .3-.9 .4-.3 .4-.1 .4-1 .3-1.1 .4-.7 .4-.9 .3-1 .4-.9 .4-.7 .4-1 .3-1.6 .4-1.8 .4-1.5 .3-1.1 .4-1.3 .4-1.8 .4-1.8 .3-1.8 .4-1.2 .4-1.2 .3-1.9 .4-1.9 .4-1.9 .4-2 .3-2.1 .4-2 .4-2 .4-2.1 .3-1.8 .4-1.6 .4-1.3 .3-.9 .4-1.1 .4-1.4 .4-.9 .3-.4 .4-.4 .4-.6 .3 0 .4 .8 .4 1 .4 .8 .3 1.2 .4 1.5 .4 1.5 .3 1.9 .4 1.8 .4 1.7 .4 2 .3 2.4 .4 2.2 .4 1.8 .3 1.8 .4 1.9 .4 1.9 .4 1.7 .3 1.7 .4 2 .4 1.8 .4 1.6 .3 1.8 .4 1.4 .4 1.2 .3 1.4 .4 .9 .4 .9 .4 1.4 .3 1.4 .4 1.2 .4 1.3 .3 .9 .4 .8 .4 1 .4 .9 .3 1.1 .4 .9 .4 .3 .3 .2 .4 .3 .4 .8 .4 .8 .3 .5 .4 .5 .4 .7 .4 .8 .3 .6 .4-.1 .4 .2 .3 1 .4 .4 .4-.2 .4 .2 .3 .6 .4 .7 .4 .1 .3-.2 .4 .1 .4 .5 .4 .4 .3 .2 .4 .5 .4 .4 .3-.2 .4-.2 .4 .3 .4 .6 .3 .2 .4-.3 .4 .2 .4 .7 .3 0 .4-.4 .4 .1 .3 0 .4 .6 .4 .5 .4-.5 .3-.2 .4 .3 .4 .4 .3 0 .4 0 .4 .5 .4 .3 .3-.3 .4-.2 .4 0 .3 .3 .4 .3 .4 .3 .4 .1 .3-.3 .4 0 .4 0 .3-.2 .4 0 .4 .2 .4 0 .3 .1 .4 0 .4 .1 .4 .2 .3 .2 .4 0 .4 .2 .3 .3 .4-.1 .4-.3 .4 .1 .3-.1 .4-.4 .4 .1 .3 .8 .4 .6 .4 0 .4-.3 .3-.1 .4-.3 .4 0 .3 .2 .4 .1 .4 .1 .4 .2 .3-.4 .4-.5 .4 .5 .4 .8 .3 0 .4-.4 .4 0 .3-.1 .4-.6 .4 .3 .4 .8 .3-.1 .4-.5 .4 .1 .3 .2 .4-.5 .4 0 .4 .9 .3 .5 .4-.2 .4-.7 .3-.2 .4 .3 .4 .3 .4-.1 .3 0 .4 .5 .4 .1 .3-.5 .4-.4 .4 .1 .4 .3 .3 0 .4 .1 .4 .3 .4 0 .3-.1 .4 0 .4 0 .3-.2 .4 0 .4 .2 .4-.2 .3 .1 .4 .2 .4-.1 .3-.1 .4 .2 .4 .1 .4-.2 .3 0 .4-.3 .4 0 .3 .4 .4 0 .4-.3 .4 .2 .3 .2 .4 0 .4 0 .4-.2 .3-.1 .4 .2 .4 .3 .3 0 .4-.1 .4 .3 .4 .4 .3-.2 .4-.7 .4-.3 .3 .2 .4 .1 .4 0 .4-.1 .3 .2 .4 .3 .4 .2 .3 0 .4-.2 .4 .1 .4-.3 .3-.3 .4 .1 .4-.2 .4 .1 .3 .8 .4 .1 .4-.4 .3-.1 .4-.2 .4 0 .4 .1 .3-.3 .4-.3 .4 .3 .3 .5 .4 .1 .4-.2 .4-.3 .3 .3 .4 .2 .4-.2 .3-.1 .4 .2 .4 0 .4-.2 .3-.2 .4 0 .4 .2 .3 .2 .4 .1 .4-.1 .4-.2 .3-.1 .4 .5 .4 .1 .4-.8 .3-.3 .4 .3 .4 .2 .3-.2 .4-.2 .4 .4 .4 .2 .3-.1 .4 .1 .4 .2 .3 .1 .4 0 .4-.1 .4-.5 .3 .1 .4 .8 .4 .2 .3-.4 .4-.2 .4 0 .4-.4 .3 .2 .4 .5 .4 .1 .4-.2 .3-.2 .4-.3 .4-.1 .3 .2 .4-.1 .4-.2 .4 .2 .3 .2 .4 .1 .4 0 .3 0 .4 .1 .4 .1 .4-.2 .3-.2 .4 .2 .4 .2 .3-.4 .4-.1 .4 .3 .4 .1 .3 0 .4-.1 .4 0 .3 .3 .4 .2 .4-.4 .4-.4 .3 .4 .4 .4 .4 0 .4-.5 .3-.1 .4 .2 .4 0 .3-.1 .4 0 .4-.1 .4-.2 .3 .2 .4 0 .4-.1 .3 .6 .4 .1 .4-.5 .4 0 .3 .2 .4-.2 .4 0 .3 .3 .4 .2 .4 .1 .4 0 .3-.3 .4-.4 .4 0 .4 .2 .3 0 .4 .1 .4 .2 .3-.2 .4-.2 .4 .4 .4 .1 .3-.2 .4 .1 .4 .1 .3 0 .4 0 .4-.4 .4-.3 .3 .1 .4 .3 .4 .2 .3 0 .4-.1 .4-.1 .4-.4 .3-.2 .4 .2 .4 .1 .4 0 .3 .2 .4 .3 .4 .1 .3 0 .4 0 .4 0 .4 0 .3-.1 .4-.4 .4-.5 .3 0 .4 .5 .4 .2 .4-.2 .3 0 .4 .3 .4 .4 .3 .1 .4-.6 .4-.4 .4 .2 .3 .1 .4 0 .4-.1 .3 .3 .4 .4 .4-.2 .4-.3 .3-.1 .4-.1 .4 .1 .4-.3 .3-.1 .4 .4 .4 .2 .3-.1 .4 .2 .4 .5 .4 .1 .3-.6 .4-.4 .4 .1 .3 .1 .4-.3 .4 .2 .4 .3 .3-.4 .4-.1 .4 .4 .3 .5 .4-.2 .4-.4 .4-.1 .3 .3 .4 .1 .4 0 .4 .1 .3 .1 .4 .1 .4 .1 .3 0 .4 .2 .4-.3 .4-.7 .3-.4 .4 .3 .4 .1 .3-.1 .4 .1 .4 0 .4-.2 .3 0 .4 0 .4 .2 .3 .2 .4 .1 .4 .3 .4-.1 .3-.2 .4 .1 .4-.3 .3-.3 .4-.1 .4 0 .4 0 .3 0 .4 .3 .4 .1 .4-.1 .3 .1 .4-.2 .4 0 .3 .5 .4 .4 .4-.2 .4-.5 .3 .4 .4 .1 .4-.6 .3-.1 .4 .2 .4 .1 .4 .2 .3 .2 .4-.2 .4-.4 .3-.3 .4 0 .4 .6 .4 .4 .3-.3 .4 .1 .4 .2 .4-.6 .3-.1 .4 .1 .4 0 .3 0 .4 0 .4 0 .4 0 .3-.1 .4-.3 .4-.2 .3 .4 .4 .5 .4-.1 .4-.2 .3 0 .4 0 .4 .1 .3-.1 .4-.3 .4-.1 .4 .2 .3 .4 .4 .3 .4 0 .4-.3 .3-.1 .4 .2 .4 .1 .3 .1 .4 .3 .4-.1 .4-.3 .3-.3 .4 .2 .4 .1 .3-.3 .4-.2 .4-.1 .4 0 .3 .2 .4 0 .4 0 .3 .4 .4 .1 .4-.4 .4 0 .3 0 .4-.3 .4 .3 .3 .7 .4-.2 .4-.5 .4 .2 .3-.1 .4 0 .4 .2 .4 0 .3 .1 .4-.5 .4-.1 .3 .5 .4-.1 .4-.5 .4 .1 .3 0 .4 .1 .4 .4 .3-.1 .4-.2 .4-.1 .4 .1 .3 .3 .4 0 .4-.3 .3-.4 .4 0 .4 .6 .4 .1 .3-.1 .4 .1 .4-.1 .4-.2 .3-.2 .4-.3 .4 .3 .3 .4 .4 .2 .4-.3 .4-.5 .3-.1 .4-.2 .4 0 .3 .4 .4 .3 .4 0 .4 .1 .3 .2 .4-.1 .4-.1 .3 0 .4-.1 .4-.5 .4-.2 .3 .6 .4-.1 .4-.3 .4 .4 .3 .2 .4-.2 .4 .1 .3 .2 .4-.3 .4-.6 .4-.2 .3 .5 .4 .4 .4 .2 .3 .3 .4-.6 .4-.5 .4 .2 .3 .3 .4 0 .4 .1 .3-.1 .4-.3 .4 .2 .4 0 .3-.4 .4 .2 .4 .1 .3-.3 .4 0 .4 .2 .4 .4 .3 .3 .4-.6 .4-.3 .4 .2 .3 0 .4-.1 .4 0 .3 .1 .4-.1 .4 .1 .4 .1 .3-.3 .4-.1 .4 .1 .3 .4 .4 .4 .4-.3 .4 0 .3 0 .4-.6 .4 0 .3 .4 .4 0 .4-.1 .4 .2 .3 .3 .4-.3 .4-.4 .4-.2 .3 .2 .4 .4 .4 0 .3-.2 .4 0 .4 0 .4 0 .3-.2 .4-.1 .4 0 .3 .2 .4 .3 .4 .1 .4-.2 .3 .1 .4 .2 .4-.4 .3-.5 .4-.3 .4 0 .4 .1 .3 .4 .4 .2 .4 .2 .3-.3 .4-.5 .4 0 .4-.2 .3-.5 .4 .3 .4 .6 .4 .1 .3-.1 .4 .2 .4 .4 .3 .1 .4-.5 .4-.3 .4 .2 .3-.3 .4-.2 .4 .1 .3-.3 .4-.3 .4 .5 .4 .2 .3-.3 .4 .2 .4 .4 .3-.2 .4 0 .4 .3 .4 .1 .3 0 .4-.2 .4-.3 .4 .1 .3 .5 .4-.3 .4-.2 .3 .2 .4-.2 .4 0 .4 .2 .3 .2 .4-.1 .4-.4 .3 .1 .4 .4 .4 .2 .4-.4 .3-.6 .4 .1 .4 .2 .3 .1 .4-.1 .4 0 .4 .1 .3-.3 .4-.1 .4-.1 .4-.2 .3 .1 .4 .2 .4-.2 .3 0 .4 .1 .4-.2 .4-.3 .3-.1 .4-.1 .4 .3 .3 .6 .4-.3 .4-.3 .4 .4 .3 .6 .4-.4 .4-.7 .3 .1 .4 .2 .4 0 .4-.4 .3-.2 .4 .5 .4 .1 .3 .1 .4 .3 .4-.3 .4-.5 .3-.5 .4 0 .4 .5 .4 .3 .3-.3 .4-.2 .4 .2 .3 .2 .4-.4 .4-.7 .4-.1 .3 .1 .4 .4 .4 .2 .3 0 .4-.1 .4 0 .4 .2 .3 0 .4-.3 .4-.1 .3 0 .4 0 .4-.1 .4-.1 .3-.1 .4 .2 .4 .5 .4 .1 .3-.5 .4-.4 .4 .5 .3-.1 .4-.4 .4 .5 .4 .2 .3-.2 .4 0 .4-.2 .3-.3 .4-.1 .4 .4 .4 .1 .3-.3 .4-.2 .4 0 .3-.2 .4 .1 .4 .1 .4 0 .3 .3 .4 .2 .4-.2 .3-.3 .4 0 .4-.2 .4-.5 .3 0 .4 .4 .4 .1 .4 .1 .3 .3 .4-.5 .4-.6 .3 0 .4 0 .4-.1 .4-.1 .3 .1 .4 .5 .4 .1 .3-.4 .4-.2 .4 .1 .4 .1 .3 .3 .4-.1 .4 .1 .3 .3 .4 0 .4-.1 .4 0 .3-.6 .4-.3 .4 .1 .4 .3 .3 .2 .4-.4 .4-.4 .3-.1 .4 0 .4-.1 .4-.3 .3 .1 .4 0 .4 .1 .3 .4 .4 .1 .4-.3 .4 .2 .3-.2 .4-.3 .4 .3 .3 .2 .4-.1 .4-.4 .4-.7 .3-.2 .4 .4 .4 .7 .4 .3 .3-.7 .4-.8 .4 0 .3 .7 .4-.1 .4-.7 .4-.3 .3-.1 .4 0 .4 .2 .3-.1 .4-.4 .4-.2 .4 .3 .3 .1 .4-.9 .4-.5 .3 .1 .4 .5 .4-.1 .4-.4 .3-.1 .4-.3 .4-.2 .3 .3 .4 .1 .4-.4 .4 0 .3 0 .4-.6 .4-.4 .4-.2 .3 0 .4 0 .4-.7 .3-.6 .4 .2 .4 .1 .4-.5 .3-.5 .4 .1 .4 .2 .3-.4 .4-1 .4-.5 .4-.1 .3-.4 .4 0 .4 0 .3 0 .4-.3 .4-.7 .4-.6 .3-.2 .4 0 .4-.3 .4-.5 .3-.4 .4-.5 .4-.7 .3-.2 .4-.1 .4-.7 .4-.5 .3-.3 .4-.5 .4-.5 .3-.2 .4-.1 .4-.4 .4-.4 .3-.5 .4-.3 .4-.1 .3-.5 .4-.5 .4-.6 .4-.7 .3-.1 .4-.2 .4-.6 .3-.1 .4 .3 .4-.1 .4-.7 .3-.7 .4-.1 .4 .2 .4-.3 .3-.3 .4 .1 .4 .5 .3 .3 .4-.1 .4 .2 .4 .1 .3-.2 .4 0 .4 0 .3 0 .4 .8 .4 1 .4 .1 .3-.3 .4 .2 .4 .8 .3 .6 .4 .2 .4 .1 .4 .3 .3 .4 .4 .4 .4 .3 .4 .3 .3 .7 .4 1 .4 0 .3-.4 .4 .5 .4 .8 .4 .4 .3 .3 .4 .2 .4 .1 .3 .6 .4 .6 .4 .5 .4 .6 .3 .5 .4 .2 .4 .1 .3 .3 .4 .2 .4 .2 .4 .3 .3 .2 .4 .2 .4 .1 .4 .4 .3 .4 .4 .3 .4 .6 .3 .7 .4 .1 .4 .2 .4 .6 .3 .2 .4-.3 .4-.3 .3 .1 .4 .2 .4 .3 .4 .3 .3 .5 .4 .5 .4 .1 .3 .2 .4 .2 .4-.1 .4-.2 .3 0 .4 .2 .4 .5 .3 .3 .4-.2 .4-.1 .4 .5 .3 .6 .4 .5 .4 .1 .4-.2 .3-.2 .4 .1 .4 .3 .3 0 .4-.3 .4-.1 .4 .2 .3 .1 .4 0 .4 .4 .3 .8 .4 .2 .4-.3 .4-.1 .3 .2 .4 .5 .4 0 .3-.1 .4 .2 .4-.1 .4-.2 .3 .1 .4 .3 .4 .1 .4-.1 .3 0 .4 0 .4 .1 .3 .3 .4 .2 .4 .2 .4-.2 .3-.1 .4 .3 .4 .1 .3-.1 .4-.1 .4 .1 .4 .1 .3-.3 .4-.4 .4 .1 .3 .6 .4 .5 .4 .1 .4-.5 .3-.3 .4 .2 .4 0 .3 .1 .4 .4 .4 .4 .4 .1 .3-.1 .4 0 .4 .1 .4-.2 .3-.2 .4-.2 .4-.1 .3 .1 .4 .4 .4 .3 .4-.1 .3-.8 .4-.6 .4 .5 .3 .4 .4 0 .4-.2 .4-.1 .3 .3 .4 .4 .4 .1 .3-.5 .4-.4 .4 .3 .4 .3 .3 0 .4-.2 .4-.2 .4-.1 .3-.1 .4 .2 .4 0 .3-.3 .4 .4 .4-.1 .4-.6 .3-.1 .4 .4 .4 .4 .3-.3 .4-.2 .4 .1 .4 .2 .3 .6 .4-.3 .4-1 .3-.4 .4 .2 .4-.1 .4 0 .3 .3 .4 .2 .4 0 .4 .2 .3-.1 .4-.4 .4 .2 .3 0 .4-.2 .4 .2 .4 .1 .3-.4 .4-.4 .4-.1 .3 .3 .4-.2 .4-.2 .4 .3 .3 0 .4 0 .4 .2 .3-.1 .4-.3 .4 .1 .4-.1 .3-.3 .4 0 .4 .2 .3 .2 .4 0 .4 0 .4-.4 .3-.4 .4 .3 .4 .5 .4-.5 .3-.4 .4 .1 .4 0 .3 .1 .4 .2 .4-.2 .4-.3 .3-.3 .4-.3 .4-.2 .3-.2 .4 .3 .4-.1 .4-.2 .3-.1 .4 .4 .4 .6 .3-.4 .4-.4 .4 .2 .4 .4 .3-.2 .4-.5 .4-.1 .4 .3 .3 .2 .4 .2 .4 .1 .3-.4 .4-.5 .4 .1 .4 .3 .3 0 .4-.1 .4 .2 .3 .2 .4-.1 .4-.1 .4 0 .3 .2 .4 .4 .4 .1 .3-.3 .4-.1 .4 .3 .4 0 .3-.2 .4 .1 .4 .3 .3 .1 .4-.1 .4-.3 .4-.1 .3-.2 .4-.2 .4 .2 .4 .5 .3 0 .4-.2 .4 .3 .3 .3 .4-.2 .4 .2 .4 .3 .3-.3 .4-.1 .4 .3 .3 .4 .4 .3 .4-.1 .4-.2 .3 .1 .4 .1 .4-.1 .3 .1 .4 0 .4 .5 .4 .3 .3 .2 .4 0 .4-.3 .4-.2 .3 0 .4 .3 .4-.1 .3-.1 .4 .4 .4 .5 .4 .1 .3-.5 .4-.1 .4 .3 .3 .2 .4 .2 .4 0 .4-.1 .3 0 .4 .2 .4 .2 .3 .3 .4-.1 .4-.3 .4-.3 .3 .1 .4 .4 .4-.2 .4-.3 .3 .3 .4 0 .4-.1 .3 .6 .4 .4 .4-.2 .4 .1 .3 .1 .4-.1 .4 0 .3 .1 .4 .1 .4-.2 .4 .1 .3 .4 .4 .2 .4 0 .3-.1 .4-.3 .4-.4 .4 .2 .3 .4 .4 .2 .4 0 .3-.1 .4 0 .4 .3 .4 0 .3 .1 .4 0 .4-.1 .4 0 .3-.1 .4-.1 .4 .1 .3 .3 .4 .5 .4-.1 .4-.4 .3-.3 .4-.1 .4-.1 .3 0 .4 .1 .4 .1 .4 .1 .3 0 .4 .1 .4 0 .3-.3 .4-.1 .4 .6 .4 .2 .3-.2 .4-.2 .4-.2 .4 .1 .3 .2 .4-.1 .4 .3 .3 .1 .4-.3 .4 0 .4 .1 .3-.1 .4-.1 .4-.1 .3 .3 .4 .4 .4-.2 .4-.7 .3-.2 .4 .1 .4 .2 .3 0 .4 0 .4 .4 .4 .4 .3-.3 .4-.2 .4 .1 .3 .2 .4 .4 .4 0 .4-.6 .3-.3 .4 .1 .4 .2 .4 .2 .3 .2 .4 .1 .4-.3 .3-.3 .4 .3 .4 .3 .4 0 .3 .1 .4 0 .4-.2 .3 .1 .4-.1 .4-.7 .4-.2 .3 .2 .4 .1 .4 .3 .3 0 .4-.3 .4 0 .4 .5 .3 .4 .4-.2 .4-.3 .4 .2 .3 .3 .4-.2 .4-.5 .3-.2 .4 0 .4-.1 .4 0 .3 .2 .4 .3 .4 .2 .3 0 .4 .2 .4-.1 .4 .1 .3 .3 .4-.1 .4-.4 .3-.5 .4-.2 .4 .2 .4 .2 .3 0 .4-.4 .4 .1 .4 .3 .3 0 .4-.3 .4 0 .3 0 .4-.3 .4 0 .4 .5 .3 .2 .4 .1 .4 0 .3-.5 .4-.5 .4 0 .4 .4 .3 .3 .4 0 .4-.1 .3-.1 .4-.1 .4 0 .4 .1 .3-.2 .4-.4 .4 0 .3 .5 .4 .2 .4-.3 .4 0 .3 .3 .4-.3 .4-.5 .4 .3 .3 .3 .4-.4 .4-.2 .3 .5 .4 .2 .4-.1 .4-.3 .3-.2 .4 .4 .4 .4 .3-.3 .4-.4 .4-.1 .4 .1 .3 .1 .4 0 .4 .4 .3 .2 .4-.1 .4-.4 .4-.4 .3-.1 .4 .2 .4 .5 .4 .1 .3-.2 .4 .2 .4 .2 .3-.1 .4-.2 .4 0 .4 .1 .3-.1 .4-.5 .4-.3 .3 .3 .4 .2 .4-.3 .4-.3 .3-.1 .4-.1 .4-.1 .3 .4 .4 .4 .4 .1 .4-.1 .3 0 .4 0 .4-.4 .3-.2 .4 .5 .4 .2 .4 .1 .3-.2 .4-.3 .4 0 .4 .2 .3 .2 .4-.1 .4 0 .3 .2 .4-.5 .4-.2 .4 .1 .3 .3 .4 0 .4-.1 .3 0 .4-.1 .4-.1 .4 .2 .3 .2 .4-.1 .4-.2 .3 0 .4 .2 .4-.2 .4 0 .3-.1 .4-.2 .4 .2 .4 .4 .3 .1 .4 .2 .4 .2 .3-.1 .4-.4 .4-.4 .4 .4 .3 .6 .4 0 .4-.3 .3-.1 .4-.1 .4 0 .4 .1 .3 0 .4-.2 .4-.1 .3 .1 .4 .1 .4 .2 .4 0 .3-.2 .4 .1 .4 .2 .4-.2 .3 .2 .4 .4 .4 .1 .3-.2 .4-.4 .4 .1 .4 .3 .3 .1 .4 .1 .4 .2 .3-.4 .4-.4 .4 .6 .4 .3 .3-.2 .4-.3 .4-.2 .3-.2 .4 .2 .4 .5 .4-.1 .3-.4 .4-.2 .4 .1 .3-.2 .4 0 .4 .3 .4 .3 .3 .1 .4 0 .4-.2 .4-.3 .3 .1 .4 .4 .4 0 .3-.2 .4-.2 .4 .1 .4 .1 .3 .2 .4 0 .4-.2 .3 .1 .4-.1 .4 0 .4 0 .3 .1 .4 .2 .4 0 .3 .1 .4 0 .4-.3 .4-.1 .3 .2 .4 0 .4-.1 .4 .2 .3 .1 .4 .4 .4 .2 .3-.4 .4-.1 .4 .4 .4 .2 .3-.4 .4 0 .4 .1 .3 0 .4 .1 .4 .1 .4-.3 .3-.3 .4-.1 .4 0 .3 .4 .4 0 .4-.3 .4 .1 .3 .1 .4 0 .4 0 .3-.1 .4-.5 .4-.3 .4 .3 .3 .4 .4 .1 .4-.3 .4-.2 .3 .6 .4 .1 .4-.4 .3 0 .4 .1 .4 0 .4 .2 .3 .1 .4 .2 .4 .3 .3-.1 .4-.3 .4-.3 .4 .1 .3 .3 .4 .2 .4-.4 .3-.5 .4 .1 .4 .2 .4 .2 .3 0 .4-.1 .4 .2 .4 .2 .3-.1 .4-.2 .4-.3 .3 .1 .4 .4 .4 0 .4 0 .3-.2 .4-.1 .4 .2 .3 0 .4-.2 .4 .2 .4 0 .3-.5 .4-.1 .4 .2 .3 0 .4 0 .4 0 .4 0 .3 .2 .4 .1 .4-.2 .4 .1 .3 .4 .4 .2 .4 .4 .3 0 .4-.4 .4-.6 .4-.3 .3 0 .4-.1 .4 .1 .3 .4 .4 .4 .4 0 .4-.2 .3 .1 .4 .1 .4-.1 .3 0 .4 .1 .4-.2 .4-.3 .3-.3 .4 .4 .4 .4 .3-.2 .4 0 .4 .6 .4 .1 .3-.6 .4-.2 .4 .2 .4-.2 .3-.6 .4 0 .4 .3 .3 0 .4 .1 .4 .2 .4 0 .3 0 .4 .1 .4 .1 .3 0 .4 0 .4-.1 .4-.1 .3 0 .4 .2 .4 .1 .3-.4 .4-.1" fill="none" stroke="#ff0000" stroke-width="1.3" stroke-linejoin="round"/>
<path d="M96.8 1320l.4 .2 .4 .6 .3-.2 .4-.7 .4-.4 .3-.7 .4-1.3 .4-2.7 .4-2.9 .3-2.1 .4-.5 .4 .9 .3 2.1 .4 2.4 .4 1.6 .4 .9 .3 .6 .4 .4 .4 .1 .3 .3 .4-.1 .4-.5 .4-.2 .3 0 .4-.5 .4-.9 .3-.7 .4-.8 .4-.5 .4-.2 .3-.1 .4 0 .4 .3 .4 .3 .3 .7 .4 .6 .4 .4 .3 .2 .4 .3 .4 .2 .4-.2 .3 .3 .4 .1 .4-.3 .3-.2 .4 .1 .4 0 .4 .1 .3 0 .4-.5 .4-.3 .3 .1 .4 .1 .4 .1 .4-.2 .3-.6 .4-.4 .4-.3 .4-.4 .3-.4 .4-.3 .4-.5 .3-.3 .4-.1 .4-.4 .4-.4 .3-.8 .4-.8 .4-.5 .3-.8 .4-1.1 .4-1.1 .4-1.2 .3-1.4 .4-1.6 .4-1.8 .3-2 .4-2.8 .4-2.8 .4-3 .3-3.9 .4-4.7 .4-4.7 .3-5.5 .4-6.5 .4-6.8 .4-6.7 .3-6.1 .4-5.1 .4-3.3 .4-.5 .3 2.1 .4 4.1 .4 6.1 .3 6.9 .4 6.5 .4 6.2 .4 5.9 .3 5.2 .4 4.5 .4 4.2 .3 3.4 .4 3.1 .4 3.3 .4 2.4 .3 1.7 .4 1.9 .4 1.7 .3 1 .4 1.1 .4 1 .4 .3 .3 .3 .4 .8 .4 1 .4 .7 .3 .6 .4 .4 .4 .3 .3 .3 .4 .3 .4 0 .4 .1 .3 .5 .4 .9 .4 .3 .3-.2 .4-.1 .4 0 .4-.1 .3 0 .4-.2 .4-.2 .3 .1 .4-.1 .4-.4 .4-.1 .3 .2 .4 .2 .4 .3 .4 .5 .3 .5 .4 .4 .4 .5 .3 .3 .4 0 .4 .2 .4-.1 .3-.2 .4 .4 .4 0 .3-.3 .4 .3 .4 .1 .4 0 .3 .4 .4 .5 .4 0 .3-.4 .4 .1 .4 .3 .4-.1 .3-.3 .4-.1 .4 .1 .3 .3 .4 0 .4-.3 .4-.6 .3-.2 .4 .5 .4 .3 .4 0 .3 0 .4 0 .4 0 .3 .2 .4 .2 .4-.2 .4-.2 .3-.1 .4-.1 .4 .1 .3 .1 .4 0 .4 .2 .4-.3 .3-.2 .4 .4 .4 .1 .3-.3 .4-.1 .4 .2 .4 .1 .3-.1 .4 .3 .4 .3 .4-.1 .3 0 .4 .1 .4-.1 .3-.1 .4 0 .4 .3 .4 .2 .3-.3 .4-.6 .4-.3 .3 0 .4 0 .4 .1 .4 .4 .3 .4 .4-.1 .4-.1 .3 .2 .4-.1 .4-.4 .4 .2 .3 .3 .4-.2 .4 0 .3 .2 .4 0 .4 .2 .4 .3 .3-.2 .4-.6 .4-.1 .4 .2 .3 .2 .4 0 .4-.3 .3-.1 .4 .4 .4-.1 .4-.4 .3 .1 .4 .3 .4 .1 .3-.3 .4-.4 .4 0 .4 .5 .3 0 .4-.6 .4-.3 .3 .1 .4 .5 .4 .6 .4 0 .3-.5 .4-.1 .4 .1 .4 .1 .3 0 .4-.2 .4 .1 .3-.1 .4-.1 .4-.1 .4-.3 .3 .2 .4 .4 .4 .1 .3-.2 .4-.1 .4 .1 .4-.3 .3-.2 .4 .2 .4 .3 .3 .1 .4-.1 .4-.3 .4-.1 .3 .4 .4 .1 .4-.3 .4-.2 .3-.3 .4 .1 .4 .2 .3-.1 .4-.3 .4-.1 .4 0 .3 .3 .4 .5 .4 .1 .3-.4 .4-.5 .4-.1 .4-.2 .3-.1 .4-.2 .4-.1 .3 .2 .4 .3 .4-.4 .4-.5 .3 0 .4-.4 .4-.2 .3 .2 .4 .2 .4-.1 .4-.3 .3 .1 .4 .1 .4-.2 .4-.1 .3-.1 .4-.2 .4 .1 .3 0 .4-.4 .4-.2 .4 .5 .3 .6 .4 .1 .4-.1 .3 .1 .4 .4 .4 .4 .4 .2 .3-.3 .4-.2 .4 .4 .3 .4 .4-.5 .4-.4 .4 .4 .3 .7 .4-.2 .4-.5 .4 .1 .3 .5 .4 .4 .4-.2 .3-.2 .4-.2 .4 0 .4 .1 .3 .1 .4 .3 .4 .1 .3-.3 .4-.1 .4 0 .4-.2 .3 .2 .4 .3 .4 .1 .3 .1 .4 .2 .4-.2 .4-.6 .3 .1 .4 .3 .4-.3 .3-.1 .4 .2 .4-.2 .4-.3 .3 .2 .4 .1 .4 .1 .4 .5 .3 .3 .4-.1 .4-.4 .3-.2 .4 .3 .4 .2 .4-.3 .3-.2 .4-.1 .4 .1 .3 .1 .4-.1 .4 .1 .4 .2 .3-.2 .4-.8 .4-.5 .3 .6 .4 .7 .4-.2 .4-.2 .3 .4 .4 0 .4-.1 .4 0 .3-.2 .4-.3 .4 .1 .3-.2 .4-.2 .4 .5 .4 .2 .3-.7 .4-.5 .4 .2 .3 .3 .4 .3 .4-.3 .4-.6 .3-.3 .4 .3 .4 .4 .3 .2 .4 0 .4-.3 .4-.3 .3 0 .4 0 .4-.4 .4-.1 .3 .1 .4 .1 .4 .3 .3 .3 .4-.1 .4-.1 .4 0 .3 0 .4-.1 .4-.1 .3 .2 .4 .1 .4 0 .4 .1 .3-.1 .4-.1 .4 .3 .3 .4 .4 .2 .4-.1 .4 .1 .3 .3 .4 0 .4 0 .3 0 .4-.2 .4-.3 .4-.2 .3 .2 .4 .4 .4 .1 .4-.4 .3-.5 .4 .1 .4 .4 .3-.2 .4-.1 .4 .4 .4 0 .3-.3 .4 .1 .4 .2 .3-.3 .4-.2 .4 .4 .4 .3 .3-.2 .4-.4 .4 0 .3 .1 .4 0 .4-.1 .4 .1 .3 0 .4 .1 .4 .1 .4-.1 .3 .2 .4 .1 .4-.1 .3 .3 .4 0 .4-.3 .4-.2 .3-.1 .4-.5 .4-.2 .3 0 .4-.1 .4 .2 .4 .6 .3 .4 .4-.2 .4-.7 .3-.1 .4 .1 .4-.3 .4-.2 .3 .4 .4 .2 .4-.2 .3-.4 .4-.3 .4-.1 .4 .1 .3-.1 .4-.2 .4-.3 .4-.5 .3-.1 .4 .3 .4 .1 .3-.1 .4-.3 .4-.2 .4-.2 .3-.1 .4 0 .4-.2 .3-.8 .4-.7 .4 0 .4 .1 .3-.1 .4-.3 .4-.3 .3 .2 .4 .4 .4-.1 .4-.3 .3 .1 .4 0 .4 .1 .4-.1 .3 0 .4-.1 .4 0 .3 .6 .4 .3 .4-.4 .4 0 .3 .2 .4 .2 .4 .1 .3 .2 .4 .1 .4 .3 .4 .3 .3 .1 .4 .1 .4 .3 .3 0 .4-.1 .4 .3 .4 .3 .3 .3 .4 .2 .4 0 .4 .2 .3 0 .4 0 .4 .5 .3 .3 .4 .1 .4 .2 .4-.1 .3-.3 .4 .2 .4 .1 .3 0 .4 0 .4 .1 .4 .7 .3 .6 .4-.3 .4-.5 .3 .2 .4 .1 .4-.1 .4 .2 .3 .1 .4-.2 .4 .2 .3 0 .4 .2 .4 .2 .4 0 .3 0 .4-.1 .4-.3 .4 .2 .3 .4 .4 .2 .4-.4 .3-.3 .4 .1 .4 0 .4 .1 .3 .4 .4 0 .4 0 .3 .1 .4 0 .4-.1 .4-.1 .3 0 .4 0 .4 0 .3 .2 .4 .1 .4-.2 .4-.1 .3-.1 .4 .1 .4 .2 .4 0 .3 0 .4 0 .4 0 .3 .2 .4 .3 .4 0 .4-.3 .3-.3 .4 .2 .4 .4 .3-.2 .4-.4 .4 0 .4 .1 .3 .1 .4 0 .4 .1 .3 .5 .4 .2 .4-.5 .4-.2 .3 0 .4-.1 .4 .1 .4 .1 .3-.1 .4 .1 .4 .3 .3-.1 .4-.1 .4 0 .4-.2 .3 0 .4-.2 .4 .1 .3 .6 .4 .1 .4-.4 .4-.1 .3-.2 .4-.1 .4 .2 .3 .1 .4 .2 .4 .1 .4-.2 .3-.2 .4-.1 .4 .1 .3 0 .4 .2 .4 .5 .4-.1 .3-.3 .4-.1 .4 .2 .4 0 .3 .2 .4 .2 .4-.3 .3-.3 .4 0 .4-.1 .4 0 .3 .2 .4 .1 .4 0 .3-.1 .4 .1 .4 .3 .4-.2 .3-.3 .4-.2 .4 .2 .3 .2 .4 .1 .4 .3 .4 0 .3-.3 .4-.4 .4-.1 .4 .3 .3 .1 .4-.2 .4 .1 .3-.1 .4-.1 .4 .2 .4 .3 .3 .2 .4-.1 .4 0 .3-.2 .4-.2 .4-.3 .4 .1 .3 .6 .4 0 .4-.3 .3-.1 .4 0 .4 .2 .4 .1 .3 0 .4 0 .4 .1 .3-.2 .4-.1 .4 .2 .4 0 .3-.1 .4-.1 .4-.2 .4 0 .3 .2 .4 .1 .4-.3 .3 .1 .4 .2 .4 0 .4 .1 .3 .2 .4 0 .4-.3 .3-.1 .4 0 .4 0 .4 0 .3 .2 .4 .3 .4-.1 .3-.2 .4 .3 .4 .1 .4-.4 .3-.3 .4 .1 .4 .1 .4 0 .3-.1 .4-.2 .4 .1 .3 .2 .4-.2 .4-.2 .4 .1 .3-.1 .4-.3 .4-.2 .3 .3 .4 .3 .4 .2 .4 .2 .3-.2 .4-.3 .4 .1 .3 .2 .4-.3 .4-.2 .4 .5 .3 .3 .4-.1 .4 .2 .4 .2 .3-.5 .4-.4 .4 .4 .3 .2 .4-.4 .4 0 .4 .4 .3 0 .4-.4 .4-.2 .3 .1 .4 .3 .4 0 .4-.3 .3 .2 .4 .2 .4 .1 .3 .2 .4-.2 .4-.5 .4-.2 .3 .1 .4 .2 .4 .4 .3-.1 .4-.7 .4-.3 .4 .5 .3 .5 .4-.1 .4-.5 .4 0 .3 .4 .4-.2 .4-.4 .3 0 .4 .4 .4 .1 .4 0 .3 .3 .4 .2 .4-.4 .3-.5 .4-.2 .4 .4 .4 .5 .3 .3 .4-.2 .4-.5 .3-.2 .4 .2 .4 .2 .4 .4 .3 0 .4-.3 .4 0 .4 .3 .3-.1 .4-.3 .4 0 .3 .1 .4 0 .4-.3 .4-.5 .3 .1 .4 0 .4-.1 .3-.1 .4 .1 .4 .3 .4-.2 .3 .1 .4 .2 .4-.3 .3-.1 .4 0 .4 .1 .4 .4 .3 .2 .4-.4 .4-.5 .3 0 .4 .2 .4 .1 .4-.2 .3-.2 .4 .3 .4 .1 .4-.3 .3-.2 .4 0 .4-.2 .3 .3 .4 .5 .4 0 .4-.5 .3-.2 .4 0 .4-.2 .3-.2 .4 0 .4 .1 .4 .2 .3 .1 .4 0 .4 0 .3-.2 .4-.3 .4 0 .4 .3 .3 .3 .4 .1 .4-.2 .4-.2 .3-.3 .4-.1 .4-.1 .3 .1 .4 .3 .4-.1 .4-.3 .3 0 .4 .2 .4 0 .3-.5 .4-.1 .4 .2 .4 .2 .3 .1 .4-.2 .4-.3 .3-.2 .4 0 .4-.1 .4 0 .3 .1 .4 0 .4 .1 .4 .4 .3-.1 .4-.3 .4-.4 .3-.3 .4-.2 .4 .2 .4 .1 .3 0 .4 .1 .4-.1 .3-.1 .4-.2 .4 0 .4-.4 .3-.6 .4-.3 .4 0 .3 .3 .4 .3 .4 .1 .4 0 .3 0 .4-.2 .4-.1 .3 .3 .4 0 .4-.2 .4-.4 .3 0 .4 .1 .4-.2 .4-.5 .3-.3 .4 .1 .4 .3 .3 .2 .4 .1 .4 .1 .4-.1 .3-.2 .4-.2 .4-.1 .3 .1 .4 .2 .4 .3 .4-.1 .3-.2 .4-.2 .4 0 .3 .2 .4-.1 .4-.2 .4 .3 .3 0 .4-.4 .4 0 .4 0 .3-.3 .4 .4 .4 .2 .3-.3 .4-.1 .4-.1 .4-.1 .3 .2 .4 .1 .4-.4 .3 0 .4 0 .4-.3 .4 0 .3 .3 .4-.2 .4-.4 .3-.2 .4-.1 .4 .1 .4 .1 .3 .3 .4 .2 .4-.4 .3-.5 .4 0 .4 .2 .4 .2 .3-.3 .4-.3 .4-.1 .4 0 .3-.1 .4-.3 .4-.5 .3 .2 .4 .5 .4 .3 .4-.4 .3-.2 .4 0 .4 .2 .3 .4 .4 0 .4-.4 .4-.2 .3 .1 .4-.1 .4-.3 .3 .1 .4-.2 .4-.3 .4 .3 .3 .1 .4-.1 .4 0 .4-.1 .3-.2 .4-.5 .4-.6 .3 .1 .4 .4 .4-.1 .4-.3 .3 0 .4 .4 .4-.1 .3-.3 .4 0 .4-.1 .4-.2 .3 0 .4-.1 .4 .2 .3 0 .4-.3 .4-.2 .4 .4 .3 .1 .4-.1 .4 .1 .4-.1 .3-.3 .4-.7 .4-.1 .3 .4 .4 .2 .4-.4 .4-.5 .3 .3 .4 .2 .4-.4 .3-.4 .4-.1 .4 0 .4 .1 .3-.5 .4-.1 .4 .4 .3 .2 .4-.2 .4-.5 .4-.4 .3-.1 .4-.1 .4-.3 .3-.2 .4-.3 .4-.4 .4-.1 .3 0 .4-.2 .4-.6 .4-.6 .3-.2 .4 .1 .4-.1 .3 .1 .4-.2 .4-.7 .4-.4 .3-.2 .4-.6 .4-.5 .3 .1 .4 0 .4-.7 .4-.9 .3-.4 .4-.4 .4-.5 .3-.7 .4-.7 .4-.7 .4-.9 .3-.7 .4-.5 .4-.7 .4-.7 .3-.9 .4-1.3 .4-1 .3-.9 .4-1.2 .4-.9 .4-.6 .3-.9 .4-1.6 .4-1.6 .3-1.4 .4-1.6 .4-1.6 .4-1.5 .3-1.4 .4-1.7 .4-2.2 .3-2.1 .4-2 .4-1.8 .4-1.9 .3-2.2 .4-2.1 .4-2.1 .3-2.4 .4-2.1 .4-2 .4-2.2 .3-2.5 .4-1.8 .4-1.2 .4-1.7 .3-1.8 .4-1.3 .4-.7 .3-.3 .4-.3 .4-.2 .4 .3 .3 .7 .4 .4 .4 .4 .3 1.5 .4 1.7 .4 1.6 .4 1.9 .3 2 .4 2.1 .4 2.3 .3 2.1 .4 1.9 .4 2.4 .4 2.3 .3 2.1 .4 2.4 .4 2.4 .4 1.7 .3 1.8 .4 2.2 .4 1.9 .3 1.5 .4 1.7 .4 1.8 .4 1.6 .3 1.3 .4 1.3 .4 1.7 .3 1.4 .4 1 .4 1.3 .4 1.5 .3 1.1 .4 1.2 .4 1.1 .3 .6 .4 .5 .4 .8 .4 .8 .3 .9 .4 1 .4 .8 .4 .7 .3 .3 .4 .4 .4 .7 .3 .9 .4 .8 .4 .3 .4 .5 .3 .7 .4 .3 .4 .1 .3 .3 .4 .1 .4 .3 .4 .9 .3 .2 .4-.3 .4 .5 .3 .7 .4 0 .4 .2 .4 .7 .3 .1 .4-.1 .4 .5 .3 .3 .4 .2 .4 .3 .4-.1 .3-.1 .4 .5 .4 .3 .4-.2 .3 .1 .4 .4 .4 .3 .3 0 .4 0 .4 .6 .4 .5 .3 0 .4-.4 .4-.1 .3 .3 .4 0 .4-.2 .4 0 .3 .4 .4 .2 .4-.2 .3-.2 .4 .3 .4 .4 .4 0 .3 .1 .4 .1 .4-.1 .4 .1 .3 .3 .4-.2 .4-.4 .3 0 .4 .4 .4 .1 .4 0 .3 .1 .4 .1 .4-.1 .3-.1 .4-.3 .4 0 .4 .2 .3 .2 .4 .1 .4 .1 .3 .1 .4-.1 .4-.3 .4 0 .3-.2 .4 0 .4 .3 .3-.2 .4 0 .4 .3 .4-.1 .3 .1 .4 .1 .4-.2 .4-.1 .3 0 .4-.1 .4-.1 .3 .1 .4 .3 .4 0 .4-.1 .3-.1 .4-.2 .4-.3 .3-.1 .4 .3 .4 .1 .4-.2 .3-.1 .4 .1 .4 .2 .3-.1 .4-.1 .4-.2 .4-.2 .3-.1 .4-.1 .4 0 .4 .2 .3 .1 .4-.1 .4-.1 .3-.1 .4 .2 .4 .1 .4-.5 .3-.1 .4 .3 .4-.4 .3-.5 .4-.1 .4 .1 .4 .2 .3-.2 .4-.5 .4-.2 .3 0 .4 .1 .4-.2 .4-.2 .3 .2 .4-.1 .4-.5 .4 0 .3 .2 .4 0 .4-.1 .3-.5 .4-.2 .4-.1 .4 0 .3 .1 .4-.5 .4-.6 .3 0 .4-.4 .4-.6 .4-.2 .3-.1 .4-.4 .4-.4 .3-.4 .4-.4 .4-.2 .4-.2 .3-.4 .4-.5 .4-.5 .3-.7 .4-.8 .4-.7 .4-.3 .3-.5 .4-.6 .4-.5 .4-.6 .3-.9 .4-1.2 .4-1.1 .3-1.1 .4-1.2 .4-.9 .4-.9 .3-1.4 .4-1.1 .4-.8 .3-1.2 .4-1.3 .4-1.6 .4-1.7 .3-1.5 .4-1.6 .4-1.5 .3-1.5 .4-1.7 .4-1.5 .4-1.4 .3-1.5 .4-1.2 .4-.8 .4-1.2 .3-1.5 .4-1.2 .4-.5 .3-.5 .4-.8 .4-.7 .4-.2 .3 .3 .4-.1 .4 .4 .3 1.2 .4 .6 .4 .5 .4 .8 .3 1.2 .4 1.2 .4 1.5 .3 1.5 .4 1.2 .4 1.7 .4 1.9 .3 1.4 .4 1.7 .4 1.7 .3 1.7 .4 1.7 .4 1.5 .4 1.6 .3 1.3 .4 .9 .4 1.1 .4 1.5 .3 1.5 .4 .9 .4 .8 .3 1.2 .4 .9 .4 .9 .4 1.1 .3 1.1 .4 .8 .4 .9 .3 .7 .4 .5 .4 .8 .4 .5 .3 .2 .4 .7 .4 1 .3 .4 .4 .6 .4 .7 .4 0 .3 .4 .4 .8 .4 .7 .4 .5 .3-.2 .4 0 .4 .4 .3 .2 .4 .6 .4 .6 .4 .4 .3 .6 .4 .2 .4-.3 .3 0 .4 .4 .4 .4 .4 .2 .3-.1 .4 .2 .4-.2 .3-.3 .4 .6 .4 .3 .4-.1 .3 .4 .4 .3 .4 0 .4 .3 .3 .4 .4 .1 .4-.2 .3-.2 .4 .3 .4 .3 .4 0 .3 .3 .4 .5 .4 .1 .3-.6 .4 0 .4 .4 .4 0 .3-.1 .4 .5 .4 .5 .3-.3 .4-.2 .4 0 .4 0 .3 .1 .4 0 .4-.3 .3 .4 .4 .4 .4 .2 .4 .2 .3-.1 .4 .1 .4-.1 .4-.3 .3 .2 .4 .3 .4 0 .3-.4 .4-.3 .4 .4 .4 .3 .3 .1 .4 .2 .4-.1 .3-.3 .4 0 .4 .3 .4 .3 .3-.3 .4-.6 .4-.2 .3 .5 .4 .5 .4 .2 .4-.3 .3-.2 .4 .5 .4 .3 .4 .1 .3-.1 .4-.3 .4-.3 .3 0 .4 .3 .4 .2 .4-.1 .3-.3 .4 .3 .4 .5 .3-.1 .4-.1 .4 .2 .4 0 .3-.3 .4 .1 .4 0 .3 0 .4 .1 .4 .3 .4 .3 .3-.3 .4-.2 .4 0 .3-.3 .4-.5 .4 0 .4 .2 .3 .1 .4 .4 .4 .1 .4-.2 .3-.2 .4-.1 .4 0 .3 .2 .4 .1 .4 .2 .4 .1 .3 0 .4-.1 .4-.1 .3 .2 .4 .1 .4-.2 .4-.1 .3 .1 .4 .3 .4 .4 .3-.1 .4-.1 .4 0 .4 .2 .3-.1 .4-.4 .4-.3 .4 .2 .3 .3 .4-.3 .4-.3 .3 .2 .4 .4 .4 .3 .4-.3 .3-.2 .4 .5 .4 .3 .3-.4 .4-.1 .4 .1 .4-.2 .3-.1 .4 .2 .4 .3 .3-.3 .4-.5 .4-.1 .4 .5 .3 .3 .4-.2 .4 0 .4 0 .3-.3 .4 .4 .4 .6 .3-.1 .4-.7 .4-.6 .4 .1 .3 .6 .4 .3 .4-.1 .3-.1 .4 .1 .4-.2 .4 0 .3 .3 .4 .1 .4 0 .3 .2 .4-.3 .4-.4 .4 .2 .3 .4 .4-.1 .4-.1 .3-.2 .4-.1 .4 .4 .4 0 .3-.3 .4 .1 .4 0 .4-.1 .3 .1 .4-.1 .4 0 .3 0 .4 .1 .4 0 .4 0 .3 .1 .4-.3 .4 0 .3 .1 .4-.1 .4 .2 .4 .3 .3 .1 .4-.1 .4-.1 .3 0 .4-.1 .4 .1 .4 .1 .3 .2 .4 0 .4-.3 .4-.1 .3 .1 .4-.1 .4 0 .3 .2 .4 .1 .4 .1 .4 .2 .3-.2 .4-.3 .4-.3 .3 0 .4 .5 .4 .4 .4-.2 .3-.5 .4-.1 .4 .3 .3 .4 .4 .3 .4-.2 .4-.5 .3-.4 .4-.1 .4 .3 .3 .2 .4 .1 .4 0 .4-.1 .3-.1 .4-.1 .4 .1 .4 0 .3 0 .4 .1 .4-.2 .3 .1 .4 0 .4-.1 .4 .1 .3 .2 .4-.1 .4-.1 .3 .3 .4 .2 .4-.1 .4-.1 .3-.1 .4-.2 .4 .1 .3 0 .4 0 .4-.1 .4 0 .3-.2 .4-.1 .4 .1 .4-.1 .3-.2 .4 0 .4 .5 .3 .2 .4-.2 .4 .2 .4 .2 .3 0 .4 .1 .4 .2 .3-.4 .4-.7 .4-.3 .4 .3 .3 .1 .4 .1 .4 .4 .3 .1 .4-.3 .4-.3 .4 .2 .3 .1 .4 .1 .4 .1 .4-.1 .3-.3 .4 0 .4 .2 .3-.1 .4-.1 .4-.3 .4-.2 .3 .1 .4 .4 .4 .2 .3 0 .4-.2 .4 .1 .4 .4 .3-.2 .4-.2 .4 .2 .3-.4 .4 0 .4 .5 .4 0 .3-.4 .4 .3 .4 .3 .3 0 .4 .1 .4-.2 .4-.4 .3 .1 .4 .4 .4 .2 .4-.2 .3-.5 .4-.1 .4-.1 .3 .1 .4 .2 .4 .5 .4 .1 .3-.5 .4-.4 .4-.2 .3 .4 .4 .4 .4 .1 .4 .1 .3-.2 .4-.2 .4 0 .3 .2 .4-.1 .4-.3 .4 0 .3 .4 .4 .3 .4-.1 .4-.2 .3-.2 .4 .1 .4 .1 .3 .1 .4-.4 .4-.4 .4 .3 .3 .3 .4-.1 .4-.2 .3 0 .4 0 .4-.2 .4 0 .3 .3 .4 .4 .4-.1 .3-.3 .4 .1 .4-.4 .4-.1 .3 .5 .4 .4 .4 0 .3-.4 .4-.1 .4 .4 .4 .1 .3-.2 .4 0 .4 .2 .4 0 .3-.2 .4-.1 .4 .2 .3 .2 .4-.3 .4-.2 .4 0 .3 .1 .4 .1 .4-.3 .3-.1 .4 .5 .4 0 .4-.4 .3 .2 .4 .3 .4-.3 .3 0 .4 .2 .4 0 .4 .2 .3 .2 .4-.2 .4-.4 .4 0 .3 0 .4 .3 .4 .3 .3-.1 .4-.3 .4-.1 .4 0 .3-.3 .4-.2 .4 .1 .3-.1 .4 0 .4 .3 .4 .4 .3-.1 .4-.5 .4-.2 .3 .5 .4 .3 .4-.3 .4 0 .3 0 .4-.2 .4 0 .4 .3 .3 .1 .4-.2 .4 0 .3-.1 .4-.4 .4 .2 .4 .8 .3 .5 .4-.2 .4-.5 .3-.5 .4-.3 .4 .4 .4 .2 .3 0 .4 0 .4 .1 .3 .1 .4 .2 .4-.2 .4-.3 .3-.1 .4-.1 .4-.2 .3 0 .4 .1 .4 .1 .4 0 .3-.1 .4 .2 .4 .2 .4-.2 .3 .3 .4 .3 .4-.6 .3-.1 .4 .2 .4-.2 .4-.1 .3-.1 .4-.3 .4 .2 .3 .4 .4 .3 .4 0 .4-.3 .3-.2 .4-.1 .4 0 .3-.1 .4 0 .4 .4 .4 .2 .3 0 .4 .1 .4-.1 .4-.3 .3-.2 .4 0 .4 0 .3 .2 .4 .2 .4 0 .4 0 .3 .1 .4 .2 .4-.1 .3-.4 .4-.3 .4-.2 .4 .1 .3 .3 .4-.1 .4 .3 .3 .5 .4 0 .4 0 .4 0 .3-.4 .4-.2 .4-.1 .4-.1 .3 0 .4 0 .4 .2 .3 .1 .4-.2 .4 0 .4 .1 .3-.1 .4 .2 .4 .3 .3 0 .4-.4 .4-.2 .4 .3 .3 .4 .4 .1 .4-.3 .3-.1 .4 .1 .4-.1 .4-.1 .3-.2 .4-.1 .4 .2 .3 .2 .4-.1 .4 0 .4 .1 .3-.2 .4-.3 .4-.1 .4 .1 .3 .2 .4 .4 .4-.4 .3-.3 .4 .2 .4 .3 .4 0 .3-.2 .4 .1 .4 .1 .3-.2 .4-.1 .4-.1 .4 .1 .3 .1 .4-.1 .4 0 .3 .1 .4 0 .4 0 .4 .2 .3-.1 .4-.2 .4 .1 .4-.1 .3-.3 .4 .2 .4 .1 .3 .2 .4 .1 .4-.1 .4-.1 .3 .1 .4-.1 .4-.2 .3 0 .4-.1 .4-.1 .4 .3 .3 .3 .4 .1 .4-.2 .3-.1 .4-.1 .4-.4 .4-.3 .3 .1 .4 0 .4 .1 .3 .4 .4 .1 .4-.4 .4-.2 .3 .4 .4 .3 .4-.3 .4-.4 .3 0 .4 .1 .4 0 .3 0 .4 0 .4-.3 .4-.1 .3-.1 .4-.3 .4 .2 .3 .6 .4 .3 .4 .2 .4 .1 .3-.1 .4-.4 .4-.3 .3 .3 .4 .4 .4-.1 .4-.3 .3-.1 .4-.1 .4-.3 .4-.5 .3 .2 .4 .3 .4 .2 .3 .1 .4-.3 .4 0 .4 .5 .3 0 .4-.2 .4 .1 .3-.1 .4-.3 .4 0 .4 .3 .3 .1 .4-.3 .4-.3 .3 0 .4 0 .4 .2 .4 .2 .3-.1 .4 .2 .4 0 .4-.5 .3-.4 .4 .2 .4 .4 .3-.3 .4-.2 .4 .1 .4-.1 .3 0 .4-.1 .4 .1 .3 0 .4-.2 .4 0 .4 .1 .3 .2 .4 .1 .4-.1 .3-.3 .4 .1 .4 .2 .4-.1 .3-.2 .4-.1 .4 .2 .3 0 .4 0 .4 .3 .4-.2 .3-.2 .4 0 .4 .1 .4 .4 .3 .1 .4-.2 .4-.3 .3-.1 .4-.3 .4 .3 .4 .4 .3-.3 .4-.5 .4-.1 .3 .2 .4 0 .4-.1 .4 .3 .3-.1 .4-.1 .4 .1 .3-.1 .4-.1 .4 0 .4 .3 .3 .1 .4-.2 .4-.1 .4-.1 .3-.2 .4 0 .4 0 .3 .1 .4 0 .4-.2 .4 .2 .3 .1 .4-.1 .4-.1 .3-.1 .4 0 .4-.3 .4-.3 .3 .1 .4 .1 .4 .3 .3 0 .4-.2 .4 .3 .4 .6 .3-.1 .4-.7 .4-.3 .3 .1 .4 .1 .4-.1 .4 .1 .3-.1 .4-.3 .4 .2 .4 .2 .3 0 .4-.1 .4 .1 .3 .2 .4 0 .4-.3 .4-.2 .3-.2 .4-.3 .4 .1 .3 .4 .4 0 .4-.2 .4 .1 .3-.1 .4-.4 .4-.1 .3 .5 .4 .4 .4 0 .4-.1 .3-.3 .4-.4 .4 0 .4 .3 .3 0 .4-.3 .4-.1 .3-.1 .4-.1 .4 .1 .4 .2 .3-.1 .4-.2 .4 .3 .3 .5 .4 0 .4-.1 .4-.3 .3-.4 .4 0 .4 .4 .3-.2 .4-.5 .4-.1 .4-.2 .3-.2 .4 .1 .4 0 .4 .2 .3 .4 .4-.1 .4-.4 .3 0 .4-.1 .4-.2 .4-.2 .3-.1 .4-.1 .4 .1 .3 .1 .4 0 .4-.2 .4-.2 .3 .1 .4-.1 .4-.3 .3-.5 .4-.1 .4 .3 .4 0 .3-.1 .4 0 .4 0 .3-.2 .4-.3 .4-.6 .4-.5 .3-.2 .4-.1 .4 .3 .4 .4 .3-.2 .4-.7 .4-.3 .3 .3 .4-.1 .4-.4 .4-.2 .3-.1 .4-.4 .4-.2 .3 .1 .4 .1 .4-.2 .4-.5 .3-.4 .4-.3 .4 .2 .3 0 .4-.2 .4-.7 .4-.7 .3-.1 .4-.2 .4-.2 .4 .2 .3 .1 .4-.5 .4-.6 .3-.3 .4-.4 .4-.1 .4-.2 .3-.4 .4-.3 .4-.1 .3-.2 .4-.3 .4-.2 .4-.1 .3-.3 .4-.3 .4-.3 .3-.4 .4-.2 .4 .1 .4-.2 .3-.5 .4-.4 .4 0 .3 .2 .4 0 .4-.3 .4-.7 .3-.2 .4 .6 .4 .2 .4-.3 .3 0 .4 .3 .4 .1 .3 0 .4-.1 .4 .1 .4 .4 .3 .1 .4-.5 .4 .2 .3 .3 .4 .2 .4 .2 .4 .1 .3-.1 .4-.1 .4 .4 .3 .7 .4 .2 .4 .3 .4 .1 .3 0 .4 .2 .4 .5 .4 .5 .3 .4 .4 .1 .4 .3 .3 .4 .4 0 .4 .1 .4 .6 .3 .4 .4-.1 .4 .2 .3 .5 .4 .5 .4-.1 .4 0 .3 .6 .4 .1 .4-.1 .3 0 .4 .1 .4 .6 .4 .7 .3 .3 .4 0 .4 0 .4 .5 .3 .3 .4 .2 .4-.1 .3-.2 .4 .3 .4 .5 .4 .5 .3 .4 .4 .1 .4-.1 .3 .3 .4 .3 .4-.2 .4-.2 .3 .2 .4 .2 .4 .1 .3 .3 .4 .1 .4-.2 .4 .2 .3 .5 .4 0 .4 0 .3 .1 .4-.1 .4 0 .4-.1 .3 .3 .4 .4 .4 .2 .4 .3 .3 .1 .4 .1 .4 0 .3-.2 .4 .1 .4 .3 .4 0 .3 .1 .4 .3 .4 .3 .3-.2 .4-.3 .4 .1 .4 .3 .3 .3 .4 .3 .4 .3 .3-.4 .4-.7 .4-.1 .4 .4 .3 .4 .4 .2 .4-.1 .4-.3 .3-.3 .4 .2 .4 .5 .3 .1 .4-.3 .4-.2 .4-.1 .3 .2 .4 .3 .4-.1 .3 .1 .4 .1 .4-.4 .4 0 .3 .8 .4 .4 .4-.5 .3-.2 .4 .3 .4-.1 .4 0 .3 .2 .4-.1 .4 .2 .3 .5 .4-.2 .4-.6 .4-.4 .3 .1 .4 .4 .4 0 .4-.3 .3-.2 .4 .1 .4 .4 .3 .2 .4 0 .4 .2 .4 .1 .3 0 .4 0 .4-.4 .3-.3 .4 .1 .4 .2 .4 .3 .3 .2 .4 0 .4-.1 .3-.1 .4-.1 .4 .3 .4 .2 .3-.3 .4 0 .4 .1 .4 .2 .3-.1 .4-.1 .4-.2 .3-.4 .4-.2 .4 0 .4 .2 .3-.1 .4 0 .4-.2 .3-.2 .4 0 .4 .3 .4 .3 .3 .2 .4-.1 .4-.4 .3-.3 .4 .1 .4 .2 .4 0 .3-.1 .4-.1 .4 .1 .4 .1 .3 .2 .4-.3 .4-.5 .3 .1 .4 0 .4 0 .4 .3 .3 .5 .4-.3 .4-.6 .3 0 .4 .4 .4-.1 .4-.5 .3 0 .4 .2 .4 0 .3-.1 .4-.3 .4-.1 .4 .1 .3 .1 .4-.1 .4-.2 .3 .2 .4-.2 .4-.4 .4-.1 .3 .2 .4 0 .4 .2 .4 0 .3-.2 .4-.4 .4 .2 .3 .3 .4-.3 .4-.3 .4-.1 .3-.1 .4 .2 .4 .6 .3 .2 .4-.4 .4 0 .4 .1 .3-.1 .4-.2 .4-.1 .3 .1 .4 0 .4 0 .4-.1 .3-.2 .4 .1 .4 0 .4 0 .3-.1 .4-.1 .4 0 .3-.1 .4-.2 .4 .1 .4 0 .3 0 .4 0 .4 0 .3 .3 .4-.3 .4 0 .4 .7 .3 .4 .4-.5 .4-.5 .3 .2 .4 .4 .4 0 .4 0 .3 .2 .4 0 .4-.2 .3-.1 .4 0 .4 .3 .4 .3 .3 .1 .4-.1 .4-.1 .4 0 .3 .1 .4 .1 .4-.2 .3-.1 .4 .2 .4 .3 .4 .1 .3 0 .4 0 .4-.1 .3 .2 .4 .3 .4-.2 .4 .1 .3-.1 .4 .1 .4 .1 .3-.2 .4 .2 .4 .3 .4-.1 .3 .2 .4 0 .4-.1 .4 .6 .3 .3 .4-.4 .4-.1 .3 .1 .4-.1 .4 .4 .4 0 .3-.3 .4 .3 .4 .2 .3 0 .4 .2 .4 0 .4-.2 .3 0 .4 .1 .4 0 .3-.1 .4-.2 .4 .1 .4 .3 .3 .3 .4 0 .4-.3 .4-.3 .3 0 .4 0 .4-.1 .3 0 .4 .3 .4 .3 .4 .1 .3-.1 .4-.1 .4 .1 .3-.3 .4 .1 .4 .2 .4-.1 .3-.1 .4 .1 .4 .2 .3 .1 .4 .3 .4 0 .4 .1 .3-.1 .4-.1 .4 .2 .3 0 .4-.4 .4 0 .4 .3 .3 .3 .4 .1 .4-.2 .4 .1 .3 0 .4-.2 .4 .1 .3-.1 .4 0 .4 .3 .4-.2 .3-.2 .4 0 .4 .4 .3 .2 .4-.2 .4-.3 .4 .1 .3 0 .4-.4 .4 .1 .3 .5 .4-.2 .4-.2 .4 .1 .3 0 .4 .6 .4 .3 .4-.4 .3-.1 .4 .2 .4 0 .3-.3 .4-.2 .4 .1 .4 .2 .3 .4 .4-.1 .4-.1 .3 .2 .4-.2 .4-.1 .4 .1 .3 0 .4-.1 .4-.2 .3 .1 .4 .1 .4-.1 .4-.3 .3-.2 .4 .3 .4 .4 .3 0 .4-.3 .4 .1 .4 0 .3-.1 .4 .2 .4 .1 .4 .1 .3 .2 .4 .3 .4 .1 .3 0 .4-.3 .4-.3 .4-.3 .3-.3 .4 .3 .4 .2 .3-.3 .4 .1 .4 .2 .4-.1 .3-.2 .4 .4 .4 .2 .3-.2 .4 0 .4 .5 .4 0 .3-.2 .4-.2 .4 .1 .4 .2 .3 0 .4-.1 .4-.4 .3-.1 .4-.2 .4-.2 .4 .2 .3 .3 .4 .2 .4-.1 .3-.4 .4-.3 .4 .1 .4 .5 .3 0 .4-.5 .4 .3 .3 .2 .4-.2 .4 0 .4 .3 .3 0 .4-.4 .4-.4 .4 0 .3 .3 .4 .3 .4-.1 .3 0 .4 .2 .4 .3 .4-.1 .3-.2 .4-.3 .4-.3 .3 .1 .4 .3 .4 0 .4-.1 .3-.1 .4-.1 .4-.1 .3 0 .4 .1 .4-.1 .4-.1 .3 .1 .4-.1 .4-.1 .3-.3 .4 0 .4 .1 .4 0 .3 .1 .4 .2 .4 .1 .4 0 .3 0 .4-.2 .4 0 .3 .4 .4 .4 .4-.2 .4-.3 .3-.1 .4-.2 .4-.2 .3 .2 .4 .5 .4-.1 .4-.2 .3 .4 .4 0 .4-.6 .3-.3 .4 .5 .4 .1 .4 0 .3 .2 .4-.4 .4-.1 .4-.4 .3-.3 .4 .5 .4 .5 .3-.1 .4-.1 .4 0 .4 0 .3-.1 .4-.3 .4-.2 .3 .4 .4 .2 .4 0 .4-.2 .3 .2 .4 .5 .4-.1 .3-.1 .4 0 .4-.1 .4-.1 .3-.1 .4-.3 .4 .1 .3 .2 .4-.1 .4-.1 .4 .1 .3 .3 .4 .3 .4-.2 .4-.4 .3-.1 .4 0 .4-.2 .3 0 .4 .4 .4 .2 .4-.4 .3 0 .4 .4 .4 .3 .3 .1 .4-.2 .4-.5 .4-.2 .3 .2 .4 .2 .4 .2 .3 0 .4-.3 .4-.1 .4 0 .3 .1 .4 .2 .4 0 .4-.2 .3 0 .4 .2 .4 .1 .3-.1 .4-.1 .4 .1 .4 .1 .3 .2 .4-.1 .4-.2 .3-.1 .4-.3 .4-.4 .4 .1 .3 .3 .4 .1 .4 .1 .3 .1 .4 .2 .4 .1 .4 .1 .3-.2 .4-.2 .4 .4 .4 .4 .3-.1 .4-.7 .4-.5 .3 .3 .4 .3 .4-.1 .4 0 .3 .2 .4 .1 .4 0 .3 0 .4-.1 .4-.2 .4-.2 .3-.2 .4 .2 .4 .1 .3 .1 .4 .6 .4 .1 .4-.3 .3-.2 .4 .1 .4-.1 .3 .1 .4 .4 .4 .1 .4-.1 .3 0 .4-.1 .4-.3 .4-.3 .3 .3 .4 .6 .4-.1 .3-.5 .4 .1 .4 .3 .4-.2 .3-.1 .4 .1 .4 .1 .3 0 .4 0 .4-.3 .4-.2 .3 .1 .4 .2 .4 .1 .3 .4 .4 0 .4-.1 .4 .2 .3-.1 .4 0 .4 0 .4 0 .3-.2 .4-.1 .4 .1 .3 0 .4 0 .4 .2 .4-.1 .3-.1 .4 .3 .4-.1 .3 0 .4 .3 .4 .1 .4-.7 .3-.4 .4 .3 .4 .1 .3 0 .4 .2 .4 0 .4 .1 .3 .2 .4-.1 .4-.1 .3 0 .4 .1 .4 0 .4 .3 .3 .1 .4-.2 .4-.1 .4-.3 .3 .2 .4 0 .4-.2 .3 .1 .4-.3 .4-.3 .4 .2 .3 .1 .4 0 .4 .1 .3 .1 .4 .1 .4-.2 .4-.1 .3 0 .4 .2 .4 .2 .3-.2 .4 .1 .4 0 .4 0 .3 0 .4-.1 .4 0 .4 0 .3 .2 .4 0 .4-.2 .3 0 .4 .1 .4 .3 .4 .1 .3-.1 .4 .3 .4 .1 .3-.1 .4-.1 .4 0 .4-.6 .3-.4 .4 .4 .4-.2 .3 0 .4 .5 .4 .1 .4-.1 .3 0 .4-.3 .4-.3 .4-.1 .3-.3 .4-.1 .4 .5 .3 .5 .4 .2 .4-.1 .4-.2 .3-.1 .4 .1 .4-.2 .3-.2 .4 .3 .4 .2 .4-.1 .3-.2 .4-.3 .4 .2 .3 .3 .4 .1 .4-.1 .4 0 .3 .2 .4 .1 .4-.1 .3-.1 .4 .1 .4-.1 .4 0 .3 0 .4-.2 .4 0 .4 .5 .3 .6 .4-.5 .4-.4 .3 .2 .4 .1 .4-.2 .4-.3 .3 .1 .4 .1 .4 .1 .3-.2 .4-.2 .4 .3 .4 .1 .3-.3 .4-.1 .4 .1 .3 .3 .4 .1" fill="none" stroke="#800000" stroke-width="1.3" stroke-linejoin="round"/>
<path d="M96.8 1469.9l.4-2.7 .4-2.7 .3-3.1 .4-3.7 .4-4.2 .3-4.6 .4-4.3 .4-3.2 .4-2.4 .3-1.5 .4 0 .4 1.6 .3 2.5 .4 2.8 .4 2.9 .4 3 .3 2.4 .4 1.7 .4 .9 .3 .1 .4-.4 .4-.7 .4-1 .3-1.1 .4-.6 .4-.5 .3-1.1 .4-1 .4-.3 .4 .1 .3 .1 .4 .4 .4 .4 .4 .5 .3 .9 .4 .8 .4 .7 .3 .9 .4 .7 .4 .5 .4 .7 .3 .6 .4 .1 .4 .3 .3 .6 .4 .2 .4 .3 .4 .3 .3 0 .4 .5 .4 .8 .3 .2 .4 .1 .4 .4 .4 .2 .3 .3 .4 .1 .4 .3 .4 .5 .3 .4 .4 .1 .4 .3 .3 .3 .4 0 .4-.2 .4-.4 .3 .1 .4 .3 .4-.2 .3-.3 .4-.1 .4-.6 .4-1 .3-1 .4-.7 .4-.7 .3-1.1 .4-1.7 .4-1.9 .4-1.7 .3-2.1 .4-2.8 .4-3.1 .3-3.3 .4-4 .4-4.6 .4-5.1 .3-5.5 .4-5.3 .4-4.7 .4-4.1 .3-2.8 .4-1.1 .4 .9 .3 2.8 .4 4.2 .4 5 .4 5.7 .3 5.6 .4 4.8 .4 4.6 .3 3.9 .4 3.5 .4 3.8 .4 3.2 .3 2.3 .4 2.2 .4 2 .3 1.7 .4 1.3 .4 1.4 .4 1.5 .3 .9 .4 .9 .4 .9 .4 .7 .3 .5 .4 .4 .4 .5 .3 .6 .4 .5 .4 .6 .4 .6 .3 .1 .4 .1 .4 .2 .3 0 .4 .1 .4-.1 .4-.2 .3-.3 .4-.2 .4-.2 .3-.9 .4-.7 .4 .1 .4 0 .3 .3 .4 .4 .4 .4 .4 .8 .3 .8 .4 .7 .4 .6 .3 .2 .4 0 .4 .1 .4 .2 .3 .4 .4 .3 .4 .2 .3 0 .4 0 .4 .1 .4 .2 .3 .2 .4-.2 .4-.3 .3 .3 .4 .3 .4-.4 .4-.1 .3 .5 .4 .1 .4 .1 .3 .1 .4-.4 .4-.1 .4 .2 .3 .1 .4-.1 .4 .1 .4 .1 .3 .2 .4-.1 .4-.4 .3 .1 .4 .1 .4 0 .4 .1 .3 0 .4-.2 .4 .1 .3 .1 .4-.2 .4-.2 .4 0 .3 .2 .4 .4 .4 0 .3-.4 .4-.2 .4 .2 .4-.1 .3-.1 .4 0 .4 .1 .4 .1 .3 0 .4 .2 .4-.2 .3-.2 .4-.1 .4-.3 .4 .3 .3 .7 .4 .2 .4-.3 .3 0 .4-.1 .4-.1 .4 .6 .3 .1 .4-.5 .4-.2 .3 .1 .4 0 .4 .3 .4 .1 .3-.2 .4 .1 .4 0 .3-.3 .4-.2 .4 .1 .4 .2 .3 .2 .4 0 .4-.1 .4-.2 .3 0 .4-.2 .4-.3 .3 0 .4 .3 .4 0 .4-.1 .3 .3 .4 .2 .4-.2 .3-.4 .4 .1 .4 .1 .4-.2 .3-.1 .4 .3 .4 .5 .3 0 .4 .3 .4 .1 .4-.7 .3-.6 .4 .2 .4 .4 .4-.2 .3-.4 .4 0 .4 .1 .3 .1 .4-.2 .4-.1 .4 0 .3 .2 .4 .1 .4 0 .3-.2 .4 0 .4 .2 .4 0 .3 0 .4-.1 .4-.6 .3-.1 .4 .4 .4-.1 .4 .3 .3 .4 .4-.3 .4-.3 .4 .1 .3 .1 .4-.1 .4-.3 .3-.3 .4 .1 .4-.1 .4-.1 .3 .2 .4 .4 .4-.2 .3-.6 .4-.3 .4 0 .4 .1 .3 0 .4 0 .4 0 .3-.1 .4-.4 .4-.4 .4 0 .3 .2 .4 0 .4-.4 .3-.6 .4-.1 .4 .1 .4 .1 .3 0 .4-.3 .4-.2 .4 .1 .3 .2 .4 .1 .4 .2 .3 .4 .4 .1 .4-.1 .4 0 .3 .2 .4-.1 .4 0 .3 .4 .4 .3 .4 0 .4 .2 .3 .1 .4-.3 .4-.2 .3 .4 .4 .4 .4 0 .4 0 .3 .3 .4-.1 .4-.3 .4 0 .3-.3 .4-.1 .4 .2 .3-.1 .4-.1 .4 .4 .4 .5 .3 0 .4-.4 .4-.4 .3 .2 .4 .5 .4 .1 .4-.2 .3-.1 .4-.1 .4 0 .3 0 .4 .1 .4-.1 .4 0 .3-.1 .4-.2 .4-.3 .3 .2 .4 .5 .4 .2 .4 0 .3 .2 .4-.1 .4-.6 .4-.2 .3 .4 .4 .3 .4-.1 .3-.2 .4-.5 .4-.3 .4 .4 .3 .5 .4 0 .4-.2 .3 0 .4 .1 .4-.1 .4-.1 .3-.4 .4-.3 .4 .1 .3 .3 .4 0 .4 0 .4 .1 .3 .1 .4 .2 .4-.1 .4-.5 .3-.1 .4-.1 .4 .1 .3 .4 .4-.1 .4-.4 .4-.1 .3 0 .4-.2 .4 .1 .3 .4 .4-.2 .4-.4 .4 .1 .3 .2 .4-.4 .4-.4 .3 .1 .4 .3 .4 .2 .4-.2 .3-.5 .4 0 .4 .1 .4 .2 .3 .3 .4 .2 .4-.2 .3-.3 .4 .1 .4-.1 .4 0 .3 .4 .4 .1 .4-.1 .3-.1 .4 .2 .4 .1 .4 0 .3 .1 .4 .1 .4-.4 .3 0 .4 .3 .4 0 .4 0 .3 0 .4-.2 .4-.1 .3 0 .4 .2 .4 0 .4 .1 .3 .1 .4-.2 .4 0 .4 0 .3 .2 .4 .2 .4-.1 .3-.3 .4 0 .4 .3 .4 .2 .3 0 .4-.2 .4 .3 .3 .1 .4-.4 .4-.2 .4 .4 .3 .2 .4-.1 .4-.2 .3-.1 .4 0 .4 0 .4-.2 .3 0 .4 .1 .4 .2 .4 .2 .3-.2 .4-.6 .4 0 .3 .1 .4 0 .4-.1 .4-.2 .3-.1 .4 .5 .4 .4 .3-.1 .4-.3 .4-.5 .4-.1 .3 .4 .4 .2 .4-.5 .3-.1 .4 .3 .4-.1 .4-.4 .3-.1 .4 .1 .4 .1 .3 .1 .4-.4 .4-.6 .4-.1 .3 .3 .4 .3 .4 0 .4-.4 .3-.3 .4-.2 .4 0 .3 0 .4-.2 .4-.4 .4-.5 .3-.2 .4 .4 .4 .1 .3-.1 .4-.1 .4-.1 .4-.1 .3-.1 .4-.3 .4-.1 .3-.1 .4 .1 .4 .2 .4 0 .3-.1 .4-.1 .4-.1 .4 .1 .3 .3 .4 0 .4 .2 .3 0 .4 .1 .4 .3 .4-.2 .3-.1 .4 .2 .4 .2 .3 .2 .4 .2 .4 .1 .4 .1 .3 .1 .4 .2 .4 0 .3 0 .4 .3 .4 .1 .4 .2 .3 .2 .4-.1 .4 0 .4 .1 .3 .2 .4 .3 .4 0 .3-.2 .4 .1 .4 .4 .4 .3 .3-.3 .4-.3 .4 .1 .3 .5 .4 .3 .4-.2 .4 .3 .3 .5 .4-.2 .4 .2 .3 .1 .4-.3 .4-.3 .4 .1 .3-.1 .4-.3 .4 .1 .3 .5 .4 .4 .4 .2 .4-.1 .3-.3 .4 0 .4 0 .4 0 .3 .3 .4 0 .4-.2 .3-.1 .4 0 .4 .2 .4 .2 .3 .1 .4 .4 .4 0 .3-.3 .4-.1 .4 .2 .4 .3 .3 0 .4-.1 .4 .3 .3 .2 .4-.4 .4-.5 .4 .1 .3 .3 .4-.1 .4 .2 .4 .4 .3-.2 .4-.5 .4-.2 .3-.2 .4 .1 .4 .3 .4 .1 .3 0 .4 .2 .4 0 .3-.4 .4-.1 .4 .4 .4 .2 .3-.2 .4-.1 .4 0 .3 .1 .4 .3 .4 .2 .4-.2 .3-.3 .4 .1 .4 .6 .4 0 .3-.2 .4 .2 .4 0 .3-.4 .4-.2 .4 .2 .4 .1 .3-.1 .4-.1 .4 .1 .3 .4 .4 .1 .4-.2 .4 0 .3-.2 .4 .1 .4 .2 .3 0 .4-.2 .4 0 .4 .2 .3-.1 .4-.5 .4-.4 .3 .2 .4 .4 .4 .1 .4-.1 .3 .3 .4 .3 .4-.2 .4-.1 .3 .4 .4 .3 .4-.2 .3-.3 .4 0 .4 0 .4-.2 .3 0 .4 .1 .4 .1 .3 .1 .4 .2 .4-.2 .4-.3 .3 .1 .4 .3 .4 0 .3-.2 .4 .1 .4 .3 .4 .1 .3-.6 .4-.5 .4 .1 .4 .4 .3-.3 .4-.1 .4 .4 .3 .1 .4-.2 .4-.1 .4 .2 .3 0 .4-.4 .4-.1 .3 .3 .4 .4 .4 .3 .4-.2 .3-.2 .4 0 .4 0 .3 .3 .4 .2 .4-.2 .4 0 .3 .1 .4 0 .4 .2 .3 0 .4-.5 .4-.3 .4-.2 .3 0 .4 .5 .4 .6 .4 0 .3-.1 .4-.2 .4 .1 .3 .1 .4-.1 .4 0 .4-.2 .3-.1 .4 .1 .4 0 .3 .1 .4 .2 .4 .1 .4-.5 .3-.7 .4-.1 .4 .2 .3 .4 .4 .1 .4-.1 .4 .1 .3 .2 .4 0 .4 0 .4 0 .3 .1 .4 .1 .4-.3 .3-.5 .4 .3 .4 .2 .4-.2 .3 .1 .4 .3 .4-.1 .3-.3 .4 0 .4 0 .4-.1 .3 .3 .4 .1 .4-.2 .3 0 .4 .5 .4 .1 .4-.4 .3-.3 .4-.2 .4 .2 .4 .3 .3-.1 .4 0 .4 .1 .3-.1 .4 .4 .4 .2 .4-.1 .3-.1 .4-.2 .4-.3 .3-.3 .4 0 .4 .4 .4 .4 .3 0 .4 0 .4-.1 .3-.3 .4 .2 .4 .2 .4-.4 .3-.2 .4 0 .4-.1 .3 0 .4-.1 .4-.1 .4 .1 .3 0 .4 .3 .4 .2 .4 0 .3-.2 .4 0 .4 0 .3-.4 .4 .2 .4 .5 .4 .1 .3-.3 .4-.1 .4 0 .3-.1 .4 0 .4-.1 .4 .1 .3-.2 .4-.5 .4-.1 .3 .6 .4 .3 .4-.1 .4-.2 .3 .2 .4 0 .4-.1 .4 .2 .3 0 .4 .1 .4 .2 .3-.1 .4-.4 .4-.2 .4 .2 .3 .2 .4-.3 .4-.4 .3-.1 .4 .3 .4 .1 .4-.2 .3 .2 .4 .2 .4-.3 .3-.5 .4-.1 .4 .1 .4 .1 .3 0 .4 .1 .4-.2 .3-.5 .4 .2 .4 .4 .4 0 .3-.3 .4 0 .4 .4 .4 .3 .3-.3 .4-.3 .4-.2 .3-.2 .4 0 .4 .2 .4 .1 .3-.4 .4-.4 .4 .2 .3 .3 .4-.2 .4 0 .4 .3 .3 0 .4-.3 .4 0 .3 .1 .4 0 .4 0 .4-.1 .3 .1 .4 .1 .4-.3 .4-.1 .3 .2 .4-.1 .4-.2 .3 .1 .4 .1 .4-.2 .4-.6 .3-.5 .4 .1 .4 .4 .3 .1 .4 0 .4-.2 .4 0 .3 .2 .4-.2 .4-.2 .3-.2 .4 .2 .4 .2 .4-.3 .3-.2 .4 0 .4 0 .4 .4 .3 0 .4-.6 .4-.3 .3 .1 .4-.1 .4-.1 .4 .1 .3 .1 .4-.3 .4-.2 .3 0 .4-.1 .4 0 .4 0 .3-.5 .4 .1 .4 .3 .3-.4 .4-.5 .4-.1 .4 .1 .3-.1 .4-.1 .4 .1 .3-.1 .4-.1 .4 .1 .4 0 .3-.2 .4-.1 .4 .1 .4-.2 .3-.3 .4-.1 .4-.1 .3-.1 .4-.1 .4 0 .4 .3 .3 .1 .4-.2 .4-.4 .3 .2 .4 .8 .4-.1 .4-.5 .3-.3 .4 .1 .4 .1 .3-.1 .4 0 .4-.1 .4 .2 .3 .3 .4-.2 .4-.2 .4-.2 .3 .1 .4 .1 .4-.1 .3 .1 .4 .1 .4 0 .4-.4 .3-.5 .4-.1 .4 0 .3-.1 .4 .1 .4 0 .4-.3 .3-.1 .4 .2 .4 .1 .3-.1 .4 0 .4-.1 .4-.3 .3 0 .4 0 .4 0 .3-.2 .4-.1 .4-.2 .4-.3 .3-.2 .4-.1 .4 .2 .4 .3 .3 0 .4-.2 .4-.1 .3 0 .4 .2 .4 .1 .4 0 .3-.1 .4-.3 .4-.1 .3 0 .4-.3 .4 0 .4 .3 .3 .1 .4 0 .4-.1 .3-.5 .4-.5 .4 .1 .4 .1 .3 0 .4-.2 .4-.1 .4-.2 .3-.4 .4-.2 .4 .2 .3 .2 .4 0 .4-.2 .4-.2 .3-.1 .4-.2 .4 .1 .3 .4 .4-.2 .4-.4 .4 .1 .3 .1 .4 0 .4-.1 .3-.5 .4-.7 .4 .2 .4 .6 .3 .1 .4-.4 .4-.3 .4 .2 .3-.1 .4-.5 .4-.1 .3 .3 .4 .2 .4 0 .4 0 .3-.2 .4-.5 .4-.3 .3-.4 .4-.5 .4 .2 .4 .2 .3-.3 .4-.3 .4 .3 .3 0 .4-.1 .4-.3 .4-.2 .3 .2 .4-.2 .4-.5 .3-.4 .4-.3 .4-.2 .4-.3 .3-.2 .4 .1 .4-.3 .4-.4 .3-.5 .4-.3 .4-.1 .3-.5 .4-.7 .4-.3 .4-.4 .3-1 .4-.4 .4 .1 .3-.7 .4-1.1 .4-.4 .4-.2 .3-.5 .4-.6 .4-.7 .3-.9 .4-.9 .4-.7 .4-.7 .3-.9 .4-1 .4-1.1 .4-1.3 .3-1.4 .4-1.2 .4-1.2 .3-1.3 .4-1.2 .4-1.3 .4-1.6 .3-1.5 .4-1.6 .4-1.9 .3-1.6 .4-1.5 .4-1.8 .4-2 .3-2 .4-2.1 .4-2.2 .3-1.6 .4-1.8 .4-2.1 .4-2.3 .3-2.6 .4-2.6 .4-2 .3-1.6 .4-2.3 .4-2.4 .4-1.8 .3-1.7 .4-2 .4-1.9 .4-1.1 .3-.8 .4-.9 .4-.6 .3-.3 .4-.1 .4-.2 .4 .2 .3 .3 .4 .3 .4 .7 .3 1.5 .4 1.5 .4 1.3 .4 1.4 .3 1.8 .4 2.2 .4 2.3 .3 2.2 .4 1.9 .4 1.8 .4 2.3 .3 2.4 .4 2.2 .4 1.9 .4 2.2 .3 2.3 .4 2.4 .4 2.3 .3 1.7 .4 1.7 .4 2.3 .4 1.8 .3 1.6 .4 1.8 .4 1.8 .3 1.5 .4 1.5 .4 1.7 .4 1.7 .3 1.3 .4 1.2 .4 1.2 .3 .9 .4 1 .4 1.1 .4 1.2 .3 .8 .4 .7 .4 .9 .4 1 .3 1.1 .4 .9 .4 .7 .3 .9 .4 .7 .4 .5 .4 .8 .3 .8 .4 .4 .4 .1 .3 .1 .4 .5 .4 .6 .4 .7 .3 .3 .4 .3 .4 .2 .3 .1 .4 .1 .4 .7 .4 .8 .3 .3 .4 .3 .4-.1 .3-.3 .4 .4 .4 .5 .4-.2 .3-.1 .4 .5 .4 .4 .4 0 .3-.1 .4-.1 .4 0 .3 0 .4 .1 .4 .1 .4 .5 .3 .5 .4 0 .4-.1 .3 0 .4 0 .4 .3 .4 0 .3-.4 .4 0 .4 .2 .3-.1 .4 0 .4 .5 .4 .6 .3-.1 .4-.2 .4 0 .4-.3 .3-.2 .4 .4 .4-.1 .3-.3 .4 .3 .4 .3 .4-.3 .3-.1 .4 .1 .4-.1 .3 .1 .4 .1 .4-.2 .4-.2 .3 .2 .4-.1 .4-.4 .3-.2 .4 .2 .4 .1 .4 .1 .3 0 .4-.2 .4-.2 .3-.1 .4 .3 .4 .3 .4-.1 .3-.3 .4-.2 .4-.2 .4 .1 .3-.2 .4 0 .4 .4 .3 .5 .4 .1 .4-.4 .4-.4 .3-.1 .4-.1 .4-.3 .3-.1 .4 .1 .4 .3 .4 .1 .3-.1 .4 0 .4 0 .3-.2 .4-.1 .4 .3 .4 0 .3-.1 .4-.3 .4-.2 .4 0 .3 .1 .4 .1 .4-.2 .3-.1 .4-.1 .4 .2 .4 .4 .3-.3 .4-.7 .4-.3 .3 0 .4 .3 .4-.1 .4-.6 .3-.3 .4 .3 .4 .3 .3-.1 .4-.8 .4-.7 .4 0 .3 0 .4 .1 .4-.1 .4-.3 .3 0 .4-.3 .4-.6 .3-.5 .4-.3 .4-.1 .4-.1 .3-.3 .4-.6 .4-.4 .3-.2 .4-.6 .4-.5 .4-.4 .3-.6 .4-.8 .4-1.1 .3-1.1 .4-.7 .4-.3 .4-.7 .3-1.2 .4-.7 .4-1 .3-1.1 .4-.7 .4-.5 .4-1 .3-1.5 .4-1 .4-.7 .4-1.2 .3-1.6 .4-1.2 .4-1 .3-1.4 .4-1 .4-.8 .4-1.4 .3-1.5 .4-.8 .4-1 .3-1.5 .4-1.8 .4-1 .4-.9 .3-1.3 .4-1 .4-1.1 .3-1.2 .4-.7 .4-.5 .4-.5 .3-.7 .4-.3 .4-.5 .4-1.1 .3-.5 .4 .1 .4 .2 .3-.2 .4-.1 .4 .5 .4 .9 .3 .9 .4 .7 .4 1 .3 .7 .4 .5 .4 .9 .4 .9 .3 .7 .4 .8 .4 1.2 .3 1.5 .4 1.3 .4 1.6 .4 1.3 .3 1.2 .4 1.6 .4 1.5 .3 1.3 .4 1 .4 1.1 .4 1.6 .3 1.5 .4 1.5 .4 1.4 .4 1 .3 .5 .4 .9 .4 1.7 .3 1.5 .4 1.1 .4 1 .4 1 .3 1 .4 1 .4 1.1 .3 1.1 .4 1.2 .4 1 .4 .8 .3 .8 .4 .6 .4 .7 .3 .5 .4 .7 .4 1 .4 .7 .3 .3 .4 .1 .4 .2 .4 .7 .3 .7 .4 .5 .4 .6 .3 .3 .4 .8 .4 .5 .4-.6 .3 .3 .4 .9 .4 .4 .3 .2 .4 .4 .4 .5 .4 .1 .3-.1 .4 0 .4 .1 .3 .1 .4 .1 .4 .6 .4 .5 .3 .5 .4-.1 .4-.3 .4 .2 .3 .2 .4 .2 .4 .3 .3 .1 .4 0 .4 0 .4-.2 .3 .1 .4 .5 .4 .1 .3-.1 .4-.1 .4-.3 .4-.3 .3 .5 .4 .5 .4 .3 .3 .2 .4 .2 .4 0 .4-.1 .3-.1 .4-.1 .4 .1 .3 .3 .4-.1 .4-.3 .4-.2 .3 0 .4 0 .4 .2 .4 .3 .3-.2 .4-.1 .4 .4 .3-.1 .4-.2 .4 .2 .4 .1 .3 .1 .4 .3 .4 .2 .3 .2 .4 .1 .4-.1 .4-.1 .3-.1 .4 .1 .4 0 .3-.4 .4-.2 .4 .4 .4 .3 .3 0 .4-.1 .4 .2 .4 .3 .3-.6 .4-.2 .4 .5 .3 0 .4-.1 .4 .1 .4 0 .3 .3 .4-.2 .4-.2 .3 .3 .4 .2 .4 0 .4-.2 .3-.1 .4 .2 .4 .1 .3 .1 .4-.1 .4 .3 .4 .4 .3-.2 .4-.1 .4-.3 .3-.2 .4 .4 .4 0 .4-.4 .3-.1 .4-.1 .4 .3 .4 .4 .3-.2 .4-.4 .4 .1 .3 .2 .4 .2 .4 .1 .4-.2 .3-.3 .4 .3 .4 .5 .3-.2 .4-.4 .4 0 .4 .3 .3 .2 .4 .1 .4 .3 .3-.2 .4-.4 .4 0 .4-.1 .3-.3 .4 .1 .4 0 .4-.2 .3 .2 .4 .3 .4-.1 .3 .1 .4 .3 .4-.1 .4 .2 .3 .3 .4-.2 .4-.2 .3 .2 .4 .2 .4-.2 .4-.3 .3 .1 .4 .1 .4 0 .3 .1 .4-.2 .4-.3 .4 .3 .3 0 .4-.2 .4 .2 .4 .1 .3-.3 .4 .2 .4 .5 .3 .1 .4-.1 .4 0 .4 0 .3-.2 .4-.1 .4 0 .3-.1 .4-.1 .4 .2 .4-.3 .3-.3 .4 .3 .4 .3 .3 .1 .4 0 .4-.3 .4 0 .3 .2 .4-.1 .4-.2 .3 .2 .4 .2 .4 .2 .4 0 .3-.4 .4-.4 .4 .4 .4 .3 .3 0 .4-.2 .4-.2 .3-.2 .4-.2 .4 .1 .4 .1 .3 .1 .4 .3 .4 .3 .3-.1 .4-.1 .4 .2 .4 .2 .3-.4 .4 0 .4 .1 .3 0 .4-.1 .4 0 .4 .3 .3 0 .4-.3 .4-.1 .4 .2 .3 .1 .4 0 .4-.3 .3-.1 .4 .1 .4-.2 .4 0 .3 .2 .4 .1 .4 .5 .3 .2 .4-.1 .4-.3 .4-.1 .3 0 .4 .1 .4 .2 .3-.2 .4 .1 .4 0 .4-.1 .3 .2 .4 .1 .4-.2 .3-.3 .4-.3 .4 .2 .4 .3 .3 .2 .4-.2 .4 0 .4 0 .3-.2 .4 0 .4 .2 .3-.3 .4-.2 .4 0 .4 0 .3 0 .4-.2 .4 .1 .3 .1 .4-.1 .4 .2 .4 .3 .3 .1 .4-.1 .4-.1 .3 .1 .4-.1 .4-.2 .4 .4 .3 .3 .4-.3 .4-.2 .4 .1 .3 .3 .4 .1 .4-.3 .3-.2 .4 .1 .4 .2 .4-.2 .3-.2 .4 .1 .4 .2 .3-.2 .4-.3 .4 .4 .4 .2 .3 0 .4-.1 .4-.5 .3-.1 .4 .6 .4 .2 .4-.5 .3-.3 .4 0 .4 .2 .4 .4 .3 .2 .4 .2 .4-.1 .3-.4 .4-.3 .4-.2 .4 .3 .3 .2 .4-.3 .4-.3 .3 .4 .4 .4 .4-.3 .4-.2 .3 .3 .4 .1 .4-.3 .3 .2 .4 .3 .4 0 .4-.1 .3-.2 .4-.2 .4-.2 .3 .3 .4 .3 .4-.2 .4-.3 .3 0 .4 .1 .4 .3 .4 .1 .3-.2 .4 .4 .4 .1 .3-.4 .4 0 .4 .2 .4 .2 .3 .1 .4-.1 .4-.3 .3 0 .4 .2 .4-.1 .4 0 .3 0 .4-.3 .4 .1 .3 .1 .4-.3 .4 .1 .4 0 .3-.2 .4-.1 .4 .1 .4 .1 .3 .1 .4-.1 .4 .2 .3-.1 .4-.4 .4 .1 .4 0 .3-.3 .4 .4 .4 .3 .3 0 .4 0 .4-.3 .4-.1 .3 .4 .4 .1 .4-.1 .3 0 .4 .1 .4 .1 .4 .2 .3-.1 .4-.2 .4-.1 .3 0 .4 .1 .4-.1 .4 0 .3 .3 .4 .2 .4-.2 .4-.2 .3 0 .4-.2 .4-.3 .3-.2 .4 .1 .4 .5 .4 .1 .3-.3 .4-.2 .4 0 .3 .1 .4-.1 .4-.1 .4 .1 .3 .1 .4 .1 .4 0 .3-.1 .4 0 .4 0 .4-.1 .3 0 .4 .1 .4 .2 .4-.1 .3-.3 .4 .4 .4 .5 .3-.1 .4-.5 .4-.4 .4 .1 .3 .3 .4 .2 .4-.1 .3-.4 .4 0 .4 .3 .4 0 .3 .1 .4 .3 .4-.1 .3 .2 .4 .2 .4-.5 .4-.2 .3 .3 .4 0 .4-.4 .4-.1 .3-.1 .4 0 .4 .3 .3 0 .4 .1 .4 .1 .4 0 .3-.2 .4-.1 .4 .1 .3 .2 .4 0 .4 0 .4 .2 .3 0 .4-.1 .4 0 .3 0 .4-.3 .4-.4 .4-.1 .3 .4 .4-.1 .4-.2 .3 .2 .4 .3 .4-.1 .4-.2 .3 0 .4-.1 .4 0 .4 .3 .3 .2 .4-.1 .4-.3 .3 .2 .4 .1 .4-.4 .4 .1 .3 .5 .4 .2 .4 0 .3-.3 .4 0 .4 .1 .4 .1 .3 0 .4-.1 .4-.4 .3 0 .4 .5 .4 0 .4-.3 .3 0 .4 .2 .4 .1 .4-.1 .3-.3 .4 0 .4 .1 .3-.1 .4 .3 .4 .1 .4-.3 .3-.2 .4 .1 .4-.3 .3 .1 .4 .5 .4-.1 .4-.6 .3 0 .4 .6 .4 .3 .3-.1 .4 0 .4 .1 .4-.1 .3 .1 .4-.1 .4-.4 .4 .1 .3 0 .4-.3 .4 0 .3 .2 .4 .1 .4-.1 .4-.4 .3 .2 .4 .4 .4-.2 .3-.2 .4-.2 .4-.3 .4 .2 .3 .5 .4 .2 .4 .1 .3-.3 .4-.4 .4-.3 .4 .6 .3 .6 .4-.2 .4-.2 .3 .2 .4 0 .4-.2 .4-.2 .3 .1 .4 .1 .4-.2 .4 .1 .3 .3 .4 .1 .4-.2 .3-.2 .4 .2 .4-.2 .4-.2 .3 0 .4 .2 .4-.1 .3-.4 .4-.1 .4 .5 .4 .4 .3-.1 .4-.7 .4-.2 .3 .1 .4 .1 .4 .3 .4 .1 .3-.1 .4 .1 .4 .1 .4-.4 .3-.1 .4 .5 .4 .2 .3-.3 .4 .2 .4 .2 .4-.5 .3-.2 .4-.1 .4-.3 .3 .3 .4 .3 .4 0 .4 .2 .3-.1 .4-.2 .4 .1 .3-.2 .4-.5 .4 0 .4 .1 .3 .1 .4-.1 .4-.1 .3 0 .4 .1 .4 .3 .4 .3 .3 .1 .4-.2 .4-.5 .4-.1 .3 .3 .4 .1 .4 .1 .3 .2 .4 0 .4-.1 .4 .1 .3-.3 .4-.1 .4 .2 .3 .2 .4-.3 .4-.3 .4 0 .3-.2 .4 0 .4 .4 .3 0 .4-.5 .4-.1 .4 .4 .3 0 .4-.3 .4-.2 .4 0 .3 .2 .4 .3 .4-.1 .3-.3 .4 .4 .4 .4 .4-.3 .3-.5 .4-.2 .4 .2 .3 .1 .4-.3 .4-.1 .4 .1 .3 0 .4 0 .4 .2 .3 0 .4 .1 .4 0 .4-.1 .3 0 .4-.3 .4-.1 .4 .3 .3 .2 .4-.1 .4-.3 .3-.1 .4-.1 .4 .1 .4 .2 .3 .2 .4 0 .4-.3 .3-.1 .4 0 .4-.2 .4 .3 .3 .5 .4-.1 .4-.3 .3-.6 .4-.3 .4 .4 .4 .3 .3-.1 .4-.2 .4-.2 .3 .1 .4 .1 .4 0 .4 .1 .3-.1 .4-.4 .4 .2 .4 .4 .3 .1 .4-.1 .4-.3 .3-.1 .4 .2 .4-.1 .4-.3 .3 0 .4-.1 .4-.2 .3 .1 .4 0 .4-.1 .4 .2 .3 .3 .4-.2 .4 0 .3 .3 .4 .2 .4 .1 .4-.2 .3-.3 .4 0 .4 0 .4-.4 .3 0 .4 .3 .4 .2 .3 .1 .4 0 .4-.2 .4-.2 .3 .1 .4 .1 .4 0 .3-.2 .4-.4 .4-.4 .4 .2 .3 .5 .4 .4 .4 .1 .3-.2 .4-.4 .4-.1 .4 .1 .3-.1 .4-.2 .4-.2 .3 .3 .4 .2 .4-.2 .4-.1 .3 .2 .4 .3 .4 .1 .4-.3 .3-.7 .4-.3 .4 .3 .3 .1 .4 0 .4 .3 .4 0 .3-.1 .4-.2 .4-.2 .3 .3 .4-.1 .4-.2 .4 .1 .3-.1 .4-.2 .4 0 .3-.1 .4 .2 .4 .2 .4-.6 .3-.5 .4 .2 .4 .4 .4 .3 .3 .1 .4-.1 .4-.2 .3-.2 .4 .1 .4 .2 .4 .1 .3-.3 .4-.2 .4 .1 .3-.2 .4-.3 .4 .3 .4 .3 .3-.4 .4-.7 .4-.3 .3 .4 .4 .4 .4-.2 .4-.2 .3-.1 .4-.4 .4-.2 .4 .2 .3 0 .4-.3 .4 0 .3 .2 .4-.1 .4 0 .4 .1 .3-.2 .4 0 .4 .2 .3 0 .4-.5 .4-.8 .4-.3 .3 0 .4 .1 .4 .2 .3-.1 .4-.1 .4 .2 .4-.1 .3-.4 .4-.1 .4-.1 .3-.3 .4-.3 .4-.3 .4 0 .3-.1 .4-.2 .4-.1 .4 0 .3-.4 .4-.4 .4-.4 .3 0 .4 .3 .4-.2 .4-.4 .3-.3 .4-.1 .4-.3 .3-.5 .4-.1 .4-.1 .4-.7 .3-.2 .4-.1 .4-.2 .3-.3 .4-.3 .4-.1 .4 0 .3-.3 .4-.4 .4-.4 .4-.4 .3-.2 .4 .3 .4 0 .3-.6 .4-.5 .4-.6 .4-.7 .3-.1 .4 0 .4-.3 .3-.3 .4-.1 .4-.2 .4-.4 .3-.6 .4-.3 .4-.2 .3-.1 .4-.1 .4-.3 .4-.4 .3-.2 .4 0 .4 .1 .3-.2 .4-.5 .4 .1 .4-.1 .3-.4 .4-.1 .4 .2 .4 0 .3-.4 .4 .2 .4 .3 .3 .4 .4 .4 .4 0 .4-.3 .3 0 .4 .4 .4 .5 .3 .2 .4 .1 .4 .1 .4-.3 .3-.3 .4 0 .4 .7 .3 .9 .4 .8 .4 .6 .4-.2 .3-.3 .4 0 .4 .3 .4 .4 .3 .3 .4 .1 .4 .4 .3 .7 .4 .6 .4 .1 .4-.3 .3 .1 .4 .7 .4 .6 .3 .3 .4 .2 .4 .2 .4 .3 .3 .2 .4 .3 .4 .1 .3 .3 .4 .5 .4 .3 .4 .1 .3 .2 .4 .2 .4 .4 .4 .4 .3 .3 .4 0 .4 .2 .3 .1 .4 .3 .4 .6 .4 .2 .3 .1 .4 .2 .4 .1 .3-.1 .4 .1 .4 .3 .4 .2 .3 .2 .4 .2 .4 0 .3 0 .4 .3 .4 .4 .4 .2 .3-.1 .4 0 .4 .3 .3 .2 .4-.4 .4-.2 .4 .5 .3 .3 .4 .4 .4 .5 .4-.1 .3-.3 .4-.1 .4 .3 .3 .3 .4 0 .4 0 .4 .2 .3 .2 .4 .2 .4-.2 .3-.4 .4-.2 .4 .3 .4 .2 .3-.1 .4 0 .4 0 .3 .2 .4 .4 .4 .1 .4 0 .3 .1 .4 .1 .4 .5 .4 .3 .3 0 .4 0 .4-.3 .3 0 .4 .2 .4-.4 .4-.2 .3 0 .4-.2 .4 .1 .3 .5 .4-.1 .4 0 .4 0 .3 .1 .4 .3 .4 .3 .3 0 .4 0 .4 0 .4 .2 .3-.1 .4-.3 .4-.1 .3 .2 .4 .4 .4 0 .4-.2 .3-.1 .4-.1 .4-.2 .4 .1 .3 .1 .4-.1 .4 0 .3 0 .4-.2 .4 0 .4 .2 .3 0 .4-.2 .4-.1 .3 0 .4 .1 .4 0 .4 0 .3-.1 .4 .4 .4 .3 .3-.5 .4 .1 .4 .3 .4 0 .3-.4 .4-.4 .4 .2 .4 .4 .3-.1 .4-.3 .4-.1 .3 .5 .4 .3 .4-.3 .4-.2 .3 .2 .4 .1 .4-.6 .3-.2 .4 .3 .4-.1 .4-.4 .3-.3 .4 .2 .4 .2 .3-.2 .4 0 .4 .2 .4-.1 .3 .3 .4-.1 .4-.5 .4 .1 .3 .2 .4 0 .4 .2 .3 .1 .4-.3 .4-.2 .4-.3 .3-.2 .4 .1 .4-.1 .3 0 .4 .2 .4 0 .4-.2 .3-.3 .4-.1 .4 .3 .3 .1 .4-.1 .4-.2 .4-.2 .3 .1 .4 0 .4-.4 .3 0 .4 .1 .4-.2 .4 .1 .3 .1 .4 0 .4 0 .4 0 .3-.3 .4-.5 .4 0 .3 .1 .4 0 .4 0 .4 0 .3-.1 .4-.2 .4-.2 .3 .4 .4 .3 .4-.2 .4 0 .3 .5 .4 .2 .4-.7 .3-.4 .4 0 .4-.1 .4 0 .3 .2 .4 .2 .4 .2 .4 0 .3-.3 .4 .2 .4 .3 .3-.1 .4 0 .4 .1 .4-.1 .3 .2 .4 .3 .4-.2 .3-.3 .4 .2 .4 0 .4-.3 .3 .2 .4 .4 .4 0 .3-.2 .4 0 .4 .3 .4 .1 .3-.4 .4-.1 .4 .3 .3 .3 .4-.1 .4 0 .4 .1 .3 .3 .4 0 .4 .1 .4 .2 .3-.1 .4 0 .4 .1 .3 .1 .4 .2 .4-.1 .4-.2 .3 0 .4 .1 .4 .6 .3 .2 .4-.4 .4-.4 .4-.1 .3 .4 .4 .4 .4 0 .3 .3 .4-.1 .4-.5 .4 0 .3 .3 .4-.1 .4 0 .4 .1 .3 .3 .4 .5 .4 .1 .3-.6 .4-.2 .4 .4 .4 .2 .3 .2 .4 0 .4-.3 .3 0 .4 .2 .4 .1 .4-.1 .3 .1 .4 .3 .4 .2 .3-.3 .4-.2 .4 .4 .4 .2 .3-.3 .4 0 .4 .3 .4 .4 .3 0 .4 .1 .4 0 .3-.2 .4-.1 .4-.4 .4-.3 .3 .3 .4 .5 .4 .4 .3 .2 .4 0 .4 .1 .4 0 .3-.1 .4 0 .4 .2 .3 .2 .4-.1 .4-.4 .4-.2 .3-.2 .4 .1 .4 .2 .3 .2 .4 0 .4-.5 .4 0 .3 .6 .4 .2 .4 .1 .4 .2 .3-.1 .4-.4 .4 0 .3 .1 .4 0 .4 .1 .4 0 .3 .1 .4 .1 .4-.1 .3-.2 .4-.2 .4 0 .4 0 .3 .3 .4 .2 .4 .2 .3 .1 .4-.4 .4 0 .4 .1 .3-.1 .4 0 .4 0 .4-.1 .3 .2 .4 .1 .4-.4 .3 0 .4 .4 .4 .4 .4 .2 .3-.3 .4-.3 .4 .1 .3 .2 .4-.3 .4-.3 .4 .2 .3 0 .4-.3 .4 .1 .3 .3 .4 .3 .4 .2 .4 0 .3-.3 .4-.2 .4-.2 .3 0 .4 0 .4 .2 .4 .5 .3 .2 .4-.2 .4-.1 .4-.1 .3 0 .4 .2 .4-.1 .3-.3 .4 0 .4 0 .4-.1 .3 .1 .4 .2 .4-.4 .3-.3 .4 .2 .4-.2 .4-.2 .3 .2 .4 .2 .4-.2 .3 .2 .4 .3 .4-.1 .4-.1 .3 0 .4 0 .4-.1 .4 .3 .3 .1 .4-.4 .4-.2 .3 .2 .4 .2 .4-.2 .4-.3 .3 .2 .4 .3 .4 .1 .3 .1 .4 .3 .4-.3 .4-.4 .3 .2 .4 .1 .4-.4 .3-.2 .4 .2 .4 .3 .4-.1 .3-.1 .4 .2 .4 .1 .4-.5 .3 0 .4 .7 .4 .5 .3-.1 .4-.4 .4-.3 .4-.2 .3 .1 .4 .1 .4 0 .3 .1 .4-.1 .4-.3 .4-.5 .3 .2 .4 .6 .4 .2 .3 0 .4 .1 .4-.1 .4-.3 .3-.2 .4 .1 .4 .3 .3 .2 .4-.1 .4-.3 .4-.3 .3-.1 .4 .1 .4-.1 .4 0 .3 .3 .4 .5 .4-.2 .3-.7 .4-.2 .4 .1 .4 .1 .3 .2 .4 .2 .4-.2 .3-.3 .4 .1 .4 .2 .4-.1 .3-.1 .4 0 .4 0 .3-.3 .4 .1 .4 0 .4-.2 .3 0 .4 .3 .4 .1 .4 .3 .3 .2 .4-.1 .4-.2 .3 0 .4-.1 .4 .1 .4 .1 .3-.2 .4-.3 .4-.3 .3-.1 .4 .1 .4 .2 .4 .1 .3 0 .4 0 .4 .2 .3-.1 .4 0 .4-.1 .4 0 .3 .2 .4 0 .4-.1 .3 .3 .4-.2 .4-.1 .4 .5 .3-.2 .4-.3 .4-.1 .4-.1 .3 .3 .4-.4 .4-.4 .3 .2 .4 .3 .4 .2 .4 0 .3 0 .4 .1 .4-.1 .3-.1 .4 .2 .4 0 .4 0 .3 0 .4-.3 .4 .1 .3 .4 .4 0 .4 0 .4-.1 .3-.1 .4 0 .4-.1 .4 0 .3-.1 .4-.1 .4 .1 .3 .2 .4 .3 .4-.1 .4-.3 .3-.4 .4-.3 .4 .2 .3 .4 .4 .2 .4 0 .4-.1 .3-.3 .4 .2 .4 .5 .3-.1 .4-.4 .4 .1 .4 .1 .3 0 .4 .2 .4 .2 .4 .2 .3 0 .4-.2 .4 .1 .3 .1 .4-.2 .4-.2 .4 0 .3 .3 .4 .2 .4 0 .3 0 .4-.3 .4-.2 .4-.1 .3-.3 .4 .2 .4 .2 .3 .1 .4 .1 .4-.3 .4 .1 .3 .3 .4-.2 .4-.2 .3 .1 .4 .2 .4 .5 .4-.1 .3-.6 .4 .3 .4 .3 .4-.1 .3 .2 .4 .5 .4 .2 .3-.3 .4-.5 .4-.1 .4 0 .3-.1 .4 .2 .4 .4 .3-.1 .4 0 .4 .1 .4-.2 .3-.1 .4 .1 .4 .2 .3-.4 .4-.3 .4 .5 .4 .3 .3-.4 .4-.3 .4 .2 .4 .1 .3-.1 .4 .2 .4 .3 .3-.2 .4-.2 .4-.3 .4 0 .3 .1 .4 0 .4 0 .3 .1 .4 .5 .4 .1 .4-.3 .3 .1 .4 0 .4-.2 .3 .1 .4-.2 .4 .1 .4 .3 .3-.5 .4-.5 .4 .4 .3 .2 .4-.3 .4 0 .4 .4 .3 .1 .4-.1 .4-.1 .4-.1 .3 .1 .4 .1 .4 .1 .3 .1 .4 .1 .4-.2 .4 .1 .3-.1 .4-.3 .4 .2 .3 .2 .4-.2 .4 0 .4 0 .3 0 .4 0 .4 0 .3 .2 .4-.3 .4-.1 .4 .5 .3 0 .4-.2 .4 .3 .4-.1 .3-.5 .4-.2 .4 0 .3 .1 .4 .2 .4 0 .4-.2 .3 0 .4 .1 .4 .2 .3-.1 .4-.3 .4 .2 .4 .5 .3 0 .4-.1 .4 0 .3 .2 .4 0 .4-.2 .4-.3 .3-.1 .4-.1 .4-.1 .4-.1 .3-.3 .4 .2 .4 .5 .3 .6 .4 .3 .4-.3 .4-.6 .3-.1 .4 .2 .4-.2 .3 .1 .4 .4 .4 .3 .4-.2 .3-.3 .4-.1 .4 .1 .3 .2 .4-.4 .4-.1 .4 0 .3-.1 .4 0 .4 .5 .3 .4 .4-.2 .4-.5 .4-.1 .3 .3 .4 .1 .4 0 .4 0 .3 .1 .4-.2 .4-.4 .3 .2 .4 .5 .4 .2 .4-.2 .3-.4 .4-.1 .4 .2 .3 .1 .4 .1 .4 0 .4-.4 .3-.3 .4 0 .4 .4 .3 .2 .4-.3" fill="none" stroke="#008000" stroke-width="1.3" stroke-linejoin="round"/>
<path d="M96.8 1575.9l.4-.6 .4-.9 .3-.8 .4-.8 .4-1.2 .3-1.4 .4-1.7 .4-1.6 .4-1.3 .3-.9 .4-.7 .4-.6 .3-.1 .4 .7 .4 .7 .4 .8 .3 1.1 .4 1.4 .4 1 .3 .6 .4 .7 .4 .6 .4 0 .3-.1 .4-.1 .4-.4 .3-.3 .4-.5 .4-.8 .4-.2 .3-.2 .4-1 .4-.8 .4-.1 .3-.3 .4 .2 .4 1.2 .3 1 .4 .2 .4 0 .4 .9 .3 1 .4 .3 .4 .1 .3 .1 .4 0 .4 .4 .4 .5 .3 .4 .4 .1 .4 0 .3 .3 .4-.2 .4-.5 .4 .1 .3-.1 .4-.3 .4 .4 .4 .5 .3 .2 .4 0 .4-.1 .3-.2 .4 0 .4 .3 .4 .3 .3-.1 .4-.2 .4-.2 .3 0 .4 .2 .4-.3 .4-.3 .3 .1 .4-.1 .4-.4 .3 .1 .4 .4 .4-.3 .4-1 .3-.5 .4-.1 .4-.5 .3-.7 .4-.5 .4-.2 .4-.5 .3-.7 .4-.6 .4-.3 .4-.2 .3-.3 .4 0 .4 .4 .3 .3 .4 .4 .4 .9 .4 1 .3 .5 .4 .6 .4 .8 .3 .6 .4 .3 .4 .3 .4 .5 .3 .2 .4-.1 .4 .5 .3 .8 .4 .1 .4-.2 .4 .2 .3 .3 .4 .1 .4 .3 .4 0 .3-.5 .4-.1 .4 .4 .3 .2 .4 0 .4 .2 .4 .1 .3-.3 .4 0 .4 .2 .3 .1 .4 .1 .4 .1 .4 0 .3 .2 .4 .2 .4-.2 .3-.2 .4-.1 .4 .1 .4-.2 .3 0 .4 .4 .4 .1 .4-.3 .3 .3 .4 .5 .4-.1 .3-.2 .4 .1 .4 .2 .4-.1 .3-.4 .4-.2 .4-.1 .3-.1 .4 .3 .4-.1 .4-.1 .3 .3 .4 .1 .4 .1 .3-.4 .4-.4 .4 .4 .4 .1 .3-.3 .4 .3 .4 .2 .3 0 .4 .1 .4-.5 .4-.3 .3 .2 .4 .3 .4 0 .4 .3 .3 .6 .4-.4 .4-.2 .3 .3 .4-.3 .4-.2 .4 0 .3-.1 .4-.1 .4 .2 .3 .3 .4-.1 .4-.1 .4 0 .3 0 .4-.4 .4-.3 .3-.2 .4-.1 .4 .3 .4 .6 .3 .3 .4-.2 .4-.2 .4 0 .3-.3 .4-.1 .4 .3 .3 .1 .4 .2 .4 .5 .4-.1 .3 0 .4 0 .4-.6 .3-.2 .4 .4 .4-.1 .4-.4 .3 .1 .4 .2 .4 0 .3-.2 .4 .2 .4 .6 .4 .6 .3-.2 .4-.7 .4-.5 .3-.2 .4 .3 .4 .4 .4-.3 .3-.2 .4 .4 .4-.2 .4-.2 .3 .6 .4 0 .4-.6 .3 .1 .4 .5 .4 0 .4-.5 .3-.4 .4 0 .4 0 .3-.1 .4 .3 .4 .1 .4-.2 .3 .3 .4 .2 .4-.4 .3-.1 .4 .3 .4 .3 .4 .1 .3-.4 .4-.4 .4 .2 .4 .2 .3 0 .4 .1 .4 0 .3-.4 .4-.2 .4 .2 .4 .2 .3 .1 .4 .1 .4-.1 .3-.3 .4-.1 .4 .2 .4-.1 .3 0 .4 0 .4 0 .3 .1 .4-.2 .4-.3 .4-.1 .3 0 .4 .3 .4-.1 .4-.1 .3 .5 .4 .1 .4-.6 .3-.3 .4 .1 .4-.1 .4-.2 .3 .3 .4 0 .4-.2 .3 .4 .4 .1 .4-.3 .4-.1 .3-.2 .4 .2 .4 .4 .3-.2 .4-.2 .4 0 .4 0 .3 .4 .4 .1 .4-.4 .3-.2 .4 .3 .4 .1 .4-.1 .3 .1 .4-.1 .4-.1 .4-.2 .3-.1 .4 .2 .4 .1 .3 0 .4 0 .4 .1 .4-.2 .3-.2 .4-.5 .4-.4 .3 .3 .4 .4 .4 .2 .4 0 .3-.2 .4-.3 .4-.2 .3 .3 .4 .3 .4-.1 .4 0 .3-.3 .4-.5 .4-.1 .4 .2 .3 .2 .4 .4 .4 .3 .3-.1 .4-.2 .4-.4 .4-.2 .3 .3 .4 .1 .4-.5 .3 0 .4 .4 .4 .1 .4-.1 .3 .1 .4 .1 .4 0 .3 0 .4 .3 .4 .4 .4-.2 .3-.4 .4 .2 .4-.1 .3-.2 .4 .2 .4 .1 .4-.2 .3 0 .4 .4 .4 .3 .4-.1 .3 0 .4 .1 .4-.4 .3-.3 .4 .1 .4 .2 .4 0 .3-.2 .4-.3 .4-.1 .3 .5 .4 .4 .4-.5 .4-.3 .3 .4 .4 .5 .4-.2 .3-.3 .4 .3 .4 .2 .4 .1 .3 .3 .4 0 .4 0 .4-.2 .3-.4 .4 0 .4 .2 .3 0 .4 .3 .4 .2 .4-.3 .3-.1 .4 .4 .4 .3 .3-.4 .4-.3 .4-.1 .4 0 .3-.1 .4-.3 .4 .1 .3 .6 .4 .8 .4-.2 .4-.8 .3-.2 .4 .1 .4 .3 .4 0 .3 0 .4 0 .4-.1 .3 .2 .4 0 .4-.1 .4-.2 .3 0 .4 .3 .4-.1 .3-.2 .4 0 .4 .2 .4 .1 .3-.3 .4-.3 .4 .1 .3 .2 .4 .3 .4 .3 .4 0 .3-.2 .4 0 .4 0 .3-.2 .4-.4 .4-.1 .4 .5 .3 .1 .4-.3 .4 .1 .4 0 .3-.3 .4 .2 .4 .3 .3 .1 .4 0 .4-.1 .4-.4 .3-.5 .4 .2 .4 .5 .3 .1 .4-.3 .4-.3 .4 .3 .3 .3 .4 .1 .4-.2 .3-.5 .4-.2 .4 .2 .4 .1 .3 .2 .4-.2 .4-.2 .4 0 .3 0 .4-.1 .4 .1 .3-.2 .4-.1 .4 .1 .4 .1 .3 .2 .4 .1 .4-.2 .3-.3 .4-.1 .4 0 .4 .2 .3 0 .4-.1 .4-.2 .3 0 .4 .1 .4 .1 .4 0 .3 0 .4 .2 .4-.2 .3-.6 .4 .1 .4 0 .4 .3 .3 .2 .4-.4 .4-.4 .4 .1 .3 0 .4-.1 .4 .1 .3-.2 .4 .1 .4 .2 .4-.4 .3-.2 .4 .3 .4 .2 .3 .1 .4 .1 .4-.2 .4 0 .3 0 .4 .2 .4 .1 .3-.3 .4-.3 .4-.1 .4 .3 .3 .2 .4 0 .4 0 .4-.4 .3-.1 .4 .5 .4 .3 .3 0 .4 0 .4 .4 .4 0 .3-.5 .4-.2 .4 .2 .3 0 .4-.4 .4 .1 .4 .8 .3 .6 .4-.4 .4-.3 .3 .1 .4 .3 .4 .1 .4-.1 .3-.1 .4 0 .4 0 .4 .3 .3 .2 .4-.2 .4 0 .3 0 .4 .1 .4 .3 .4 .2 .3 .1 .4-.2 .4-.4 .3 .1 .4 0 .4 0 .4 .3 .3 .1 .4-.4 .4-.2 .3 .2 .4 .2 .4 .2 .4 .3 .3 .2 .4-.2 .4-.4 .3-.1 .4 .4 .4 0 .4-.2 .3 0 .4 0 .4-.2 .4 .2 .3 .2 .4-.1 .4 0 .3 .5 .4 .3 .4-.1 .4-.3 .3 0 .4 .1 .4-.2 .3-.2 .4 .2 .4 .2 .4-.1 .3-.1 .4-.1 .4-.4 .3-.3 .4 .1 .4 .4 .4 .3 .3-.1 .4-.3 .4-.1 .4 .1 .3 .4 .4 0 .4-.3 .3 0 .4-.3 .4-.2 .4 .3 .3 .2 .4 .3 .4 .4 .3-.2 .4-.5 .4 .2 .4 .3 .3-.3 .4-.3 .4-.1 .3 .2 .4 .5 .4 .3 .4-.2 .3-.5 .4-.2 .4 .2 .4-.1 .3 0 .4 .1 .4 0 .3-.2 .4-.3 .4 .1 .4 .5 .3 0 .4-.3 .4 .1 .3 .1 .4 .2 .4 0 .4-.5 .3 .2 .4 .4 .4 .1 .3 0 .4 .1 .4-.4 .4-.1 .3 .3 .4 .1 .4 0 .3 .1 .4 .2 .4 0 .4-.4 .3-.5 .4 0 .4 .3 .4 .1 .3-.4 .4-.5 .4 .4 .3 .5 .4 .1 .4-.1 .4-.3 .3 .3 .4 .2 .4-.6 .3 0 .4 0 .4-.1 .4 .7 .3 .1 .4-.5 .4-.1 .3-.2 .4-.2 .4-.1 .4 .4 .3 .6 .4 .2 .4-.1 .4 .1 .3-.1 .4-.2 .4-.3 .3-.1 .4 .3 .4 .3 .4-.1 .3-.1 .4-.1 .4-.3 .3-.2 .4 .5 .4 .6 .4-.2 .3-.7 .4-.7 .4 .3 .3 .6 .4 .3 .4 .2 .4-.1 .3-.5 .4 0 .4 .4 .3-.1 .4-.3 .4 0 .4 .5 .3 0 .4-.3 .4 .2 .4 .3 .3-.3 .4-.5 .4 0 .3 .2 .4 .1 .4 .1 .4 0 .3 .1 .4-.3 .4 .1 .3 .3 .4-.3 .4-.3 .4 .5 .3 .3 .4-.4 .4-.3 .3-.1 .4 .2 .4 .1 .4-.1 .3-.2 .4 0 .4 .3 .4 .3 .3-.1 .4-.4 .4-.3 .3 .1 .4 0 .4-.1 .4-.3 .3-.1 .4 .5 .4 .1 .3-.5 .4 .1 .4 .2 .4 .1 .3 .2 .4 0 .4-.3 .3-.3 .4 0 .4 0 .4 .3 .3 .4 .4 .2 .4 0 .4 0 .3-.4 .4-.4 .4 .3 .3 .4 .4 .3 .4 .3 .4-.4 .3-.4 .4-.1 .4-.1 .3-.2 .4 0 .4 .2 .4 .2 .3 .2 .4 .1 .4 .5 .3 .1 .4-.7 .4-.4 .4 .2 .3 .1 .4 .2 .4-.2 .3-.3 .4 .2 .4 .1 .4-.3 .3-.3 .4-.2 .4-.1 .4 .3 .3 .1 .4 0 .4 .5 .3-.1 .4-.4 .4 .2 .4 .1 .3 0 .4 .1 .4 0 .3 0 .4 .3 .4 .1 .4-.5 .3-.3 .4 .1 .4 .1 .3-.4 .4-.3 .4 .1 .4 .4 .3 0 .4-.1 .4 0 .4 0 .3-.2 .4 .3 .4 .2 .3-.5 .4-.1 .4 .5 .4-.2 .3-.6 .4-.1 .4 .5 .3 .1 .4 0 .4 0 .4-.3 .3 .2 .4 .4 .4-.1 .3-.2 .4 0 .4 .1 .4 .1 .3-.2 .4-.2 .4-.1 .3-.1 .4-.1 .4 .1 .4 .4 .3 .3 .4-.1 .4-.2 .4-.3 .3-.3 .4 .2 .4 .4 .3 0 .4-.2 .4-.1 .4 .3 .3 .1 .4-.4 .4-.4 .3 .2 .4 .3 .4-.1 .4-.1 .3 0 .4-.1 .4-.2 .3-.1 .4-.2 .4-.3 .4-.1 .3 .2 .4 0 .4-.1 .4 .2 .3 .1 .4-.2 .4-.2 .3 .2 .4 .5 .4 .2 .4-.4 .3-.3 .4 0 .4 .3 .3-.2 .4-.4 .4 .1 .4-.1 .3-.2 .4 .1 .4-.1 .3-.1 .4 .1 .4 0 .4 .2 .3 .1 .4-.4 .4-.3 .4 .2 .3 .3 .4-.1 .4-.2 .3 0 .4 0 .4-.3 .4-.3 .3 0 .4 .2 .4 0 .3 .1 .4-.1 .4 .1 .4 0 .3-.5 .4-.5 .4 0 .3 .3 .4 .1 .4-.1 .4 .2 .3 .2 .4 .1 .4-.3 .3-.2 .4-.1 .4-.2 .4 0 .3 0 .4-.1 .4 .4 .4 .4 .3-.3 .4-.4 .4 .1 .3 0 .4 0 .4-.4 .4-.3 .3 .1 .4 .1 .4 .1 .3 .2 .4-.2 .4-.3 .4 .1 .3-.1 .4-.3 .4-.1 .3 .2 .4 .2 .4 .1 .4-.1 .3-.1 .4 .2 .4-.4 .4-.6 .3 .3 .4 .6 .4-.5 .3-.6 .4-.2 .4-.1 .4 .6 .3 .4 .4-.5 .4-.3 .3 .1 .4 .2 .4 0 .4-.1 .3-.2 .4-.5 .4-.2 .3 .1 .4 0 .4 .2 .4 .2 .3-.1 .4-.4 .4-.2 .3-.3 .4-.2 .4 .1 .4 .3 .3 .1 .4-.4 .4-.3 .4 0 .3 .3 .4 .4 .4-.1 .3-.7 .4-.3 .4 .3 .4 .1 .3-.2 .4 0 .4 0 .3 0 .4 0 .4 0 .4-.2 .3-.2 .4 .1 .4 .1 .3 0 .4 .1 .4 .1 .4-.2 .3-.4 .4-.2 .4 .2 .4 .1 .3-.4 .4 .1 .4 .1 .3-.5 .4-.2 .4 .3 .4 0 .3 0 .4-.1 .4-.1 .3 .1 .4-.1 .4 0 .4 .2 .3 0 .4-.1 .4-.2 .3-.2 .4-.2 .4 0 .4 0 .3 0 .4 0 .4-.4 .4-.3 .3 .2 .4 .1 .4-.4 .3-.1 .4 0 .4-.1 .4 0 .3 .2 .4 0 .4-.8 .3-.4 .4 .2 .4-.3 .4-.1 .3 .1 .4 0 .4-.1 .3 .1 .4-.1 .4-.1 .4-.1 .3-.3 .4-.5 .4-.1 .3 .1 .4-.2 .4-.1 .4-.1 .3-.5 .4-.3 .4-.1 .4 .2 .3-.5 .4-.8 .4-.4 .3-.2 .4-.5 .4-.6 .4-.1 .3-.1 .4-.1 .4-.6 .3-1 .4-.3 .4 .2 .4-.7 .3-1 .4-.7 .4-.3 .3-.3 .4-.8 .4-.9 .4-.6 .3-.7 .4-1.1 .4-1.1 .4-.5 .3-.7 .4-1.1 .4-1.2 .3-1.6 .4-1.1 .4-.7 .4-1 .3-1.1 .4-1.3 .4-1.5 .3-1.6 .4-1.2 .4-.7 .4-1.2 .3-2 .4-2 .4-1.1 .3-1.1 .4-1.7 .4-1.9 .4-1.7 .3-1.6 .4-1.8 .4-1.4 .3-1.4 .4-1.6 .4-1.2 .4-1.1 .3-1 .4-.8 .4-.9 .4-.9 .3-.4 .4-.5 .4-.7 .3-.2 .4 .3 .4 .2 .4 .1 .3 .7 .4 1 .4 .9 .3 1 .4 .7 .4 1 .4 1.4 .3 1.3 .4 1.8 .4 1.6 .3 .9 .4 1.4 .4 2 .4 1.8 .3 1.8 .4 1.8 .4 1.5 .4 1.5 .3 1.6 .4 1.5 .4 1.5 .3 1.4 .4 1.5 .4 1.5 .4 1.5 .3 1.2 .4 .9 .4 1.1 .3 1.4 .4 1.3 .4 1.2 .4 1 .3 1 .4 1.4 .4 .9 .3 .3 .4 .7 .4 .9 .4 .6 .3 .6 .4 .6 .4 .5 .4 1 .3 1 .4 .9 .4 .5 .3 .2 .4 .3 .4 .6 .4 .5 .3 .3 .4 .5 .4 .6 .3 .3 .4 .3 .4 .1 .4 .4 .3 .5 .4 0 .4 .3 .3 .3 .4 .1 .4 .8 .4 .4 .3-.2 .4 0 .4 .2 .3 .4 .4 .4 .4-.2 .4 .1 .3 .6 .4 .1 .4-.3 .4 .1 .3 .3 .4 0 .4-.1 .3 .1 .4 .3 .4-.1 .4 .1 .3 .1 .4 .1 .4 .4 .3 .5 .4-.1 .4-.3 .4 .1 .3-.1 .4-.1 .4 .1 .3 .2 .4 0 .4-.2 .4 .1 .3 .1 .4-.2 .4 0 .4 .4 .3 0 .4 0 .4 0 .3-.2 .4 0 .4 .2 .4 .1 .3-.2 .4 .2 .4 0 .3-.4 .4-.2 .4 .5 .4 .5 .3-.3 .4-.3 .4-.2 .3-.1 .4 0 .4-.1 .4 0 .3 .4 .4 .5 .4 .1 .3-.3 .4-.4 .4-.1 .4-.1 .3 .2 .4 0 .4-.2 .4 0 .3 .3 .4 .5 .4 .1 .3-.3 .4-.1 .4-.3 .4-.2 .3 .1 .4 .3 .4 0 .3-.3 .4-.4 .4 0 .4 .1 .3 .4 .4 .1 .4-.4 .3-.1 .4 .4 .4-.2 .4-.4 .3 .1 .4-.1 .4-.2 .4 0 .3 .1 .4 0 .4 0 .3-.2 .4 .1 .4 .4 .4-.3 .3-.5 .4 .1 .4-.1 .3-.1 .4-.4 .4-.3 .4 0 .3-.2 .4 .5 .4 .5 .3-.4 .4-.5 .4-.2 .4-.2 .3-.1 .4-.3 .4-.3 .4-.1 .3-.2 .4-.3 .4 .5 .3 .1 .4-.2 .4-.3 .4-.8 .3-.8 .4-.4 .4 .2 .3-.1 .4-.9 .4-.6 .4-.2 .3-.1 .4-.4 .4-.7 .3-.6 .4-.6 .4-.6 .4-.4 .3-.3 .4-.5 .4-1.2 .3-.9 .4-.2 .4-.5 .4-.7 .3-.8 .4-.6 .4-.6 .4-1.1 .3-.7 .4-.3 .4-.7 .3-.9 .4-.8 .4-.8 .4-.6 .3-1.2 .4-1.4 .4-1 .3-.7 .4-.7 .4-.8 .4-.7 .3-.8 .4-.9 .4-.9 .3-.6 .4-.2 .4-.1 .4-.6 .3-.6 .4-.1 .4-.3 .4-.6 .3-.2 .4 .1 .4 .2 .3 0 .4-.1 .4-.2 .4-.1 .3 .8 .4 .8 .4 .1 .3 .4 .4 1 .4 .7 .4 .3 .3 .3 .4 .6 .4 .8 .3 1 .4 1.2 .4 .8 .4 .6 .3 .8 .4 1.3 .4 1.5 .3 .9 .4 .2 .4 .7 .4 1.1 .3 .9 .4 .8 .4 1 .4 1 .3 .9 .4 .7 .4 .7 .3 1.2 .4 1 .4 .7 .4 .3 .3 0 .4 .4 .4 1.1 .3 .8 .4 .4 .4 .7 .4 .7 .3 .8 .4 1 .4 .3 .3 .4 .4 .7 .4 .3 .4 .3 .3 .5 .4 0 .4 .2 .4 .6 .3 .6 .4 .5 .4 .3 .3-.2 .4 .1 .4 .6 .4 .3 .3 .3 .4 .2 .4 .3 .3 .2 .4 0 .4-.1 .4 0 .3 .3 .4 .7 .4 .6 .3-.1 .4-.2 .4 0 .4 .2 .3 .1 .4-.1 .4 .1 .4 .3 .3 .3 .4 0 .4-.2 .3 .2 .4 .3 .4 .1 .4-.1 .3-.4 .4 .1 .4 .5 .3 .2 .4 .1 .4 .2 .4 .3 .3-.5 .4-.2 .4 .5 .3 0 .4-.1 .4 .2 .4-.1 .3-.1 .4 .1 .4-.3 .3-.2 .4 .2 .4 .4 .4 .5 .3 .3 .4-.1 .4-.6 .4-.2 .3 .4 .4 0 .4 .2 .3 .3 .4-.2 .4-.5 .4-.1 .3 .1 .4-.2 .4-.3 .3 .3 .4 .5 .4-.3 .4-.6 .3-.1 .4 .3 .4 .2 .3-.1 .4-.1 .4 .1 .4 .4 .3 .5 .4 .2 .4 .2 .4-.1 .3-.5 .4-.4 .4 0 .3 0 .4 .1 .4 .5 .4-.1 .3-.4 .4 .2 .4 .1 .3 0 .4 .4 .4 .2 .4-.4 .3-.2 .4 .5 .4-.2 .3-.6 .4 .3 .4 .6 .4 .3 .3-.3 .4-.4 .4 0 .3 .4 .4 0 .4-.2 .4 0 .3-.2 .4 0 .4 .2 .4-.1 .3-.1 .4 0 .4 .1 .3 .1 .4 .2 .4 0 .4-.4 .3-.1 .4 .1 .4-.1 .3 .3 .4 .3 .4 0 .4-.1 .3 0 .4 .3 .4 0 .3-.4 .4-.1 .4 .2 .4 .1 .3 .2 .4-.1 .4-.5 .4-.1 .3 .1 .4 .3 .4 .4 .3-.2 .4-.5 .4 .1 .4 .2 .3-.5 .4-.3 .4 .8 .3 .5 .4-.4 .4-.2 .4 .1 .3-.4 .4 0 .4 .7 .3 .2 .4-.4 .4-.1 .4 .5 .3 .1 .4-.1 .4 0 .4-.2 .3-.2 .4 .1 .4 0 .3 0 .4 .3 .4 .1 .4-.3 .3-.1 .4 .1 .4-.3 .3-.1 .4 .3 .4 .3 .4-.2 .3-.4 .4 0 .4 .3 .3 .1 .4-.3 .4-.1 .4 .2 .3 .4 .4-.1 .4-.2 .3 .2 .4 .1 .4-.1 .4-.4 .3-.1 .4 .1 .4-.3 .4 .1 .3 .4 .4 .1 .4-.1 .3-.1 .4 .2 .4 .3 .4 .1 .3 .3 .4 .3 .4-.3 .3-.5 .4-.1 .4 0 .4 .1 .3-.1 .4-.2 .4 .1 .3 .4 .4 0 .4-.4 .4-.4 .3 .2 .4 .3 .4 .1 .4 .1 .3-.1 .4-.5 .4-.2 .3 .5 .4 .7 .4-.2 .4-.4 .3-.1 .4-.3 .4 0 .3 .3 .4-.1 .4-.1 .4 0 .3 .2 .4 .2 .4 0 .3-.2 .4 0 .4 .6 .4 0 .3-.6 .4-.2 .4 .2 .3 .4 .4 .3 .4-.1 .4-.2 .3 .2 .4-.1 .4-.5 .4-.6 .3 0 .4 .3 .4 .1 .3 0 .4 .2 .4 .2 .4 .2 .3 0 .4-.4 .4-.1 .3 .5 .4 .3 .4-.2 .4-.7 .3-.4 .4 .5 .4 .5 .3-.4 .4-.3 .4 .7 .4 .8 .3-.2 .4-.4 .4-.1 .4-.1 .3 .3 .4 .1 .4-.3 .3-.4 .4-.2 .4 0 .4 .2 .3 .2 .4 .1 .4 .1 .3-.1 .4-.1 .4 .2 .4 .3 .3 .1 .4 0 .4 0 .3-.4 .4-.6 .4-.1 .4 .1 .3-.1 .4 .2 .4 .2 .4-.3 .3 .3 .4 .2 .4-.4 .3 .2 .4 .4 .4-.5 .4-.1 .3 0 .4-.3 .4 .1 .3 .2 .4 .1 .4 .1 .4 .3 .3 0 .4-.3 .4-.1 .3 .1 .4 0 .4 .2 .4 0 .3-.2 .4 .2 .4 .3 .3-.4 .4-.6 .4 0 .4 .2 .3 .2 .4 .2 .4 .2 .4 .2 .3-.4 .4-.4 .4 .5 .3 .2 .4-.1 .4 .1 .4 .2 .3-.1 .4-.6 .4 .2 .3 .5 .4-.3 .4-.2 .4 .2 .3 0 .4-.2 .4-.1 .3 .2 .4 0 .4 0 .4 .2 .3 0 .4-.3 .4-.1 .4 .2 .3-.1 .4-.4 .4 .1 .3 .5 .4 0 .4-.1 .4 .2 .3-.2 .4-.6 .4 .1 .3 .3 .4 .1 .4 0 .4 0 .3-.1 .4 0 .4 .2 .3 .2 .4-.2 .4 0 .4 0 .3-.1 .4 0 .4-.1 .3-.2 .4 .2 .4 .2 .4-.1 .3-.3 .4 .2 .4 .7 .4-.1 .3-.6 .4-.3 .4 .1 .3 .1 .4-.1 .4 .2 .4 .1 .3 0 .4 .1 .4 .1 .3-.1 .4-.4 .4-.2 .4 .1 .3 .2 .4 .1 .4-.1 .3 .1 .4 0 .4 0 .4 .2 .3-.3 .4 0 .4 .5 .4 0 .3-.4 .4-.3 .4 .1 .3 0 .4 .1 .4 .5 .4 0 .3-.6 .4-.3 .4 .1 .3 .2 .4 .5 .4 .1 .4-.3 .3-.1 .4 .1 .4 0 .3-.3 .4 0 .4 .5 .4 .2 .3 .2 .4-.1 .4-.4 .4 0 .3-.2 .4-.3 .4 .2 .3 .3 .4-.1 .4 0 .4 .2 .3 0 .4-.2 .4-.2 .3 .1 .4 .1 .4-.1 .4-.2 .3-.1 .4 .1 .4 .4 .3 0 .4-.3 .4 .1 .4 .3 .3 .3 .4-.1 .4-.2 .3-.1 .4 .1 .4 .4 .4 0 .3-.3 .4 0 .4-.2 .4 0 .3 0 .4-.3 .4-.2 .3 .2 .4 .3 .4 .3 .4 .3 .3 0 .4-.5 .4-.3 .3 0 .4 0 .4 .2 .4 .1 .3-.2 .4-.1 .4 .3 .3 0 .4-.5 .4-.2 .4-.2 .3-.1 .4 .4 .4 .4 .4 .1 .3-.2 .4-.5 .4 .1 .3 .2 .4 .1 .4 0 .4-.2 .3 .1 .4 .2 .4 .2 .3 0 .4-.1 .4 0 .4 .2 .3 .4 .4-.2 .4-.5 .3 .4 .4 .3 .4-.5 .4-.3 .3 .1 .4 0 .4-.2 .4-.1 .3 .2 .4 .3 .4 .3 .3-.1 .4 0 .4-.1 .4-.1 .3 .2 .4 0 .4-.2 .3-.3 .4-.2 .4 .1 .4 .3 .3 0 .4-.6 .4 .3 .3 .3 .4-.6 .4-.2 .4 .4 .3 .3 .4-.3 .4-.2 .3 .1 .4 .3 .4 0 .4-.4 .3-.4 .4 .3 .4 .4 .4-.1 .3 0 .4 .6 .4 .4 .3-.4 .4-.3 .4-.2 .4-.1 .3 .1 .4-.1 .4-.1 .3 .4 .4 .6 .4-.1 .4-.3 .3-.1 .4-.1 .4-.3 .3-.2 .4-.1 .4 .2 .4-.1 .3 .1 .4 .5 .4 .1 .4-.2 .3-.3 .4-.4 .4 .5 .3 .5 .4 0 .4-.3 .4 0 .3-.1 .4-.7 .4-.2 .3 .6 .4 .3 .4-.2 .4-.1 .3-.3 .4-.1 .4 .1 .3 .3 .4 .1 .4-.4 .4 0 .3 .6 .4-.1 .4-.3 .3-.2 .4 0 .4 .4 .4 0 .3-.1 .4-.2 .4-.3 .4-.2 .3 .1 .4 .4 .4 .1 .3-.3 .4 .2 .4 .4 .4 0 .3-.4 .4-.2 .4 .1 .3-.3 .4 0 .4 .1 .4-.1 .3 .4 .4 .4 .4-.3 .3-.5 .4 0 .4 .3 .4 .1 .3 .2 .4 .3 .4-.1 .4-.4 .3-.1 .4 .1 .4-.2 .3 0 .4 .3 .4 0 .4-.8 .3-.1 .4 .7 .4 .5 .3 0 .4-.4 .4-.3 .4 .1 .3 0 .4-.6 .4 .2 .3 .7 .4 0 .4-.3 .4-.3 .3-.2 .4 .4 .4 .2 .4-.1 .3-.1 .4-.1 .4-.4 .3-.4 .4 0 .4 .6 .4 .5 .3 .1 .4-.2 .4-.1 .3 .1 .4-.2 .4-.5 .4-.2 .3 .1 .4 .3 .4 .6 .3-.1 .4-.5 .4-.1 .4 0 .3-.1 .4 0 .4 0 .3 0 .4 .3 .4 .2 .4-.1 .3-.3 .4 .1 .4 .3 .4 .2 .3-.3 .4-.5 .4-.2 .3 0 .4 .3 .4-.1 .4 0 .3-.2 .4-.4 .4 .4 .3-.1 .4-.2 .4 .7 .4 .7 .3 0 .4 .1 .4-.5 .3-1 .4-.3 .4 .4 .4 .3 .3 .1 .4-.1 .4 0 .4-.2 .3-.3 .4 0 .4 .2 .3 .3 .4 .2 .4-.4 .4-.4 .3 .1 .4 .6 .4 .1 .3-.5 .4-.2 .4 0 .4 .2 .3 .1 .4-.4 .4-.4 .3 .2 .4 .6 .4 .3 .4 .1 .3-.3 .4-.7 .4-.1 .3 .3 .4 .1 .4 0 .4-.1 .3 0 .4 .2 .4 .1 .4-.3 .3-.5 .4 0 .4 .2 .3 .2 .4 .1 .4 .1 .4-.1 .3-.1 .4 0 .4-.4 .3-.3 .4 .3 .4 .2 .4-.2 .3 .2 .4 .2 .4 0 .3 .2 .4 0 .4-.3 .4-.2 .3 .1 .4 0 .4-.5 .4-.1 .3 .2 .4-.1 .4-.2 .3 0 .4 .3 .4 0 .4-.2 .3 0 .4 .1 .4-.1 .3-.1 .4-.2 .4-.2 .4-.3 .3 .1 .4 .3 .4 .2 .3 .1 .4-.2 .4 0 .4 0 .3-.1 .4-.1 .4-.1 .4 .2 .3 .2 .4-.5 .4-.3 .3 0 .4-.1 .4 0 .4-.1 .3-.3 .4-.3 .4-.3 .3 .5 .4 .6 .4 .2 .4-.3 .3-.2 .4 .2 .4-.2 .3-.6 .4-.1 .4 .3 .4 .1 .3-.3 .4-.4 .4-.2 .3-.1 .4-.1 .4-.2 .4-.4 .3-.3 .4 0 .4 0 .4-.3 .3-.2 .4-.1 .4-.2 .3 .1 .4 .1 .4-.1 .4-.2 .3-.4 .4-.7 .4 .2 .3 .2 .4-.4 .4-.1 .4-.1 .3-.4 .4-.4 .4-.2 .3-.1 .4 .2 .4-.2 .4-.5 .3-.1 .4-.2 .4 0 .4-.1 .3-.6 .4-.1 .4 .4 .3-.4 .4-.3 .4-.1 .4-.3 .3-.3 .4-.4 .4-.2 .3 0 .4-.3 .4-.5 .4 0 .3 .1 .4-.4 .4 .2 .3 .3 .4-.5 .4-.5 .4-.1 .3-.2 .4-.3 .4-.1 .3-.1 .4-.2 .4 .2 .4 .1 .3 .1 .4 .1 .4-.1 .4-.2 .3-.2 .4 0 .4-.1 .3 .1 .4 .4 .4-.2 .4-.5 .3 .3 .4 .4 .4 .1 .3 .7 .4 .4 .4-.2 .4 .3 .3 .6 .4 0 .4 0 .3 .3 .4-.1 .4 0 .4 0 .3 .5 .4 .3 .4 .1 .4 .7 .3 .5 .4 0 .4-.2 .3-.1 .4 0 .4 .2 .4 .4 .3 .4 .4 .3 .4 .2 .3 0 .4 0 .4 .3 .4 .4 .3 .3 .4 .2 .4 .4 .3 .3 .4 .2 .4-.1 .4 .2 .3 .1 .4-.3 .4 .3 .4 .7 .3 .4 .4 .2 .4 .1 .3 .4 .4 0 .4-.3 .4 0 .3 .3 .4-.1 .4 .1 .3 .7 .4 .2 .4-.3 .4-.1 .3 .2 .4-.3 .4-.3 .3 .5 .4 .4 .4 .5 .4 .5 .3 .2 .4-.1 .4-.4 .3-.1 .4 .1 .4 .2 .4 .3 .3 .1 .4 .1 .4 .2 .4 .3 .3 .1 .4-.1 .4 0 .3-.1 .4-.2 .4 0 .4 .3 .3 .1 .4-.1 .4-.1 .3 0 .4-.3 .4 .2 .4 .7 .3 0 .4-.2 .4 .5 .3 .2 .4-.5 .4-.1 .4 .3 .3 .1 .4 .2 .4 .1 .4-.3 .3 .1 .4 .2 .4 .2 .3 0 .4-.4 .4 .1 .4 .5 .3-.1 .4-.4 .4 .2 .3 .4 .4 .1 .4-.1 .4-.2 .3-.2 .4-.1 .4-.3 .3 .1 .4 .4 .4 .1 .4-.2 .3-.1 .4 .2 .4 .1 .3 0 .4 .1 .4-.3 .4-.1 .3 0 .4 0 .4 .3 .4-.1 .3-.3 .4 0 .4 .2 .3 .1 .4-.1 .4 .1 .4 .3 .3 .1 .4-.1 .4-.1 .3-.3 .4-.2 .4 .2 .4 .2 .3 .1 .4 0 .4 .3 .3-.1 .4 0 .4 .1 .4-.3 .3-.4 .4 0 .4-.1 .4 .2 .3 .2 .4-.1 .4 0 .3-.2 .4 0 .4 .3 .4-.1 .3-.3 .4 .1 .4-.1 .3-.4 .4 .2 .4 .4 .4 0 .3-.1 .4-.2 .4-.1 .3-.1 .4-.4 .4 .3 .4 .3 .3-.2 .4 .1 .4 .3 .4-.3 .3-.4 .4 .1 .4-.3 .3-.1 .4 .5 .4 .2 .4-.4 .3-.1 .4 .1 .4 .2 .3 0 .4-.3 .4-.6 .4-.4 .3 .6 .4 .3 .4-.4 .3-.1 .4 0 .4-.1 .4 .1 .3 .3 .4 .1 .4-.1 .3-.1 .4-.4 .4 .1 .4 .4 .3-.6 .4-.7 .4-.1 .4 .3 .3 .1 .4 0 .4-.1 .3 .1 .4 .1 .4 .1 .4 .1 .3 .2 .4-.2 .4-.6 .3-.3 .4 .1 .4 .6 .4 .5 .3-.4 .4-.6 .4 .1 .3 .4 .4 0 .4-.3 .4 .3 .3-.1 .4-1 .4-.3 .4 .6 .3 .8 .4 .1 .4-.6 .3-.3 .4-.2 .4 .1 .4 .5 .3 .1 .4 0 .4 .2 .3 .1 .4-.3 .4-.3 .4 .1 .3-.1 .4-.1 .4 .4 .3 .2 .4 0 .4 0 .4 .1 .3 .2 .4-.3 .4-.3 .3 .4 .4 0 .4-.5 .4-.2 .3 .6 .4 .6 .4-.1 .4-.5 .3 .1 .4 .5 .4-.1 .3-.1 .4 .2 .4 .1 .4 .6 .3 0 .4-.5 .4 .1 .3 .1 .4-.2 .4 .2 .4-.1 .3-.3 .4 .1 .4 .4 .3 .5 .4 .3 .4 0 .4-.3 .3 0 .4 .1 .4 0 .4-.1 .3-.2 .4 .2 .4 .2 .3-.1 .4-.1 .4 .1 .4 .3 .3 0 .4 .1 .4 .2 .3-.1 .4 .2 .4 .1 .4-.3 .3-.1 .4 .3 .4 .2 .3 .1 .4 .4 .4 .3 .4-.3 .3-.3 .4 0 .4 0 .4 .1 .3 .1 .4-.3 .4-.4 .3 .1 .4 .4 .4 .5 .4 .1 .3-.4 .4-.3 .4 0 .3 0 .4 .1 .4 .2 .4 .5 .3 .2 .4-.1 .4-.2 .3-.4 .4-.2 .4 .3 .4 .3 .3 .2 .4 .1 .4 0 .3 .2 .4 .1 .4-.2 .4-.1 .3 0 .4-.2 .4 .1 .4 .1 .3-.3 .4 0 .4 .4 .3 .1 .4-.2 .4-.1 .4 .1 .3 .1 .4-.1 .4 .1 .3 .2 .4-.1 .4-.4 .4-.2 .3 .2 .4 .3 .4 0 .3 0 .4 .4 .4 0 .4-.2 .3 .1 .4 .1 .4-.2 .4-.4 .3-.1 .4 .1 .4 0 .3 .2 .4-.1 .4-.2 .4-.2 .3-.2 .4 .4 .4 .5 .3 .2 .4-.1 .4-.1 .4 .1 .3 0 .4-.1 .4-.4 .3-.1 .4 .6 .4 .6 .4-.2 .3-.2 .4-.1 .4-.1 .3-.1 .4-.2 .4 0 .4 .1 .3 .2 .4 0 .4 0 .4-.2 .3 .2 .4 0 .4-.2 .3 0 .4 0 .4-.2 .4 0 .3 .3 .4 .1 .4 0 .3 .2 .4-.2 .4-.2 .4 .2 .3 .1 .4-.1 .4-.2 .3-.2 .4 .1 .4 .1 .4-.1 .3 .1 .4 .2 .4 .3 .4 .1 .3-.3 .4-.1 .4-.1 .3 .4 .4 .4 .4-.2 .4-.3 .3 .1 .4-.1 .4-.2 .3 .1 .4-.3 .4-.2 .4 .6 .3 .2 .4-.7 .4 .1 .3 .5 .4 .1 .4-.1 .4-.5 .3-.1 .4 .2 .4-.2 .4-.2 .3 0 .4 .1 .4 .2 .3-.1 .4-.1 .4 .2 .4 .5 .3-.2 .4-.7 .4 .3 .3 .6 .4-.1 .4-.4 .4 .4 .3 .3 .4-.3 .4-.4 .3 .2 .4 .1 .4-.6 .4-.4 .3 .3 .4 .2 .4-.3 .3-.1 .4 .3 .4 .1 .4 0 .3 .2 .4 0 .4-.4 .4-.4 .3 .2 .4 .7 .4 .2 .3-.4 .4-.4 .4 0 .4-.1 .3 0 .4 .1 .4 0 .3-.2 .4 0 .4-.1 .4-.1 .3 .3 .4 .3 .4 .1 .3-.2 .4 .2 .4 .6 .4 .2 .3-.3 .4-.5 .4-.5 .4 .2 .3 .1 .4-.1 .4-.2 .3 0 .4 .3 .4 .1 .4-.3 .3-.2 .4 .3 .4 .2 .3-.1 .4 .1 .4-.1 .4-.2 .3 .2 .4 .3 .4 0 .3-.3 .4-.1 .4 .2 .4-.1 .3 0 .4-.2 .4-.5 .3 .2 .4 .5 .4-.1 .4-.5 .3 0 .4 .2 .4-.1 .4 .2 .3 .3 .4 .3 .4-.1 .3-.2 .4-.5 .4 0 .4 .3 .3-.1 .4-.2 .4 .3 .3 0 .4 0 .4-.2 .4 0 .3 .4 .4-.1 .4-.4 .3 .1 .4 0 .4-.1 .4-.1 .3-.1 .4 .1 .4 .3 .4 .1 .3 .1 .4 .3 .4-.1 .3-.3 .4 .1 .4 .1 .4-.1 .3 .2 .4 .1 .4-.2 .3 0 .4 .7 .4 .2 .4-.5 .3-.3 .4-.2 .4 0 .3 .3 .4-.1 .4-.3 .4 .2 .3 .4 .4 .1 .4-.2 .4-.2 .3 .2 .4 .1 .4-.5 .3-.4 .4 .1 .4 .5 .4 .2 .3 0 .4 .4 .4 .2 .3-.3 .4-.5 .4 .1 .4 .4 .3 .3 .4-.4 .4-.4 .3 0 .4 0 .4 0 .4 0 .3 .3 .4 .1 .4 0 .3 .2 .4 0 .4 0 .4-.2 .3-.3 .4 .2 .4 .4 .4 .1 .3-.1 .4-.2 .4-.4 .3 0 .4 .2 .4 .1 .4 .2 .3 0 .4 .1 .4 .2 .3-.4 .4-.1 .4 0 .4-.2 .3 .2 .4 0 .4-.4 .3 .1 .4 .1 .4-.4 .4 0 .3 .5 .4-.2 .4 .2 .4 .5 .3-.2 .4 .1 .4 .2 .3-.4 .4 .4 .4 .2 .4-.2 .3 0 .4 0 .4-.2 .3-.1 .4 .2 .4 .2 .4-.1 .3-.2 .4-.1 .4 .1 .3 .2 .4 .1 .4-.2 .4-.4 .3-.5 .4 .2 .4 .3 .3-.1 .4 0 .4 0 .4 .3 .3 .3 .4 .1 .4-.1 .4 .2 .3 .4 .4-.4 .4-.6 .3-.1 .4 .2 .4-.1 .4-.2 .3 .2 .4 .6 .4-.2 .3-.2 .4 0 .4-.3 .4 0 .3 .6 .4 .1 .4-.3 .3 0 .4-.2 .4-.2 .4-.1 .3 .2 .4 .2 .4 0 .4-.1 .3 .2 .4 .3 .4-.1 .3-.3 .4 .1 .4 .2 .4-.2 .3-.2 .4 .3 .4-.1 .3-.3 .4 .4 .4 .3 .4-.2 .3-.1 .4 0 .4-.3 .3-.2 .4 .3 .4 .3 .4-.1 .3-.1 .4-.1 .4-.4 .4 .1 .3 .5 .4 .4 .4-.3 .3-.8 .4-.1 .4 .3 .4 .4 .3 .3 .4-.2 .4-.4 .3 .1 .4 .2 .4-.2 .4 .1 .3 .5 .4 .2 .4 0 .3 .2 .4 0 .4-.1 .4 0 .3-.1 .4 .1 .4-.2 .3-.4 .4-.1 .4 .2 .4 0 .3 0 .4-.3 .4-.1 .4 .3 .3 .3 .4-.2 .4-.2 .3-.2 .4-.1 .4 0 .4 .2 .3-.2 .4 .1 .4 .3 .3-.2 .4 .1 .4 .5 .4 .1 .3-.2 .4-.5 .4-.4 .3 .1 .4 .3" fill="none" stroke="#0000ff" stroke-width="1.3" stroke-linejoin="round"/>
<path d="M93.3 885.6H1266.4V1579.2" fill="none" stroke="#5c5c5c" stroke-width="1.45"/>
<path d="M93.3 885.6V1579.2H1267.0" fill="none" stroke="#5a5a5a" stroke-width="1.6"/>
<path d="M86.1 1575.7H93.3M86.1 1546.9H93.3M86.1 1518.1H93.3M86.1 1489.3H93.3M86.1 1460.6H93.3M86.1 1431.8H93.3M86.1 1403.0H93.3M86.1 1374.2H93.3M86.1 1345.4H93.3M86.1 1316.6H93.3M86.1 1287.8H93.3M86.1 1259.0H93.3M86.1 1230.3H93.3M86.1 1201.5H93.3M86.1 1172.7H93.3M86.1 1143.9H93.3M86.1 1115.1H93.3M86.1 1086.3H93.3M86.1 1057.5H93.3M86.1 1028.7H93.3M86.1 1000.0H93.3M86.1 971.2H93.3M86.1 942.4H93.3M86.1 913.6H93.3" stroke="#5a5a5a" stroke-width="1.4" fill="none"/>
<path d="M164.4 1579.2V1586.6M249.0 1579.2V1590.9M333.5 1579.2V1586.6M418.0 1579.2V1590.9M502.6 1579.2V1586.6M587.1 1579.2V1590.9M671.6 1579.2V1586.6M756.2 1579.2V1590.9M840.7 1579.2V1586.6M925.2 1579.2V1590.9M1009.8 1579.2V1586.6M1094.3 1579.2V1590.9M1178.8 1579.2V1586.6M1263.4 1579.2V1590.9" stroke="#5a5a5a" stroke-width="1.4" fill="none"/>
<text transform="translate(249.0,1609.7) scale(1,1.10)" font-size="19.3" font-weight="bold" fill="#1c1c1c" text-anchor="middle" word-spacing="2.5">500</text>
<text transform="translate(417.3,1609.7) scale(1,1.10)" font-size="19.3" font-weight="bold" fill="#1c1c1c" text-anchor="middle" word-spacing="2.5">1 000</text>
<text transform="translate(586.4,1609.7) scale(1,1.10)" font-size="19.3" font-weight="bold" fill="#1c1c1c" text-anchor="middle" word-spacing="2.5">1 500</text>
<text transform="translate(755.5,1609.7) scale(1,1.10)" font-size="19.3" font-weight="bold" fill="#1c1c1c" text-anchor="middle" word-spacing="2.5">2 000</text>
<text transform="translate(924.5,1609.7) scale(1,1.10)" font-size="19.3" font-weight="bold" fill="#1c1c1c" text-anchor="middle" word-spacing="2.5">2 500</text>
<text transform="translate(1093.6,1609.7) scale(1,1.10)" font-size="19.3" font-weight="bold" fill="#1c1c1c" text-anchor="middle" word-spacing="2.5">3 000</text>
<text transform="translate(1265.0,1609.7) scale(1,1.10)" font-size="19.3" font-weight="bold" fill="#1c1c1c" text-anchor="end" word-spacing="2.5">3 500</text>
<path d="M130.3 956.8V973.4" stroke="#ff0000" stroke-width="1.30" fill="none"/>
<path d="M130.3 975.4L127.3 968.1L130.3 970.0L133.3 968.1Z" fill="#ff0000"/>
<text transform="translate(136.3,950.6) rotate(-90) scale(1,1.18)" font-size="19.3" fill="#ff0000">149.1</text>
<path d="M214.3 1119.8V1136.4" stroke="#ff0000" stroke-width="1.30" fill="none"/>
<path d="M214.3 1138.4L211.4 1131.1L214.3 1133.0L217.3 1131.1Z" fill="#ff0000"/>
<text transform="translate(220.3,1113.6) rotate(-90) scale(1,1.18)" font-size="19.3" fill="#ff0000">397.6</text>
<path d="M253.7 1119.4V1136.0" stroke="#ff0000" stroke-width="1.30" fill="none"/>
<path d="M253.7 1138.0L250.7 1130.7L253.7 1132.6L256.6 1130.7Z" fill="#ff0000"/>
<text transform="translate(259.7,1113.2) rotate(-90) scale(1,1.18)" font-size="19.3" fill="#ff0000">513.9</text>
<path d="M294.5 1112.9V1129.5" stroke="#ff0000" stroke-width="1.30" fill="none"/>
<path d="M294.5 1131.5L291.5 1124.2L294.5 1126.1L297.5 1124.2Z" fill="#ff0000"/>
<text transform="translate(300.5,1106.7) rotate(-90) scale(1,1.18)" font-size="19.3" fill="#ff0000">634.7</text>
<path d="M525.7 1026.8V1043.4" stroke="#ff0000" stroke-width="1.30" fill="none"/>
<path d="M525.7 1045.4L522.7 1038.1L525.7 1040.0L528.6 1038.1Z" fill="#ff0000"/>
<text transform="translate(531.7,1020.6) rotate(-90) scale(1,1.18)" font-size="19.3" fill="#ff0000">1318.3</text>
<path d="M618.2 1060.5V1077.1" stroke="#ff0000" stroke-width="1.30" fill="none"/>
<path d="M618.2 1079.1L615.2 1071.8L618.2 1073.7L621.1 1071.8Z" fill="#ff0000"/>
<text transform="translate(624.2,1054.3) rotate(-90) scale(1,1.18)" font-size="19.3" fill="#ff0000">1591.9</text>
<path d="M968.4 1103.2V1119.8" stroke="#ff0000" stroke-width="1.30" fill="none"/>
<path d="M968.4 1121.8L965.5 1114.5L968.4 1116.4L971.4 1114.5Z" fill="#ff0000"/>
<text transform="translate(974.4,1097.0) rotate(-90) scale(1,1.18)" font-size="19.3" fill="#ff0000">2627.8</text>
<path d="M130.6 1214.6V1231.2" stroke="#800000" stroke-width="1.30" fill="none"/>
<path d="M130.6 1233.2L127.6 1225.9L130.6 1227.8L133.5 1225.9Z" fill="#800000"/>
<text transform="translate(136.6,1208.4) rotate(-90) scale(1,1.18)" font-size="19.3" fill="#800000">149.8</text>
<path d="M213.5 1293.2V1309.8" stroke="#800000" stroke-width="1.30" fill="none"/>
<path d="M213.5 1311.8L210.5 1304.5L213.5 1306.4L216.5 1304.5Z" fill="#800000"/>
<text transform="translate(219.5,1287.0) rotate(-90) scale(1,1.18)" font-size="19.3" fill="#800000">395.1</text>
<path d="M253.0 1293.8V1310.4" stroke="#800000" stroke-width="1.30" fill="none"/>
<path d="M253.0 1312.4L250.0 1305.1L253.0 1307.0L255.9 1305.1Z" fill="#800000"/>
<text transform="translate(259.0,1287.6) rotate(-90) scale(1,1.18)" font-size="19.3" fill="#800000">511.8</text>
<path d="M294.6 1289.3V1305.9" stroke="#800000" stroke-width="1.30" fill="none"/>
<path d="M294.6 1307.9L291.6 1300.6L294.6 1302.5L297.5 1300.6Z" fill="#800000"/>
<text transform="translate(300.6,1283.1) rotate(-90) scale(1,1.18)" font-size="19.3" fill="#800000">634.9</text>
<path d="M525.3 1213.1V1229.7" stroke="#800000" stroke-width="1.30" fill="none"/>
<path d="M525.3 1231.7L522.3 1224.4L525.3 1226.3L528.2 1224.4Z" fill="#800000"/>
<text transform="translate(531.3,1206.9) rotate(-90) scale(1,1.18)" font-size="19.3" fill="#800000">1317.1</text>
<path d="M617.4 1238.5V1255.1" stroke="#800000" stroke-width="1.30" fill="none"/>
<path d="M617.4 1257.1L614.5 1249.8L617.4 1251.7L620.4 1249.8Z" fill="#800000"/>
<text transform="translate(623.4,1232.3) rotate(-90) scale(1,1.18)" font-size="19.3" fill="#800000">1589.7</text>
<path d="M967.6 1277.9V1294.5" stroke="#800000" stroke-width="1.30" fill="none"/>
<path d="M967.6 1296.5L964.7 1289.2L967.6 1291.1L970.6 1289.2Z" fill="#800000"/>
<text transform="translate(973.6,1271.7) rotate(-90) scale(1,1.18)" font-size="19.3" fill="#800000">2625.4</text>
<path d="M1060.3 1292.5V1309.1" stroke="#800000" stroke-width="1.30" fill="none"/>
<path d="M1060.3 1311.1L1057.3 1303.8L1060.3 1305.7L1063.2 1303.8Z" fill="#800000"/>
<text transform="translate(1066.3,1286.3) rotate(-90) scale(1,1.18)" font-size="19.3" fill="#800000">2899.4</text>
<path d="M131.4 1380.6V1397.2" stroke="#008000" stroke-width="1.30" fill="none"/>
<path d="M131.4 1399.2L128.5 1391.9L131.4 1393.8L134.4 1391.9Z" fill="#008000"/>
<text transform="translate(137.4,1374.4) rotate(-90) scale(1,1.18)" font-size="19.3" fill="#008000">152.4</text>
<path d="M525.2 1359.1V1375.7" stroke="#008000" stroke-width="1.30" fill="none"/>
<path d="M525.2 1377.7L522.2 1370.4L525.2 1372.3L528.2 1370.4Z" fill="#008000"/>
<text transform="translate(531.2,1352.9) rotate(-90) scale(1,1.18)" font-size="19.3" fill="#008000">1317.0</text>
<path d="M615.8 1390.3V1406.9" stroke="#008000" stroke-width="1.30" fill="none"/>
<path d="M615.8 1408.9L612.9 1401.6L615.8 1403.5L618.8 1401.6Z" fill="#008000"/>
<text transform="translate(621.8,1384.1) rotate(-90) scale(1,1.18)" font-size="19.3" fill="#008000">1585.0</text>
<path d="M967.4 1431.4V1448.0" stroke="#008000" stroke-width="1.30" fill="none"/>
<path d="M967.4 1450.0L964.4 1442.7L967.4 1444.6L970.3 1442.7Z" fill="#008000"/>
<text transform="translate(973.4,1425.2) rotate(-90) scale(1,1.18)" font-size="19.3" fill="#008000">2624.6</text>
<path d="M1058.2 1447.6V1464.2" stroke="#008000" stroke-width="1.30" fill="none"/>
<path d="M1058.2 1466.2L1055.2 1458.9L1058.2 1460.8L1061.1 1458.9Z" fill="#008000"/>
<text transform="translate(1064.2,1441.4) rotate(-90) scale(1,1.18)" font-size="19.3" fill="#008000">2893.2</text>
<path d="M131.1 1543.5V1560.1" stroke="#0000ff" stroke-width="1.30" fill="none"/>
<path d="M131.1 1562.1L128.1 1554.8L131.1 1556.7L134.1 1554.8Z" fill="#0000ff"/>
<text transform="translate(137.1,1537.3) rotate(-90) scale(1,1.18)" font-size="19.3" fill="#0000ff">151.4</text>
<path d="M524.7 1483.2V1499.8" stroke="#0000ff" stroke-width="1.30" fill="none"/>
<path d="M524.7 1501.8L521.7 1494.5L524.7 1496.4L527.7 1494.5Z" fill="#0000ff"/>
<text transform="translate(530.7,1477.0) rotate(-90) scale(1,1.18)" font-size="19.3" fill="#0000ff">1315.5</text>
<path d="M615.9 1510.9V1527.5" stroke="#0000ff" stroke-width="1.30" fill="none"/>
<path d="M615.9 1529.5L613.0 1522.2L615.9 1524.1L618.9 1522.2Z" fill="#0000ff"/>
<text transform="translate(621.9,1504.7) rotate(-90) scale(1,1.18)" font-size="19.3" fill="#0000ff">1585.3</text>
<path d="M966.7 1537.5V1554.1" stroke="#0000ff" stroke-width="1.30" fill="none"/>
<path d="M966.7 1556.1L963.7 1548.8L966.7 1550.7L969.6 1548.8Z" fill="#0000ff"/>
<text transform="translate(972.7,1531.3) rotate(-90) scale(1,1.18)" font-size="19.3" fill="#0000ff">2622.6</text>
<path d="M1060.2 1548.9V1565.5" stroke="#0000ff" stroke-width="1.30" fill="none"/>
<path d="M1060.2 1567.5L1057.3 1560.2L1060.2 1562.1L1063.2 1560.2Z" fill="#0000ff"/>
<text transform="translate(1066.2,1542.7) rotate(-90) scale(1,1.18)" font-size="19.3" fill="#0000ff">2899.3</text>
<circle cx="742" cy="720" r="0.9" fill="#444"/><circle cx="753.6" cy="1615.4" r="1.0" fill="#444"/>
</svg>

<svg width="1298" height="1747" viewBox="0 0 1298 1747" style="position:absolute;left:0;top:0;font-family:'Liberation Serif',serif" fill="#0a0a0a">
<text id="xa" x="480.2" y="758.4" font-size="34.6" font-weight="bold">Raman shift (cm<tspan dy="-10.5" font-size="21.5">&#8722;1</tspan><tspan dy="10.5">)</tspan></text>
<text id="xb" x="519.4" y="1663.8" font-size="38.4" font-weight="bold">Raman shift (cm<tspan dy="-11.6" font-size="23.8">&#8722;1</tspan><tspan dy="11.6">)</tspan></text>
<text id="ya" transform="translate(106.5,444.9) rotate(-90) scale(1.012,1)" font-size="34.6" font-weight="bold">Intensity (a.u.)</text>
<text id="yb" transform="translate(55.1,1354.8) rotate(-90) scale(1.02,1)" font-size="38.4" font-weight="bold">Intensity (a.u.)</text>
<g id="ca" font-size="34"><text transform="translate(622.0,831.9) scale(0.84,1)">(</text><text transform="translate(632.4,831.9) scale(0.94,1)" font-weight="bold">a</text><text transform="translate(649.4,831.9) scale(0.80,1)">)</text></g>
<g id="cb" font-size="34"><text transform="translate(620.0,1718.7) scale(0.84,1)">(</text><text transform="translate(630.0,1718.7) scale(1.03,1)" font-weight="bold">b</text><text transform="translate(651.1,1718.7) scale(0.80,1)">)</text></g>
</svg>

</body></html>
